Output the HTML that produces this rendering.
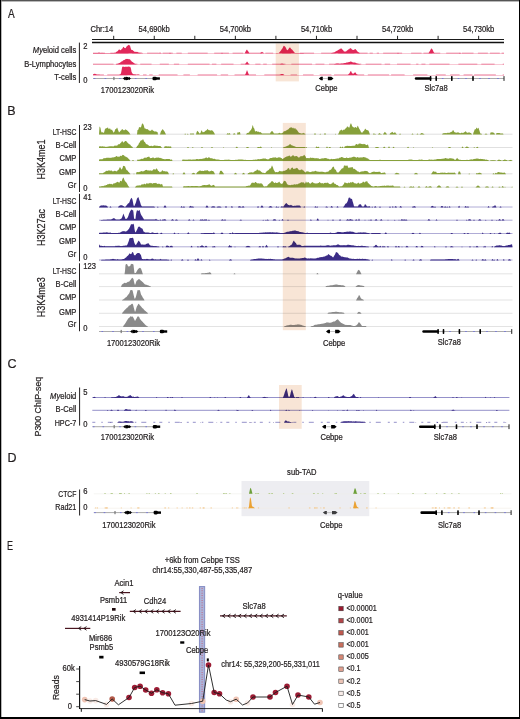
<!DOCTYPE html><html><head><meta charset="utf-8"><style>html,body{margin:0;padding:0;background:#fff;}svg{display:block;}text{font-family:"Liberation Sans", sans-serif;}svg{will-change:transform;}text{stroke:#231f20;stroke-width:0.22px;}</style></head><body>
<svg width="520" height="719" viewBox="0 0 520 719">
<rect x="0" y="0" width="520" height="719" fill="#fff" />
<text x="0" y="0" font-size="12.5" fill="#231f20" transform="translate(8 17.9) scale(0.8 1)">A</text>
<text x="0" y="0" font-size="8.22" text-anchor="start" fill="#231f20" transform="translate(90.4 31.6) scale(0.9250 1)" >Chr:14</text>
<text x="0" y="0" font-size="8.22" text-anchor="middle" fill="#231f20" transform="translate(154.2 31.6) scale(0.9250 1)" >54,690kb</text>
<text x="0" y="0" font-size="8.22" text-anchor="middle" fill="#231f20" transform="translate(235.4 31.6) scale(0.9250 1)" >54,700kb</text>
<text x="0" y="0" font-size="8.22" text-anchor="middle" fill="#231f20" transform="translate(316.5 31.6) scale(0.9250 1)" >54,710kb</text>
<text x="0" y="0" font-size="8.22" text-anchor="middle" fill="#231f20" transform="translate(397.6 31.6) scale(0.9250 1)" >54,720kb</text>
<text x="0" y="0" font-size="8.22" text-anchor="middle" fill="#231f20" transform="translate(478.7 31.6) scale(0.9250 1)" >54,730kb</text>
<line x1="92" y1="39.5" x2="504" y2="39.5" stroke="#1a1a1a" stroke-width="1" />
<line x1="92" y1="42.5" x2="504" y2="42.5" stroke="#111" stroke-width="1.3" />
<line x1="113.7" y1="35.8" x2="113.7" y2="39.3" stroke="#222" stroke-width="1" />
<line x1="154.25" y1="35.8" x2="154.25" y2="39.3" stroke="#222" stroke-width="1" />
<line x1="194.8" y1="35.8" x2="194.8" y2="39.3" stroke="#222" stroke-width="1" />
<line x1="235.35" y1="35.8" x2="235.35" y2="39.3" stroke="#222" stroke-width="1" />
<line x1="275.9" y1="35.8" x2="275.9" y2="39.3" stroke="#222" stroke-width="1" />
<line x1="316.45" y1="35.8" x2="316.45" y2="39.3" stroke="#222" stroke-width="1" />
<line x1="357" y1="35.8" x2="357" y2="39.3" stroke="#222" stroke-width="1" />
<line x1="397.55" y1="35.8" x2="397.55" y2="39.3" stroke="#222" stroke-width="1" />
<line x1="438.1" y1="35.8" x2="438.1" y2="39.3" stroke="#222" stroke-width="1" />
<line x1="478.65" y1="35.8" x2="478.65" y2="39.3" stroke="#222" stroke-width="1" />
<text x="0" y="0" font-size="8.22" text-anchor="end" fill="#231f20" transform="translate(76.3 52.6) scale(0.9250 1)" ><tspan font-style="italic">My</tspan>eloid cells</text>
<text x="0" y="0" font-size="8.22" text-anchor="end" fill="#231f20" transform="translate(76.3 66.6) scale(0.9250 1)" >B-Lymphocytes</text>
<text x="0" y="0" font-size="8.22" text-anchor="end" fill="#231f20" transform="translate(76.3 79.8) scale(0.9250 1)" >T-cells</text>
<line x1="79.4" y1="42.6" x2="79.4" y2="83" stroke="#231f20" stroke-width="1" />
<text x="0" y="0" font-size="8.22" text-anchor="start" fill="#231f20" transform="translate(83.3 48.6) scale(0.9250 1)" >2</text>
<text x="0" y="0" font-size="8.22" text-anchor="start" fill="#231f20" transform="translate(83.3 82.5) scale(0.9250 1)" >0</text>
<path d="M93 53.1H104.89M110.34 53.1H128.54M132.1 53.1H140.52M147.07 53.1H158.79M162.67 53.1H172.78M176.41 53.1H181.77M187.82 53.1H207.7M214.21 53.1H228.9M232.6 53.1H243.27M245.43 53.1H262M265.37 53.1H273.21M282.05 53.1H290.86M299.69 53.1H314.05M321.14 53.1H335.7M338.13 53.1H354.39M357.46 53.1H367.61M369.65 53.1H372.82M376.76 53.1H379.04M383.13 53.1H402.13M411.12 53.1H421.58M423.44 53.1H432.36M433.87 53.1H440.22M446.19 53.1H460.53M461.78 53.1H473.53M477.91 53.1H487.87M489.95 53.1H499.82M501.64 53.1H504" stroke="#ea7b98" stroke-width="0.75" fill="none"/>
<path d="M93 53.5 L93 53.1 L93.5 53.09 L94 53.07 L94.5 53.06 L95 53.04 L95.5 53.03 L96 53.01 L96.5 53 L97 52.99 L97.5 52.97 L98 52.96 L98.5 52.81 L99 52.5 L99.5 52.81 L100 52.9 L100.5 52.9 L101 52.9 L101.5 52.9 L102 52.7 L102.5 52.9 L103 52.9 L103.5 52.9 L104 52.9 L104.5 52.9 L105 52.9 L105.5 52.9 L106 52.9 L106.5 52.9 L107 52.9 L107.5 52.9 L108 52.9 L108.5 52.9 L109 52.9 L109.5 52.9 L110 52.9 L110.5 52.9 L111 52.9 L111.5 52.9 L112 52.9 L112.5 52.9 L113 52.9 L113.5 52.9 L114 52.9 L114.5 52.84 L115 52.77 L115.5 52.71 L116 52.36 L116.5 51.79 L117 51.39 L117.5 51.24 L118 50.75 L118.5 49.98 L119 49.55 L119.5 49.51 L120 49.9 L120.5 50.17 L121 49.95 L121.5 49.13 L122 48.82 L122.5 48.39 L123 47.36 L123.5 46.81 L124 47.13 L124.5 47.88 L125 48.1 L125.5 48.19 L126 47.56 L126.5 46.47 L127 46.26 L127.5 45.64 L128 45.3 L128.5 45.05 L129 44.83 L129.5 45.52 L130 45.62 L130.5 47.54 L131 49.05 L131.5 49.92 L132 50.09 L132.5 50.03 L133 50.41 L133.5 50.89 L134 51.18 L134.5 51.69 L135 52.02 L135.5 51.86 L136 51.87 L136.5 51.9 L137 51.72 L137.5 52.08 L138 52.3 L138.5 52.48 L139 52.7 L139.5 52.7 L140 52.7 L140.5 52.7 L141 52.7 L141.5 52.7 L142 52.87 L142.5 53.03 L143 53.2 L143.5 53.2 L144 53.2 L144.5 53.2 L145 53.2 L145.5 53.2 L146 53.2 L146.5 53.2 L147 53.2 L147.5 53.2 L148 53.2 L148.5 53.2 L149 53.2 L149.5 53.2 L150 53.2 L150.5 53.2 L151 53.2 L151.5 53.2 L152 53.2 L152.5 53.2 L153 53.2 L153.5 53.2 L154 53.2 L154.5 53.2 L155 53.2 L155.5 53.2 L156 53.2 L156.5 53.2 L157 53.2 L157.5 53.2 L158 53.2 L158.5 53.2 L159 53.12 L159.5 52.81 L160 52.5 L160.5 52.81 L161 53.12 L161.5 53.2 L162 53.2 L162.5 53.2 L163 53.2 L163.5 53.2 L164 53.2 L164.5 53.2 L165 53.2 L165.5 53.2 L166 53.2 L166.5 53.2 L167 53.2 L167.5 53.2 L168 53.2 L168.5 53.2 L169 53.2 L169.5 52.95 L170 52.7 L170.5 52.95 L171 53.2 L171.5 53.2 L172 53.2 L172.5 53.2 L173 53.2 L173.5 53.2 L174 53.2 L174.5 53.2 L175 53.2 L175.5 53.2 L176 53.2 L176.5 53.2 L177 53.2 L177.5 53.2 L178 53.2 L178.5 53.2 L179 53.2 L179.5 53.2 L180 53.2 L180.5 53.2 L181 53.2 L181.5 53.2 L182 53.2 L182.5 53.2 L183 53.2 L183.5 53.2 L184 53.2 L184.5 53.2 L185 53.2 L185.5 53.2 L186 53.2 L186.5 53.2 L187 53.2 L187.5 53.2 L188 53.2 L188.5 53.2 L189 53.2 L189.5 53.2 L190 53.2 L190.5 53.2 L191 53.2 L191.5 53.2 L192 53.2 L192.5 53.2 L193 53.2 L193.5 53.2 L194 53.2 L194.5 53.2 L195 53.2 L195.5 53.2 L196 53.2 L196.5 53.2 L197 53.2 L197.5 53.2 L198 53.2 L198.5 53.2 L199 53.2 L199.5 53.2 L200 53.2 L200.5 53.2 L201 53.2 L201.5 53.2 L202 53.2 L202.5 53.2 L203 53.2 L203.5 53.2 L204 53.2 L204.5 53.2 L205 53.2 L205.5 53.2 L206 53.2 L206.5 53.2 L207 53.2 L207.5 53.2 L208 53.2 L208.5 53.2 L209 53.2 L209.5 53.2 L210 53.2 L210.5 53.2 L211 53.2 L211.5 53.2 L212 53.2 L212.5 53.2 L213 53.2 L213.5 53.2 L214 53.2 L214.5 53.2 L215 53.2 L215.5 53.2 L216 53.2 L216.5 53.2 L217 53.2 L217.5 53.2 L218 53.2 L218.5 53.2 L219 53.2 L219.5 53.2 L220 53.2 L220.5 53.2 L221 53.2 L221.5 52.95 L222 52.7 L222.5 52.95 L223 53.2 L223.5 53.2 L224 53.2 L224.5 53.2 L225 53.2 L225.5 53.2 L226 53.2 L226.5 53.2 L227 53.2 L227.5 53.2 L228 53.2 L228.5 53.2 L229 53.2 L229.5 53.2 L230 53.2 L230.5 53.2 L231 53.2 L231.5 53.2 L232 53.2 L232.5 53.2 L233 53.2 L233.5 53.2 L234 53.2 L234.5 53.2 L235 53.2 L235.5 53.2 L236 53.2 L236.5 53.2 L237 53.2 L237.5 53.2 L238 53.2 L238.5 53.2 L239 53.2 L239.5 53.2 L240 53.2 L240.5 53.2 L241 53.2 L241.5 53.2 L242 53.2 L242.5 53.2 L243 53.2 L243.5 53.2 L244 53.2 L244.5 53.2 L245 52.66 L245.5 51.81 L246 50.79 L246.5 49.9 L247 49.42 L247.5 50.41 L248 51.05 L248.5 51.79 L249 52.66 L249.5 53.2 L250 53.2 L250.5 53.2 L251 53.2 L251.5 53.2 L252 53.2 L252.5 53.2 L253 53.2 L253.5 53.2 L254 53.2 L254.5 53.2 L255 53.2 L255.5 53.2 L256 53.2 L256.5 53.2 L257 53.2 L257.5 53.2 L258 53.2 L258.5 53.2 L259 53.2 L259.5 53.2 L260 53.18 L260.5 52.86 L261 52.54 L261.5 52.14 L262 51.87 L262.5 52.26 L263 52.54 L263.5 52.86 L264 53.18 L264.5 53.2 L265 53.2 L265.5 53.2 L266 53.2 L266.5 53.2 L267 53.2 L267.5 53.2 L268 53.2 L268.5 53.2 L269 53.2 L269.5 53.2 L270 53.2 L270.5 53.2 L271 53.2 L271.5 53.2 L272 53.2 L272.5 53.2 L273 53.2 L273.5 53.2 L274 53.2 L274.5 53.2 L275 53.2 L275.5 53.2 L276 53.2 L276.5 53.09 L277 52.9 L277.5 53.09 L278 53.2 L278.5 53.2 L279 52.85 L279.5 52.33 L280 51.63 L280.5 50.95 L281 50.57 L281.5 49.58 L282 49.06 L282.5 48.27 L283 47.19 L283.5 45.89 L284 45.8 L284.5 46.26 L285 46.59 L285.5 47.3 L286 48.01 L286.5 49.22 L287 50.11 L287.5 50.23 L288 49.67 L288.5 48.88 L289 48.28 L289.5 47.75 L290 47.33 L290.5 47.88 L291 48.71 L291.5 49.2 L292 49.45 L292.5 50.02 L293 50.66 L293.5 51.22 L294 51.9 L294.5 52.6 L295 53.1 L295.5 53.1 L296 53.1 L296.5 53.1 L297 53.11 L297.5 53.11 L298 53.11 L298.5 53.11 L299 53.11 L299.5 53.11 L300 53.11 L300.5 53.12 L301 53.12 L301.5 53.12 L302 53.12 L302.5 53.12 L303 53.12 L303.5 53.12 L304 53.13 L304.5 53.13 L305 53.13 L305.5 53.13 L306 53.13 L306.5 53.13 L307 53.13 L307.5 53.13 L308 53.14 L308.5 53.14 L309 53.14 L309.5 53.14 L310 53.14 L310.5 53.14 L311 53.14 L311.5 53.15 L312 53.15 L312.5 53.15 L313 53.15 L313.5 53.15 L314 53.15 L314.5 53.15 L315 53.16 L315.5 53.16 L316 53.16 L316.5 53.16 L317 53.16 L317.5 53.16 L318 53.16 L318.5 53.17 L319 53.17 L319.5 53.17 L320 53.17 L320.5 53.17 L321 53.17 L321.5 53.17 L322 53.18 L322.5 53.18 L323 53.18 L323.5 53.18 L324 53.18 L324.5 53.18 L325 53.18 L325.5 53.18 L326 53.19 L326.5 53.19 L327 53.19 L327.5 53.19 L328 53.19 L328.5 53.19 L329 53.19 L329.5 53.2 L330 53.2 L330.5 53.2 L331 53.2 L331.5 53.08 L332 52.97 L332.5 52.85 L333 52.73 L333.5 52.62 L334 52.5 L334.5 52.17 L335 51.97 L335.5 51.61 L336 51.32 L336.5 51.1 L337 50.83 L337.5 50.48 L338 50.22 L338.5 49.84 L339 49.77 L339.5 49.3 L340 48.85 L340.5 48.72 L341 48.39 L341.5 48.48 L342 48.94 L342.5 49.68 L343 50.03 L343.5 50.77 L344 51.52 L344.5 51.46 L345 51.46 L345.5 51.49 L346 51.48 L346.5 50.93 L347 50.59 L347.5 50.21 L348 49.73 L348.5 49.36 L349 49.45 L349.5 48.84 L350 48.34 L350.5 48.3 L351 48.37 L351.5 49.02 L352 49.38 L352.5 49.73 L353 49.99 L353.5 49.98 L354 49.8 L354.5 49.47 L355 49.05 L355.5 49.01 L356 49.71 L356.5 50.23 L357 50.84 L357.5 51.43 L358 52.07 L358.5 52.3 L359 52.6 L359.5 52.9 L360 53.2 L360.5 53.2 L361 53.2 L361.5 53.2 L362 53.2 L362.5 53.2 L363 53.2 L363.5 53.2 L364 53.2 L364.5 53.2 L365 53.2 L365.5 53.2 L366 53.2 L366.5 53.2 L367 53.2 L367.5 53.2 L368 53.2 L368.5 53.2 L369 53.2 L369.5 53.2 L370 53.2 L370.5 53.2 L371 53.2 L371.5 53.2 L372 53.2 L372.5 53.2 L373 53.2 L373.5 53.2 L374 53.2 L374.5 53.2 L375 53.2 L375.5 53.2 L376 53.2 L376.5 53.2 L377 53.2 L377.5 53.2 L378 53.2 L378.5 53.2 L379 53.2 L379.5 53.2 L380 53.2 L380.5 53.2 L381 53.2 L381.5 53.2 L382 53.2 L382.5 53.2 L383 53.2 L383.5 53.2 L384 53.2 L384.5 53.2 L385 53.2 L385.5 53.2 L386 53.2 L386.5 53.2 L387 53.2 L387.5 53.2 L388 53.2 L388.5 53.2 L389 53.2 L389.5 53.2 L390 53.2 L390.5 53.2 L391 53.2 L391.5 53.2 L392 53.2 L392.5 53.2 L393 53.2 L393.5 53.2 L394 53.2 L394.5 53.2 L395 53.2 L395.5 53.2 L396 53.2 L396.5 53.2 L397 53.2 L397.5 52.95 L398 52.7 L398.5 52.95 L399 53.2 L399.5 53.2 L400 53.2 L400.5 53.2 L401 53.2 L401.5 53.2 L402 53.2 L402.5 53.2 L403 53.2 L403.5 53.2 L404 53.2 L404.5 53.2 L405 53.2 L405.5 53.2 L406 53.2 L406.5 53.2 L407 53.2 L407.5 53.2 L408 53.2 L408.5 53.2 L409 53.2 L409.5 53.2 L410 53.2 L410.5 53.2 L411 53.2 L411.5 53.2 L412 53.2 L412.5 53.2 L413 53.2 L413.5 53.2 L414 53.2 L414.5 53.2 L415 53.2 L415.5 53.2 L416 53.2 L416.5 53.2 L417 53.2 L417.5 53.2 L418 53.2 L418.5 53.2 L419 53.2 L419.5 53.2 L420 53.2 L420.5 53.2 L421 53.2 L421.5 53.2 L422 53.2 L422.5 53.2 L423 53.2 L423.5 53.2 L424 53.2 L424.5 53.2 L425 53.2 L425.5 53.2 L426 53.2 L426.5 53.2 L427 53.2 L427.5 53.2 L428 53.2 L428.5 53.2 L429 52.58 L429.5 51.51 L430 50.68 L430.5 49.7 L431 49.03 L431.5 48.25 L432 48.93 L432.5 49.52 L433 50.55 L433.5 51.72 L434 52.58 L434.5 53.2 L435 53.2 L435.5 53.2 L436 53.2 L436.5 53.2 L437 53.2 L437.5 53.2 L438 53.2 L438.5 53.2 L439 53.2 L439.5 53.2 L440 53.2 L440.5 53.2 L441 53.2 L441.5 53.2 L442 53.2 L442.5 53.2 L443 53.2 L443.5 53.2 L444 53.2 L444.5 53.2 L445 53.2 L445.5 53.2 L446 53.2 L446.5 53.2 L447 53.2 L447.5 53.2 L448 53.2 L448.5 53.2 L449 53.2 L449.5 53.2 L450 53.2 L450.5 53.2 L451 53.2 L451.5 53.2 L452 53.2 L452.5 53.2 L453 53.2 L453.5 53.2 L454 53.2 L454.5 53.2 L455 53.2 L455.5 53.2 L456 53.2 L456.5 53.2 L457 53.2 L457.5 53.2 L458 53.2 L458.5 53.2 L459 53.2 L459.5 53.02 L460 52.8 L460.5 53.02 L461 53.2 L461.5 53.2 L462 53.2 L462.5 53.2 L463 53.2 L463.5 53.2 L464 53.2 L464.5 53.2 L465 53.2 L465.5 53.2 L466 53.2 L466.5 53.2 L467 53.2 L467.5 53.2 L468 53.2 L468.5 53.2 L469 53.2 L469.5 53.2 L470 53.2 L470.5 53.2 L471 53.2 L471.5 53.2 L472 53.2 L472.5 53.2 L473 53.2 L473.5 53.2 L474 53.2 L474.5 53.2 L475 53.2 L475.5 53.2 L476 53.2 L476.5 53.2 L477 53.2 L477.5 53.2 L478 53.2 L478.5 53.2 L479 53.2 L479.5 53.2 L480 53.2 L480.5 53.2 L481 53.2 L481.5 53.2 L482 53.2 L482.5 53.2 L483 53.2 L483.5 53.2 L484 53.2 L484.5 53.2 L485 53.2 L485.5 53.2 L486 53.2 L486.5 53.2 L487 53.2 L487.5 53.2 L488 53.2 L488.5 53.2 L489 53.2 L489.5 53.2 L490 53.2 L490.5 53.2 L491 53.2 L491.5 53.2 L492 53.2 L492.5 53.2 L493 53.2 L493.5 53.2 L494 53.2 L494.5 53.2 L495 53.2 L495.5 53.2 L496 53.2 L496.5 53.2 L497 53.2 L497.5 53.2 L498 53.2 L498.5 53.2 L499 53.2 L499.5 53.2 L500 53.2 L500.5 53.2 L501 53.2 L501.5 53.2 L502 53.2 L502.5 53.2 L503 53.2 L503.5 53.2 L504 53.2 L504 53.5 Z" fill="#e1285a"/>
<path d="M93 64.1H113.56M115.94 64.1H137.36M140.26 64.1H151.56M159.74 64.1H168.85M173.92 64.1H179.15M187.84 64.1H209.54M211.92 64.1H216.37M221.15 64.1H233.53M240.73 64.1H249.58M255.31 64.1H260.51M263.21 64.1H266.79M272.16 64.1H285.41M291.35 64.1H312.06M315.51 64.1H324.36M329.07 64.1H349.99M353.45 64.1H361.26M365.67 64.1H381.47M384.7 64.1H390.16M397.02 64.1H410.52M416.15 64.1H418.42M421.42 64.1H425.45M429.37 64.1H449.49M458.4 64.1H477.33M481.29 64.1H494.6M502.77 64.1H504" stroke="#ea7b98" stroke-width="0.75" fill="none"/>
<path d="M93 64.5 L93 64.2 L93.5 64.2 L94 64.2 L94.5 64.2 L95 64.2 L95.5 64.2 L96 64.2 L96.5 64.2 L97 64.2 L97.5 64.2 L98 64.2 L98.5 64.2 L99 64.2 L99.5 64.2 L100 64.2 L100.5 64.2 L101 64.2 L101.5 64.2 L102 64.2 L102.5 64.2 L103 64.2 L103.5 64.2 L104 64.2 L104.5 64.2 L105 64.2 L105.5 64.2 L106 64.2 L106.5 64.2 L107 64.2 L107.5 64.2 L108 64.2 L108.5 64.2 L109 64.2 L109.5 64.2 L110 64.2 L110.5 64.2 L111 64.2 L111.5 64.2 L112 64.2 L112.5 64.2 L113 64.2 L113.5 64.2 L114 64.2 L114.5 64.2 L115 64.2 L115.5 64.2 L116 64.2 L116.5 64.08 L117 63.95 L117.5 63.83 L118 63.7 L118.5 63.42 L119 63.11 L119.5 62.96 L120 62.7 L120.5 62.36 L121 61.97 L121.5 61.52 L122 61.36 L122.5 61.21 L123 60.57 L123.5 60.31 L124 60.07 L124.5 59.95 L125 59.61 L125.5 59.22 L126 58.8 L126.5 59.12 L127 58.96 L127.5 58.98 L128 58.75 L128.5 59.29 L129 59.37 L129.5 59.31 L130 59.34 L130.5 60.17 L131 60.58 L131.5 61.17 L132 61.66 L132.5 61.93 L133 62.25 L133.5 62.78 L134 63.3 L134.5 63.52 L135 63.75 L135.5 63.98 L136 64.2 L136.5 64.2 L137 64.2 L137.5 64.2 L138 64.2 L138.5 64.2 L139 64.2 L139.5 64.2 L140 64.2 L140.5 64.2 L141 64.2 L141.5 64.2 L142 64.2 L142.5 64.2 L143 64.2 L143.5 64.2 L144 64.2 L144.5 64.2 L145 64.2 L145.5 64.2 L146 64.2 L146.5 64.2 L147 64.2 L147.5 64.2 L148 64.2 L148.5 64.2 L149 64.2 L149.5 64.2 L150 64.2 L150.5 64.2 L151 64.2 L151.5 64.2 L152 64.2 L152.5 64.2 L153 64.2 L153.5 64.2 L154 64.2 L154.5 64.2 L155 64.2 L155.5 64.2 L156 64.2 L156.5 64.2 L157 64.2 L157.5 64.2 L158 64.2 L158.5 64.2 L159 64.2 L159.5 64.2 L160 64.2 L160.5 64.2 L161 64.2 L161.5 64.2 L162 64.2 L162.5 64.2 L163 64.2 L163.5 64.2 L164 64.2 L164.5 64.2 L165 64.2 L165.5 64.2 L166 64.2 L166.5 64.2 L167 64.2 L167.5 64.2 L168 64.2 L168.5 64.2 L169 64.2 L169.5 64.2 L170 64.2 L170.5 64.2 L171 64.2 L171.5 64.2 L172 64.2 L172.5 64.2 L173 64.2 L173.5 64.2 L174 64.2 L174.5 64.2 L175 64.2 L175.5 64.2 L176 64.2 L176.5 64.2 L177 64.2 L177.5 64.2 L178 64.2 L178.5 64.2 L179 64.2 L179.5 64.2 L180 64.2 L180.5 64.2 L181 64.2 L181.5 64.2 L182 64.2 L182.5 64.2 L183 64.2 L183.5 64.2 L184 64.2 L184.5 64.2 L185 64.2 L185.5 64.2 L186 64.2 L186.5 64.2 L187 64.2 L187.5 64.2 L188 64.2 L188.5 64.2 L189 64.2 L189.5 64.2 L190 64.2 L190.5 64.2 L191 64.2 L191.5 64.2 L192 64.2 L192.5 64.2 L193 64.2 L193.5 64.2 L194 64.2 L194.5 64.2 L195 64.2 L195.5 64.2 L196 64.2 L196.5 64.2 L197 64.2 L197.5 64.2 L198 64.2 L198.5 64.2 L199 64.2 L199.5 64.2 L200 64.2 L200.5 64.2 L201 64.2 L201.5 64.2 L202 64.2 L202.5 64.2 L203 64.2 L203.5 64.2 L204 64.2 L204.5 64.2 L205 64.2 L205.5 64.2 L206 64.2 L206.5 64.2 L207 64.2 L207.5 64.2 L208 64.2 L208.5 64.2 L209 64.2 L209.5 64.2 L210 64.2 L210.5 64.2 L211 64.2 L211.5 64.2 L212 64.2 L212.5 64.2 L213 64.2 L213.5 64.2 L214 64.2 L214.5 64.2 L215 64.2 L215.5 64.2 L216 64.2 L216.5 64.2 L217 64.2 L217.5 64.2 L218 64.2 L218.5 64.2 L219 64.2 L219.5 64.2 L220 64.2 L220.5 64.2 L221 64.2 L221.5 64.2 L222 64.2 L222.5 64.2 L223 64.2 L223.5 64.2 L224 64.2 L224.5 64.2 L225 64.2 L225.5 64.2 L226 64.2 L226.5 64.2 L227 64.2 L227.5 64.2 L228 64.2 L228.5 64.2 L229 64.2 L229.5 64.2 L230 64.2 L230.5 64.2 L231 64.2 L231.5 64.2 L232 64.2 L232.5 64.2 L233 64.2 L233.5 64.2 L234 64.2 L234.5 64.2 L235 64.2 L235.5 64.2 L236 64.2 L236.5 64.2 L237 64.2 L237.5 64.2 L238 64.2 L238.5 64.2 L239 64.2 L239.5 64.2 L240 64.2 L240.5 64.2 L241 64.2 L241.5 64.2 L242 64.2 L242.5 64.2 L243 64.2 L243.5 64.2 L244 64.2 L244.5 64.2 L245 64.2 L245.5 63.55 L246 63 L246.5 62.34 L247 61.45 L247.5 62.06 L248 62.69 L248.5 63.55 L249 64.2 L249.5 64.2 L250 64.2 L250.5 64.2 L251 64.2 L251.5 64.2 L252 64.2 L252.5 64.2 L253 64.2 L253.5 64.2 L254 64.2 L254.5 64.2 L255 64.2 L255.5 64.2 L256 64.2 L256.5 64.2 L257 64.2 L257.5 64.2 L258 64.2 L258.5 64.2 L259 64.2 L259.5 64.2 L260 64.2 L260.5 64.2 L261 64.2 L261.5 64.2 L262 64.2 L262.5 64.2 L263 64.2 L263.5 64.2 L264 64.2 L264.5 64.2 L265 64.2 L265.5 64.2 L266 64.2 L266.5 64.2 L267 64.2 L267.5 64.2 L268 64.2 L268.5 64.2 L269 64.2 L269.5 64.2 L270 64.2 L270.5 64.2 L271 64.2 L271.5 64.2 L272 64.2 L272.5 64.2 L273 64.2 L273.5 64.2 L274 64.2 L274.5 64.2 L275 64.2 L275.5 64.2 L276 64.2 L276.5 64.2 L277 64.2 L277.5 64.2 L278 64.2 L278.5 64.2 L279 64.2 L279.5 64.2 L280 64.17 L280.5 64 L281 63.83 L281.5 63.67 L282 63.5 L282.5 63.67 L283 63.83 L283.5 64 L284 64.17 L284.5 64.2 L285 64.2 L285.5 64.2 L286 64.2 L286.5 64.2 L287 64.2 L287.5 64.2 L288 64.2 L288.5 64.2 L289 64.2 L289.5 64.2 L290 64.2 L290.5 64.2 L291 64.2 L291.5 64.2 L292 64.2 L292.5 64.2 L293 64.2 L293.5 64.2 L294 64.2 L294.5 64.2 L295 64.2 L295.5 64.2 L296 64.2 L296.5 64.2 L297 64.2 L297.5 64.2 L298 64.2 L298.5 64.2 L299 64.2 L299.5 64.2 L300 64.2 L300.5 64.2 L301 64.2 L301.5 64.2 L302 64.2 L302.5 64.2 L303 64.2 L303.5 64.2 L304 64.2 L304.5 64.2 L305 64.2 L305.5 64.2 L306 64.2 L306.5 64.2 L307 64.2 L307.5 64.2 L308 64.2 L308.5 64.2 L309 64.2 L309.5 64.2 L310 64.2 L310.5 64.2 L311 64.2 L311.5 64.2 L312 64.2 L312.5 64.2 L313 64.2 L313.5 64.2 L314 64.2 L314.5 64.2 L315 64.2 L315.5 64.2 L316 64.2 L316.5 64.2 L317 64.2 L317.5 64.2 L318 64.2 L318.5 64.2 L319 64.2 L319.5 64.2 L320 64.2 L320.5 64.2 L321 64.2 L321.5 64.2 L322 64.2 L322.5 64.2 L323 64.2 L323.5 64.2 L324 64.2 L324.5 64.2 L325 64.2 L325.5 64.2 L326 64.2 L326.5 64.2 L327 64.2 L327.5 64.2 L328 64.2 L328.5 64.2 L329 64.2 L329.5 64.2 L330 64.2 L330.5 64.2 L331 64.2 L331.5 64.2 L332 64.2 L332.5 64.2 L333 64.2 L333.5 64.2 L334 64.2 L334.5 64.08 L335 63.97 L335.5 63.85 L336 63.73 L336.5 63.62 L337 63.5 L337.5 63.53 L338 63.57 L338.5 63.6 L339 63.63 L339.5 63.67 L340 63.7 L340.5 63.65 L341 63.6 L341.5 63.55 L342 63.5 L342.5 63.45 L343 63.4 L343.5 63.35 L344 63.3 L344.5 63.1 L345 63.03 L345.5 62.98 L346 62.71 L346.5 62.49 L347 62.39 L347.5 62.48 L348 62.35 L348.5 62.15 L349 62.11 L349.5 61.9 L350 61.67 L350.5 61.48 L351 61.46 L351.5 61.76 L352 62.11 L352.5 62.24 L353 62.53 L353.5 62.62 L354 62.59 L354.5 62.38 L355 62.38 L355.5 62.74 L356 62.94 L356.5 63.23 L357 63.5 L357.5 63.62 L358 63.73 L358.5 63.85 L359 63.97 L359.5 64.08 L360 64.2 L360.5 64.2 L361 64.2 L361.5 64.2 L362 64.2 L362.5 64.2 L363 64.2 L363.5 64.2 L364 64.2 L364.5 64.2 L365 64.2 L365.5 64.2 L366 64.2 L366.5 64.2 L367 64.2 L367.5 64.2 L368 64.2 L368.5 64.2 L369 64.2 L369.5 64.2 L370 64.2 L370.5 64.2 L371 64.2 L371.5 64.2 L372 64.2 L372.5 64.2 L373 64.2 L373.5 64.2 L374 64.2 L374.5 64.2 L375 64.2 L375.5 64.2 L376 64.2 L376.5 64.2 L377 64.2 L377.5 64.2 L378 64.2 L378.5 64.2 L379 64.2 L379.5 64.2 L380 64.2 L380.5 64.2 L381 64.2 L381.5 64.2 L382 64.2 L382.5 64.2 L383 64.2 L383.5 64.2 L384 64.2 L384.5 64.2 L385 64.2 L385.5 64.2 L386 64.2 L386.5 64.2 L387 64.2 L387.5 64.2 L388 64.2 L388.5 64.2 L389 64.2 L389.5 64.2 L390 64.2 L390.5 64.2 L391 64.2 L391.5 64.2 L392 64.2 L392.5 64.2 L393 64.2 L393.5 64.2 L394 64.2 L394.5 64.2 L395 64.2 L395.5 64.2 L396 64.2 L396.5 64.2 L397 64.2 L397.5 64.2 L398 64.2 L398.5 64.2 L399 64.2 L399.5 64.2 L400 64.2 L400.5 64.2 L401 64.2 L401.5 64.2 L402 64.2 L402.5 64.2 L403 64.2 L403.5 64.2 L404 64.2 L404.5 64.2 L405 64.2 L405.5 64.2 L406 64.2 L406.5 64.2 L407 64.2 L407.5 64.2 L408 64.2 L408.5 64.2 L409 64.2 L409.5 64.2 L410 64.2 L410.5 64.2 L411 64.2 L411.5 64.2 L412 64.2 L412.5 64.2 L413 64.2 L413.5 64.2 L414 64.2 L414.5 64.2 L415 64.2 L415.5 64.2 L416 64.2 L416.5 64.2 L417 64.2 L417.5 64.2 L418 64.2 L418.5 64.2 L419 64.2 L419.5 64.2 L420 64.2 L420.5 64.2 L421 64.2 L421.5 64.2 L422 64.2 L422.5 64.2 L423 64.2 L423.5 64.2 L424 64.2 L424.5 64.2 L425 64.2 L425.5 64.2 L426 64.2 L426.5 64.2 L427 64.2 L427.5 64.2 L428 64.2 L428.5 64.2 L429 64.2 L429.5 64.2 L430 64.2 L430.5 64.2 L431 64.2 L431.5 64.2 L432 64.2 L432.5 64.2 L433 64.2 L433.5 64.2 L434 64.2 L434.5 64.2 L435 64.2 L435.5 64.2 L436 64.2 L436.5 64.2 L437 64.2 L437.5 64.2 L438 64.2 L438.5 64.2 L439 64.2 L439.5 64.2 L440 64.2 L440.5 64.2 L441 64.2 L441.5 64.2 L442 64.2 L442.5 64.2 L443 64.2 L443.5 64.2 L444 64.2 L444.5 64.2 L445 64.2 L445.5 64.2 L446 64.2 L446.5 64.2 L447 64.2 L447.5 64.2 L448 64.2 L448.5 64.2 L449 64.2 L449.5 64.2 L450 64.2 L450.5 64.2 L451 64.2 L451.5 64.2 L452 64.2 L452.5 64.2 L453 64.2 L453.5 64.2 L454 64.2 L454.5 64.2 L455 64.2 L455.5 64.2 L456 64.2 L456.5 64.2 L457 64.2 L457.5 64.2 L458 64.2 L458.5 64.2 L459 64.2 L459.5 64.2 L460 64.2 L460.5 64.2 L461 64.2 L461.5 64.2 L462 64.2 L462.5 64.2 L463 64.2 L463.5 64.2 L464 64.2 L464.5 64.2 L465 64.2 L465.5 64.2 L466 64.2 L466.5 64.2 L467 64.2 L467.5 64.2 L468 64.2 L468.5 64.2 L469 64.2 L469.5 64.2 L470 64.2 L470.5 64.2 L471 64.2 L471.5 64.2 L472 64.2 L472.5 64.2 L473 64.2 L473.5 64.2 L474 64.2 L474.5 64.2 L475 64.2 L475.5 64.2 L476 64.2 L476.5 64.2 L477 64.2 L477.5 64.2 L478 64.2 L478.5 64.2 L479 64.2 L479.5 64.2 L480 64.2 L480.5 64.2 L481 64.2 L481.5 64.2 L482 64.2 L482.5 64.2 L483 64.2 L483.5 64.2 L484 64.2 L484.5 64.2 L485 64.2 L485.5 64.2 L486 64.2 L486.5 64.2 L487 64.2 L487.5 64.2 L488 64.2 L488.5 64.2 L489 64.2 L489.5 64.2 L490 64.2 L490.5 64.2 L491 64.2 L491.5 64.2 L492 64.2 L492.5 64.2 L493 64.2 L493.5 64.2 L494 64.2 L494.5 64.2 L495 64.2 L495.5 64.2 L496 64.2 L496.5 64.2 L497 64.2 L497.5 64.2 L498 64.2 L498.5 64.2 L499 64.2 L499.5 64.2 L500 64.2 L500.5 64.2 L501 64.2 L501.5 64.2 L502 64.2 L502.5 64.2 L503 64.2 L503.5 64.2 L504 64.2 L504 64.5 Z" fill="#e1285a"/>
<path d="M93 74.8H103.9M107.26 74.8H127.44M132.32 74.8H136.06M143.06 74.8H146.57M149.19 74.8H152.67M158.69 74.8H177.54M183.43 74.8H189.88M197.64 74.8H217.07M220.7 74.8H228.17M234.56 74.8H256.02M264.32 74.8H283.85M290.58 74.8H297.14M303.04 74.8H313.6M319.71 74.8H331.45M334.1 74.8H354.06M355.35 74.8H364.18M367.81 74.8H389.14M391.08 74.8H404.64M413.18 74.8H427.41M435.84 74.8H445.72M450.22 74.8H459.63M463.58 74.8H472.54M474.13 74.8H495.84M502.71 74.8H504" stroke="#ea7b98" stroke-width="0.75" fill="none"/>
<path d="M93 75.2 L93 74.6 L93.5 74.35 L94 74.1 L94.5 73.87 L95 73.65 L95.5 73.92 L96 74.15 L96.5 74.42 L97 74.7 L97.5 74.73 L98 74.77 L98.5 74.8 L99 74.83 L99.5 74.87 L100 74.9 L100.5 74.9 L101 74.9 L101.5 74.9 L102 74.9 L102.5 74.9 L103 74.9 L103.5 74.9 L104 74.9 L104.5 74.9 L105 74.9 L105.5 74.9 L106 74.9 L106.5 74.9 L107 74.9 L107.5 74.9 L108 74.9 L108.5 74.9 L109 74.9 L109.5 74.9 L110 74.9 L110.5 74.9 L111 74.9 L111.5 74.9 L112 74.9 L112.5 74.9 L113 74.9 L113.5 74.9 L114 74.9 L114.5 74.9 L115 74.9 L115.5 74.9 L116 74.9 L116.5 74.9 L117 74.9 L117.5 74.9 L118 74.9 L118.5 74.9 L119 74.9 L119.5 74.71 L120 74.51 L120.5 74.32 L121 73.24 L121.5 70.82 L122 67.84 L122.5 66.56 L123 66.75 L123.5 66.64 L124 66.62 L124.5 67.02 L125 67.01 L125.5 66.65 L126 66.55 L126.5 66.73 L127 66.97 L127.5 66.84 L128 66.56 L128.5 66.49 L129 66.63 L129.5 66.85 L130 66.69 L130.5 67.13 L131 68.8 L131.5 71.67 L132 72.71 L132.5 73.45 L133 74.2 L133.5 74.28 L134 74.37 L134.5 74.45 L135 74.53 L135.5 74.62 L136 74.7 L136.5 74.6 L137 74.5 L137.5 74.4 L138 74.3 L138.5 74.45 L139 74.6 L139.5 74.75 L140 74.9 L140.5 74.9 L141 74.9 L141.5 74.9 L142 74.9 L142.5 74.9 L143 74.9 L143.5 74.9 L144 74.9 L144.5 74.9 L145 74.9 L145.5 74.9 L146 74.9 L146.5 74.9 L147 74.9 L147.5 74.9 L148 74.9 L148.5 74.9 L149 74.9 L149.5 74.9 L150 74.9 L150.5 74.9 L151 74.9 L151.5 74.9 L152 74.9 L152.5 74.9 L153 74.9 L153.5 74.9 L154 74.9 L154.5 74.9 L155 74.9 L155.5 74.9 L156 74.9 L156.5 74.9 L157 74.9 L157.5 74.9 L158 74.9 L158.5 74.9 L159 74.9 L159.5 74.9 L160 74.9 L160.5 74.9 L161 74.9 L161.5 74.9 L162 74.9 L162.5 74.9 L163 74.9 L163.5 74.9 L164 74.9 L164.5 74.9 L165 74.9 L165.5 74.9 L166 74.9 L166.5 74.9 L167 74.9 L167.5 74.9 L168 74.9 L168.5 74.9 L169 74.9 L169.5 74.9 L170 74.9 L170.5 74.9 L171 74.9 L171.5 74.9 L172 74.9 L172.5 74.9 L173 74.9 L173.5 74.9 L174 74.9 L174.5 74.9 L175 74.9 L175.5 74.9 L176 74.9 L176.5 74.9 L177 74.9 L177.5 74.9 L178 74.9 L178.5 74.9 L179 74.9 L179.5 74.9 L180 74.9 L180.5 74.9 L181 74.9 L181.5 74.9 L182 74.9 L182.5 74.9 L183 74.9 L183.5 74.9 L184 74.9 L184.5 74.9 L185 74.9 L185.5 74.9 L186 74.9 L186.5 74.9 L187 74.9 L187.5 74.9 L188 74.9 L188.5 74.9 L189 74.9 L189.5 74.9 L190 74.9 L190.5 74.9 L191 74.9 L191.5 74.9 L192 74.9 L192.5 74.9 L193 74.9 L193.5 74.9 L194 74.9 L194.5 74.9 L195 74.9 L195.5 74.9 L196 74.9 L196.5 74.9 L197 74.9 L197.5 74.9 L198 74.9 L198.5 74.9 L199 74.9 L199.5 74.9 L200 74.9 L200.5 74.9 L201 74.9 L201.5 74.9 L202 74.9 L202.5 74.9 L203 74.9 L203.5 74.9 L204 74.9 L204.5 74.9 L205 74.9 L205.5 74.9 L206 74.9 L206.5 74.9 L207 74.9 L207.5 74.9 L208 74.9 L208.5 74.9 L209 74.9 L209.5 74.9 L210 74.9 L210.5 74.9 L211 74.9 L211.5 74.9 L212 74.9 L212.5 74.9 L213 74.9 L213.5 74.9 L214 74.9 L214.5 74.9 L215 74.9 L215.5 74.9 L216 74.9 L216.5 74.9 L217 74.9 L217.5 74.9 L218 74.9 L218.5 74.9 L219 74.9 L219.5 74.9 L220 74.9 L220.5 74.9 L221 74.9 L221.5 74.9 L222 74.9 L222.5 74.9 L223 74.9 L223.5 74.9 L224 74.9 L224.5 74.9 L225 74.9 L225.5 74.9 L226 74.9 L226.5 74.9 L227 74.9 L227.5 74.9 L228 74.9 L228.5 74.9 L229 74.9 L229.5 74.9 L230 74.9 L230.5 74.9 L231 74.9 L231.5 74.9 L232 74.9 L232.5 74.9 L233 74.9 L233.5 74.9 L234 74.9 L234.5 74.9 L235 74.9 L235.5 74.9 L236 74.9 L236.5 74.9 L237 74.9 L237.5 74.9 L238 74.9 L238.5 74.9 L239 74.9 L239.5 74.9 L240 74.9 L240.5 74.9 L241 74.9 L241.5 74.9 L242 74.9 L242.5 74.9 L243 74.9 L243.5 74.9 L244 74.9 L244.5 74.9 L245 74.9 L245.5 73.88 L246 72.63 L246.5 71.41 L247 70.06 L247.5 71.3 L248 72.54 L248.5 73.86 L249 74.9 L249.5 74.9 L250 74.9 L250.5 74.9 L251 74.9 L251.5 74.9 L252 74.9 L252.5 74.9 L253 74.9 L253.5 74.9 L254 74.9 L254.5 74.9 L255 74.9 L255.5 74.9 L256 74.9 L256.5 74.9 L257 74.9 L257.5 74.9 L258 74.9 L258.5 74.9 L259 74.9 L259.5 74.9 L260 74.9 L260.5 74.9 L261 74.9 L261.5 74.9 L262 74.9 L262.5 74.9 L263 74.9 L263.5 74.9 L264 74.9 L264.5 74.9 L265 74.9 L265.5 74.9 L266 74.9 L266.5 74.9 L267 74.9 L267.5 74.9 L268 74.9 L268.5 74.9 L269 74.9 L269.5 74.9 L270 74.9 L270.5 74.9 L271 74.9 L271.5 74.9 L272 74.9 L272.5 74.9 L273 74.9 L273.5 74.9 L274 74.9 L274.5 74.9 L275 74.9 L275.5 74.9 L276 74.9 L276.5 74.9 L277 74.9 L277.5 74.9 L278 74.9 L278.5 74.9 L279 74.9 L279.5 74.9 L280 74.77 L280.5 74.55 L281 74.33 L281.5 74.12 L282 73.89 L282.5 74.12 L283 74.33 L283.5 74.55 L284 74.77 L284.5 74.9 L285 74.9 L285.5 74.9 L286 74.9 L286.5 74.9 L287 74.9 L287.5 74.9 L288 74.9 L288.5 74.9 L289 74.9 L289.5 74.9 L290 74.9 L290.5 74.9 L291 74.9 L291.5 74.9 L292 74.9 L292.5 74.9 L293 74.9 L293.5 74.9 L294 74.9 L294.5 74.9 L295 74.9 L295.5 74.9 L296 74.9 L296.5 74.9 L297 74.9 L297.5 74.9 L298 74.9 L298.5 74.9 L299 74.9 L299.5 74.9 L300 74.9 L300.5 74.9 L301 74.9 L301.5 74.9 L302 74.9 L302.5 74.9 L303 74.9 L303.5 74.9 L304 74.9 L304.5 74.9 L305 74.9 L305.5 74.9 L306 74.9 L306.5 74.9 L307 74.9 L307.5 74.9 L308 74.9 L308.5 74.9 L309 74.9 L309.5 74.9 L310 74.9 L310.5 74.9 L311 74.9 L311.5 74.9 L312 74.9 L312.5 74.9 L313 74.9 L313.5 74.9 L314 74.9 L314.5 74.9 L315 74.9 L315.5 74.9 L316 74.9 L316.5 74.9 L317 74.9 L317.5 74.9 L318 74.9 L318.5 74.9 L319 74.9 L319.5 74.9 L320 74.9 L320.5 74.9 L321 74.9 L321.5 74.9 L322 74.9 L322.5 74.9 L323 74.9 L323.5 74.9 L324 74.9 L324.5 74.9 L325 74.9 L325.5 74.9 L326 74.9 L326.5 74.9 L327 74.9 L327.5 74.9 L328 74.9 L328.5 74.9 L329 74.9 L329.5 74.9 L330 74.9 L330.5 74.9 L331 74.9 L331.5 74.9 L332 74.9 L332.5 74.9 L333 74.9 L333.5 74.9 L334 74.9 L334.5 74.9 L335 74.9 L335.5 74.9 L336 74.9 L336.5 74.9 L337 74.9 L337.5 74.9 L338 74.9 L338.5 74.9 L339 74.9 L339.5 74.9 L340 74.9 L340.5 74.9 L341 74.9 L341.5 74.9 L342 74.9 L342.5 74.9 L343 74.9 L343.5 74.9 L344 74.9 L344.5 74.9 L345 74.9 L345.5 74.9 L346 74.9 L346.5 74.9 L347 74.9 L347.5 74.9 L348 74.9 L348.5 74.33 L349 73.8 L349.5 73.27 L350 72.27 L350.5 71.19 L351 70.94 L351.5 72.06 L352 73.2 L352.5 73.4 L353 73.52 L353.5 73.7 L354 73.21 L354.5 72.65 L355 72.16 L355.5 72.48 L356 73.32 L356.5 74.2 L357 74.43 L357.5 74.67 L358 74.9 L358.5 74.9 L359 74.9 L359.5 74.9 L360 74.9 L360.5 74.9 L361 74.9 L361.5 74.9 L362 74.9 L362.5 74.9 L363 74.9 L363.5 74.9 L364 74.9 L364.5 74.9 L365 74.9 L365.5 74.9 L366 74.9 L366.5 74.9 L367 74.9 L367.5 74.9 L368 74.9 L368.5 74.9 L369 74.9 L369.5 74.9 L370 74.9 L370.5 74.9 L371 74.9 L371.5 74.9 L372 74.9 L372.5 74.9 L373 74.9 L373.5 74.9 L374 74.9 L374.5 74.9 L375 74.9 L375.5 74.9 L376 74.9 L376.5 74.9 L377 74.9 L377.5 74.9 L378 74.9 L378.5 74.9 L379 74.9 L379.5 74.9 L380 74.9 L380.5 74.9 L381 74.9 L381.5 74.9 L382 74.9 L382.5 74.9 L383 74.9 L383.5 74.9 L384 74.9 L384.5 74.9 L385 74.9 L385.5 74.9 L386 74.9 L386.5 74.9 L387 74.9 L387.5 74.9 L388 74.9 L388.5 74.9 L389 74.9 L389.5 74.9 L390 74.9 L390.5 74.9 L391 74.9 L391.5 74.9 L392 74.9 L392.5 74.9 L393 74.9 L393.5 74.9 L394 74.9 L394.5 74.9 L395 74.9 L395.5 74.9 L396 74.9 L396.5 74.9 L397 74.9 L397.5 74.9 L398 74.9 L398.5 74.9 L399 74.9 L399.5 74.9 L400 74.9 L400.5 74.9 L401 74.9 L401.5 74.9 L402 74.9 L402.5 74.9 L403 74.9 L403.5 74.9 L404 74.9 L404.5 74.9 L405 74.9 L405.5 74.9 L406 74.9 L406.5 74.9 L407 74.9 L407.5 74.9 L408 74.9 L408.5 74.9 L409 74.9 L409.5 74.9 L410 74.9 L410.5 74.9 L411 74.9 L411.5 74.9 L412 74.9 L412.5 74.9 L413 74.9 L413.5 74.9 L414 74.9 L414.5 74.9 L415 74.9 L415.5 74.9 L416 74.9 L416.5 74.9 L417 74.9 L417.5 74.9 L418 74.9 L418.5 74.9 L419 74.9 L419.5 74.9 L420 74.9 L420.5 74.9 L421 74.9 L421.5 74.9 L422 74.9 L422.5 74.9 L423 74.9 L423.5 74.9 L424 74.9 L424.5 74.9 L425 74.9 L425.5 74.9 L426 74.9 L426.5 74.9 L427 74.9 L427.5 74.9 L428 74.9 L428.5 74.9 L429 74.9 L429.5 74.9 L430 74.9 L430.5 74.9 L431 74.9 L431.5 74.9 L432 74.9 L432.5 74.9 L433 74.9 L433.5 74.9 L434 74.9 L434.5 74.9 L435 74.9 L435.5 74.9 L436 74.9 L436.5 74.9 L437 74.9 L437.5 74.9 L438 74.9 L438.5 74.9 L439 74.9 L439.5 74.9 L440 74.9 L440.5 74.9 L441 74.9 L441.5 74.9 L442 74.9 L442.5 74.9 L443 74.9 L443.5 74.9 L444 74.9 L444.5 74.9 L445 74.9 L445.5 74.9 L446 74.9 L446.5 74.9 L447 74.9 L447.5 74.9 L448 74.9 L448.5 74.9 L449 74.9 L449.5 74.9 L450 74.9 L450.5 74.9 L451 74.9 L451.5 74.9 L452 74.9 L452.5 74.9 L453 74.9 L453.5 74.9 L454 74.9 L454.5 74.9 L455 74.9 L455.5 74.9 L456 74.9 L456.5 74.9 L457 74.9 L457.5 74.9 L458 74.9 L458.5 74.9 L459 74.9 L459.5 74.9 L460 74.9 L460.5 74.9 L461 74.9 L461.5 74.9 L462 74.9 L462.5 74.9 L463 74.9 L463.5 74.9 L464 74.9 L464.5 74.9 L465 74.9 L465.5 74.9 L466 74.9 L466.5 74.9 L467 74.9 L467.5 74.9 L468 74.9 L468.5 74.9 L469 74.9 L469.5 74.9 L470 74.9 L470.5 74.9 L471 74.9 L471.5 74.9 L472 74.9 L472.5 74.9 L473 74.9 L473.5 74.9 L474 74.9 L474.5 74.9 L475 74.9 L475.5 74.9 L476 74.9 L476.5 74.9 L477 74.9 L477.5 74.9 L478 74.9 L478.5 74.9 L479 74.9 L479.5 74.9 L480 74.9 L480.5 74.9 L481 74.9 L481.5 74.9 L482 74.9 L482.5 74.9 L483 74.9 L483.5 74.9 L484 74.9 L484.5 74.9 L485 74.9 L485.5 74.9 L486 74.9 L486.5 74.9 L487 74.9 L487.5 74.9 L488 74.9 L488.5 74.9 L489 74.9 L489.5 74.9 L490 74.9 L490.5 74.9 L491 74.9 L491.5 74.9 L492 74.9 L492.5 74.9 L493 74.9 L493.5 74.9 L494 74.9 L494.5 74.9 L495 74.9 L495.5 74.9 L496 74.9 L496.5 74.9 L497 74.9 L497.5 74.9 L498 74.9 L498.5 74.9 L499 74.9 L499.5 74.9 L500 74.9 L500.5 74.9 L501 74.9 L501.5 74.9 L502 74.9 L502.5 74.9 L503 74.9 L503.5 74.9 L504 74.9 L504 75.2 Z" fill="#e1285a"/>
<rect x="275.7" y="43.4" width="23.2" height="38" fill="#f8e5d6" style="mix-blend-mode:multiply"/>
<line x1="93" y1="78.5" x2="158.9" y2="78.5" stroke="#ababab" stroke-width="1" />
<line x1="416.8" y1="78.5" x2="504" y2="78.5" stroke="#ababab" stroke-width="1" />
<rect x="93.8" y="78" width="1.6" height="1" fill="#7878d8" />
<rect x="104.6" y="78" width="1.6" height="1" fill="#7878d8" />
<rect x="119.2" y="78" width="1.6" height="1" fill="#7878d8" />
<rect x="134.9" y="78" width="1.6" height="1" fill="#7878d8" />
<rect x="145.4" y="78" width="1.6" height="1" fill="#7878d8" />
<rect x="441.9" y="78" width="1.6" height="1" fill="#7878d8" />
<rect x="457.7" y="78" width="1.6" height="1" fill="#7878d8" />
<rect x="465.2" y="78" width="1.6" height="1" fill="#7878d8" />
<rect x="479.2" y="78" width="1.6" height="1" fill="#7878d8" />
<rect x="488.2" y="78" width="1.6" height="1" fill="#7878d8" />
<rect x="497.2" y="78" width="1.6" height="1" fill="#7878d8" />
<rect x="113.3" y="76.9" width="1.2" height="3.2" fill="#777" />
<path d="M122.9 78.5 l2.3 -1.9 v3.8 Z" fill="#000"/>
<ellipse cx="126.6" cy="78.5" rx="1.9" ry="1.8" fill="#000"/>
<rect x="126.4" y="77.4" width="3.4" height="2.2" fill="#000" />
<path d="M130.9 78.5 l-1.9 -1.5 v3 Z" fill="#000"/>
<rect x="152.5" y="76.7" width="4.2" height="3.6" fill="#000" rx="1.3"/>
<rect x="155.5" y="77.3" width="4.4" height="2.4" fill="#000" />
<path d="M318.8 78.5 l2.2 -1.7 h1.8 v3.4 h-1.8 Z" fill="#000"/>
<line x1="322.8" y1="78.5" x2="327.8" y2="78.5" stroke="#aaa" stroke-width="0.7" />
<path d="M333.5 78.5 l-2.2 -1.7 h-3.4 v3.4 h3.4 Z" fill="#000"/>
<rect x="414.8" y="77.2" width="16.4" height="2.6" fill="#000" rx="1.2"/>
<rect x="429.8" y="76.1" width="1.6" height="4.8" fill="#000" rx="0.6"/>
<rect x="435.4" y="76.1" width="1.6" height="4.8" fill="#000" rx="0.6"/>
<rect x="451" y="76.1" width="1.6" height="4.8" fill="#000" rx="0.6"/>
<rect x="472.2" y="76.1" width="1.6" height="4.8" fill="#000" rx="0.6"/>
<rect x="503.45" y="76.1" width="1.1" height="4.8" fill="#333" />
<text x="0" y="0" font-size="8.22" text-anchor="start" fill="#231f20" transform="translate(100.8 93.1) scale(0.9250 1)" >1700123020Rik</text>
<text x="0" y="0" font-size="8.22" text-anchor="start" fill="#231f20" transform="translate(315.2 90.8) scale(0.9250 1)" >Cebpe</text>
<text x="0" y="0" font-size="8.22" text-anchor="start" fill="#231f20" transform="translate(424.4 90.6) scale(0.9250 1)" >Slc7a8</text>
<text x="7.3" y="114.6" font-size="12.5" text-anchor="start" fill="#231f20" >B</text>
<text x="0" y="0" font-size="10.5" text-anchor="middle" fill="#231f20" transform="translate(41 159.5) rotate(-90) scale(0.86 1)" dominant-baseline="central">H3K4me1</text>
<text x="0" y="0" font-size="10.5" text-anchor="middle" fill="#231f20" transform="translate(41 227.5) rotate(-90) scale(0.86 1)" dominant-baseline="central">H3K27ac</text>
<text x="0" y="0" font-size="10.5" text-anchor="middle" fill="#231f20" transform="translate(41 297.3) rotate(-90) scale(0.86 1)" dominant-baseline="central">H3K4me3</text>
<text x="0" y="0" font-size="8.22" text-anchor="end" fill="#231f20" transform="translate(76.3 134.8) scale(0.8233 1)" >LT-HSC</text>
<text x="0" y="0" font-size="8.22" text-anchor="end" fill="#231f20" transform="translate(76.3 148.05) scale(0.9250 1)" >B-Cell</text>
<text x="0" y="0" font-size="8.22" text-anchor="end" fill="#231f20" transform="translate(76.3 160.55) scale(0.9250 1)" >CMP</text>
<text x="0" y="0" font-size="8.22" text-anchor="end" fill="#231f20" transform="translate(76.3 175.05) scale(0.9250 1)" >GMP</text>
<text x="0" y="0" font-size="8.22" text-anchor="end" fill="#231f20" transform="translate(76.3 187.8) scale(0.9250 1)" >Gr</text>
<line x1="79.5" y1="125" x2="79.5" y2="192" stroke="#231f20" stroke-width="1" />
<text x="0" y="0" font-size="8.22" text-anchor="start" fill="#231f20" transform="translate(83.2 129.8) scale(0.9250 1)" >23</text>
<text x="0" y="0" font-size="8.22" text-anchor="start" fill="#231f20" transform="translate(83.2 191.05) scale(0.9250 1)" >0</text>
<line x1="99" y1="134.2" x2="512.5" y2="134.2" stroke="#d8d8d8" stroke-width="0.8" />
<path d="M99 134.6 L99 134.6 L99.5 126.47 L100 126.94 L100.5 128.06 L101 130.82 L101.5 132.51 L102 132.37 L102.5 132.34 L103 132.45 L103.5 132.8 L104 132.78 L104.5 130.85 L105 129 L105.5 128.58 L106 128.56 L106.5 128.05 L107 128.26 L107.5 127.39 L108 127.47 L108.5 128.64 L109 129.2 L109.5 128.56 L110 128.35 L110.5 129.2 L111 129.92 L111.5 129.71 L112 129.43 L112.5 130.78 L113 131.42 L113.5 132.71 L114 132.28 L114.5 131.56 L115 130.09 L115.5 128.98 L116 128.95 L116.5 128.45 L117 127.57 L117.5 128.27 L118 130.03 L118.5 131.01 L119 132.4 L119.5 132.04 L120 131.48 L120.5 130.74 L121 130.62 L121.5 130.06 L122 128.95 L122.5 129.32 L123 129.85 L123.5 130.25 L124 130.26 L124.5 130.34 L125 129.76 L125.5 129.23 L126 129.65 L126.5 130.02 L127 130.21 L127.5 130.79 L128 131.24 L128.5 131.83 L129 132.35 L129.5 133 L130 133.68 L130.5 134.6 L131 134.6 L131.5 134.6 L132 134.6 L132.5 134.6 L133 134.6 L133.5 134.6 L134 134.6 L134.5 134.6 L135 134.6 L135.5 134.6 L136 134.6 L136.5 134.6 L137 134.6 L137.5 130.08 L138 130.01 L138.5 129.18 L139 127.14 L139.5 127.01 L140 127.38 L140.5 127.15 L141 127.32 L141.5 125.57 L142 123.79 L142.5 123.27 L143 124.18 L143.5 124.51 L144 126.23 L144.5 128.23 L145 128.52 L145.5 128.61 L146 128.96 L146.5 129 L147 129.52 L147.5 129.09 L148 129.31 L148.5 130.32 L149 130.32 L149.5 130.74 L150 130.78 L150.5 130.8 L151 130.87 L151.5 129.96 L152 129.39 L152.5 129.92 L153 130.83 L153.5 130.77 L154 131.18 L154.5 131.48 L155 131.62 L155.5 131.55 L156 131.32 L156.5 131.79 L157 131.93 L157.5 132 L158 134.6 L158.5 134.6 L159 134.6 L159.5 134.6 L160 134.6 L160.5 132.64 L161 131.21 L161.5 130.74 L162 129.85 L162.5 129.26 L163 129.42 L163.5 130.24 L164 130.86 L164.5 131.49 L165 132.38 L165.5 133.6 L166 134.6 L166.5 134.6 L167 134.6 L167.5 134.6 L168 134.6 L168.5 134.6 L169 134.6 L169.5 134.6 L170 134.6 L170.5 134.6 L171 134.6 L171.5 134.6 L172 134.6 L172.5 134.6 L173 134.6 L173.5 134.6 L174 134.6 L174.5 134.6 L175 134.6 L175.5 134.6 L176 134.6 L176.5 134.6 L177 134.6 L177.5 134.6 L178 134.6 L178.5 134.6 L179 134.6 L179.5 134.6 L180 134.6 L180.5 134.6 L181 134.6 L181.5 134.6 L182 134.6 L182.5 134.6 L183 134.6 L183.5 134.6 L184 134.6 L184.5 134.6 L185 133.56 L185.5 133.79 L186 134.6 L186.5 134.6 L187 134.6 L187.5 133.78 L188 133.85 L188.5 134.6 L189 134.6 L189.5 134.6 L190 134.6 L190.5 133.57 L191 133 L191.5 133.57 L192 134.6 L192.5 133.57 L193 132.87 L193.5 133.57 L194 134.6 L194.5 134.6 L195 134.6 L195.5 134.6 L196 134.6 L196.5 132.6 L197 131.32 L197.5 130.66 L198 131.6 L198.5 131.9 L199 132.84 L199.5 133.4 L200 133.6 L200.5 132.91 L201 131.49 L201.5 130.35 L202 130.66 L202.5 131.92 L203 132.5 L203.5 132.1 L204 131.94 L204.5 131.86 L205 131.23 L205.5 130.7 L206 130.4 L206.5 130.33 L207 129.72 L207.5 128.76 L208 129.48 L208.5 129.95 L209 130.19 L209.5 130.35 L210 130.24 L210.5 130.74 L211 130.35 L211.5 130.14 L212 130.57 L212.5 130.42 L213 131.23 L213.5 131.79 L214 132.57 L214.5 133.6 L215 134.6 L215.5 134.6 L216 134.6 L216.5 134.6 L217 134.6 L217.5 134.6 L218 134.6 L218.5 134.6 L219 134.6 L219.5 134.6 L220 134.6 L220.5 134.6 L221 134.6 L221.5 134.6 L222 134.6 L222.5 134.6 L223 134.6 L223.5 134.6 L224 134.6 L224.5 134.6 L225 134.6 L225.5 134.6 L226 134.6 L226.5 134.6 L227 133.7 L227.5 133.24 L228 133.33 L228.5 133.75 L229 133.6 L229.5 133.04 L230 133.6 L230.5 134.6 L231 134.6 L231.5 134.6 L232 134.6 L232.5 134.6 L233 134.6 L233.5 133.58 L234 133.46 L234.5 133.29 L235 133.6 L235.5 134.6 L236 134.6 L236.5 134.6 L237 134.6 L237.5 132.3 L238 132.45 L238.5 132.42 L239 132.16 L239.5 131.99 L240 132.19 L240.5 134.6 L241 134.6 L241.5 134.6 L242 134.6 L242.5 134.6 L243 134.6 L243.5 134.6 L244 134.6 L244.5 134.6 L245 134.6 L245.5 134.6 L246 134.6 L246.5 133.85 L247 133.01 L247.5 132.97 L248 132.74 L248.5 132.67 L249 132.6 L249.5 131.56 L250 130.86 L250.5 130.46 L251 129.66 L251.5 128.94 L252 127.75 L252.5 125.3 L253 125.53 L253.5 127.72 L254 128 L254.5 129.35 L255 131.18 L255.5 131.41 L256 131.16 L256.5 130.93 L257 131.27 L257.5 131.79 L258 131.75 L258.5 131.59 L259 132.1 L259.5 132.33 L260 132.14 L260.5 132.02 L261 132.38 L261.5 133 L262 133.6 L262.5 133.6 L263 133.6 L263.5 133.6 L264 133.6 L264.5 133.6 L265 133.6 L265.5 133.6 L266 133.6 L266.5 133.6 L267 133.6 L267.5 133.6 L268 133.6 L268.5 133.6 L269 133.6 L269.5 133.6 L270 133.6 L270.5 132.56 L271 131.69 L271.5 131.29 L272 131.17 L272.5 131.36 L273 131.65 L273.5 132.74 L274 133.6 L274.5 133.6 L275 133.6 L275.5 133.6 L276 133.6 L276.5 133.6 L277 133.6 L277.5 133.6 L278 133.6 L278.5 133.3 L279 132.96 L279.5 132.84 L280 132.89 L280.5 133.2 L281 133.6 L281.5 133.36 L282 133.03 L282.5 132.69 L283 132.71 L283.5 131.75 L284 131.1 L284.5 131.24 L285 131.22 L285.5 130.98 L286 130.43 L286.5 130.4 L287 129.65 L287.5 129.73 L288 129.76 L288.5 129.01 L289 128.68 L289.5 127.86 L290 127.92 L290.5 127.23 L291 127.68 L291.5 127.21 L292 127.58 L292.5 128.59 L293 127.61 L293.5 127.96 L294 128.75 L294.5 128.61 L295 127.98 L295.5 128.55 L296 129.64 L296.5 129.25 L297 130.08 L297.5 130.79 L298 131.44 L298.5 132.24 L299 132.79 L299.5 132.96 L300 132.91 L300.5 133.22 L301 133.6 L301.5 133.6 L302 133.6 L302.5 133.6 L303 132.79 L303.5 133.05 L304 133.6 L304.5 133.6 L305 133.6 L305.5 134.6 L306 134.6 L306.5 134.6 L307 134.6 L307.5 134.6 L308 134.6 L308.5 134.6 L309 134.6 L309.5 134.6 L310 134.6 L310.5 134.6 L311 134.6 L311.5 134.6 L312 134.6 L312.5 134.6 L313 134.6 L313.5 134.6 L314 134.6 L314.5 133.6 L315 133.16 L315.5 133.6 L316 134.6 L316.5 134.6 L317 134.6 L317.5 134.6 L318 134.6 L318.5 134.6 L319 134.6 L319.5 134.6 L320 133.82 L320.5 133.81 L321 134.6 L321.5 134.6 L322 134.6 L322.5 134.6 L323 134.6 L323.5 134.6 L324 134.6 L324.5 133.6 L325 132.93 L325.5 133.6 L326 134.6 L326.5 134.6 L327 134.6 L327.5 134.6 L328 134.6 L328.5 134.6 L329 134.6 L329.5 134.6 L330 134.6 L330.5 134.6 L331 134.6 L331.5 134.6 L332 134.6 L332.5 134.6 L333 134.6 L333.5 134.6 L334 134.6 L334.5 134.6 L335 134.6 L335.5 133.6 L336 134.6 L336.5 134.6 L337 134.6 L337.5 134.6 L338 134.6 L338.5 133.6 L339 132.61 L339.5 131.23 L340 130.28 L340.5 130.44 L341 129.98 L341.5 129.52 L342 130.03 L342.5 130.71 L343 130.23 L343.5 129.64 L344 129.57 L344.5 129.86 L345 129.23 L345.5 128.5 L346 127.95 L346.5 127.78 L347 126.5 L347.5 126.45 L348 126.75 L348.5 127.24 L349 127.72 L349.5 127.32 L350 125.2 L350.5 123.64 L351 123.26 L351.5 124.21 L352 125.82 L352.5 126.53 L353 127.23 L353.5 126.96 L354 127.67 L354.5 127.39 L355 127.53 L355.5 127.06 L356 127.01 L356.5 128.06 L357 127.81 L357.5 125.78 L358 125.99 L358.5 127.22 L359 128.35 L359.5 129.29 L360 129.79 L360.5 131.09 L361 131.93 L361.5 132.33 L362 133.21 L362.5 132.28 L363 131.52 L363.5 131.32 L364 130.64 L364.5 129.92 L365 128.63 L365.5 128.77 L366 129.62 L366.5 130.09 L367 129.98 L367.5 130.19 L368 130.36 L368.5 130.71 L369 131.72 L369.5 133.25 L370 134.6 L370.5 134.6 L371 134.6 L371.5 134.6 L372 134.6 L372.5 134.6 L373 134.6 L373.5 133.51 L374 133.3 L374.5 133.74 L375 134.6 L375.5 133.85 L376 134.6 L376.5 134.6 L377 134.6 L377.5 134.6 L378 134.6 L378.5 133.85 L379 133.47 L379.5 133.01 L380 133.47 L380.5 133.85 L381 134.6 L381.5 133.88 L382 134.6 L382.5 134.6 L383 134.6 L383.5 133.6 L384 133.03 L384.5 132.26 L385 131.63 L385.5 132.4 L386 133.13 L386.5 133.6 L387 134.6 L387.5 134.6 L388 134.6 L388.5 134.6 L389 134.6 L389.5 134.6 L390 133.6 L390.5 133 L391 132.78 L391.5 132.54 L392 131.86 L392.5 132.03 L393 132.5 L393.5 132.95 L394 133.23 L394.5 132.49 L395 131.84 L395.5 132.93 L396 133.55 L396.5 133.97 L397 134.6 L397.5 134.6 L398 134.6 L398.5 134.6 L399 134.6 L399.5 133.91 L400 133.6 L400.5 133.73 L401 134.6 L401.5 134.6 L402 134.6 L402.5 134.6 L403 134.6 L403.5 134.6 L404 134.6 L404.5 134.6 L405 134.6 L405.5 134.6 L406 134.6 L406.5 134.6 L407 134.6 L407.5 134.6 L408 134.6 L408.5 134.6 L409 134.6 L409.5 134.6 L410 134.6 L410.5 134.6 L411 134.6 L411.5 134.6 L412 133.85 L412.5 133.6 L413 133.85 L413.5 134.6 L414 134.6 L414.5 134.6 L415 134.6 L415.5 134.6 L416 134.6 L416.5 134.6 L417 133.76 L417.5 133.61 L418 133.98 L418.5 134.6 L419 134.6 L419.5 134.6 L420 133.96 L420.5 133.74 L421 133.53 L421.5 133.12 L422 132.9 L422.5 133.27 L423 133.53 L423.5 133.74 L424 133.96 L424.5 134.6 L425 134.6 L425.5 134.6 L426 134.6 L426.5 134.6 L427 134.6 L427.5 134.6 L428 134.6 L428.5 134.6 L429 134.6 L429.5 134.6 L430 134.6 L430.5 134.6 L431 134.6 L431.5 134.6 L432 134.6 L432.5 134.6 L433 134.6 L433.5 134.6 L434 134.6 L434.5 134.6 L435 134.6 L435.5 134.6 L436 134.6 L436.5 134.6 L437 134.6 L437.5 134.6 L438 134.6 L438.5 134.6 L439 134.6 L439.5 134.6 L440 134.6 L440.5 134.6 L441 134.6 L441.5 134.6 L442 134.6 L442.5 133.85 L443 133.21 L443.5 133.3 L444 133.3 L444.5 133.1 L445 133.22 L445.5 133.04 L446 132.93 L446.5 133.13 L447 133.05 L447.5 132.85 L448 132.85 L448.5 132.73 L449 132.92 L449.5 132.68 L450 132.44 L450.5 132.37 L451 132.06 L451.5 131.79 L452 131.78 L452.5 131.02 L453 129.85 L453.5 130.44 L454 131.52 L454.5 132.22 L455 132.37 L455.5 132.41 L456 132.84 L456.5 132.77 L457 132.41 L457.5 132.44 L458 132.28 L458.5 132.44 L459 132.68 L459.5 133.01 L460 133.27 L460.5 133.24 L461 133.04 L461.5 132.75 L462 132.6 L462.5 133 L463 133.18 L463.5 132.82 L464 132.37 L464.5 132.22 L465 131.72 L465.5 131.36 L466 131.59 L466.5 132.34 L467 132.76 L467.5 132.68 L468 132.71 L468.5 132.51 L469 132.34 L469.5 132.56 L470 132.83 L470.5 133.08 L471 133.11 L471.5 133.85 L472 134.6 L472.5 134.6 L473 134.6 L473.5 132.51 L474 131.58 L474.5 130.01 L475 128.97 L475.5 129.48 L476 128.79 L476.5 127.44 L477 128.06 L477.5 128.99 L478 128.06 L478.5 127.81 L479 129.61 L479.5 130.84 L480 132.46 L480.5 133.8 L481 133.47 L481.5 133.72 L482 134.6 L482.5 134.6 L483 134.6 L483.5 134.6 L484 134.6 L484.5 134.6 L485 134 L485.5 133.8 L486 133.6 L486.5 133.8 L487 134 L487.5 134.6 L488 134.6 L488.5 134.6 L489 134.6 L489.5 134.6 L490 134.6 L490.5 132.48 L491 132.49 L491.5 132.48 L492 132 L492.5 132.39 L493 132.52 L493.5 132.79 L494 132.82 L494.5 133.6 L495 134.6 L495.5 134.6 L496 134.6 L496.5 133 L497 133.06 L497.5 132.98 L498 133.05 L498.5 133.03 L499 133.07 L499.5 133.06 L500 133.27 L500.5 133.48 L501 133.6 L501.5 133.6 L502 133.6 L502.5 133.6 L503 133.6 L503.5 134.6 L504 134.6 L504.5 134.6 L505 134.6 L505.5 134.6 L506 134.6 L506.5 134.6 L507 134.6 L507.5 134.6 L508 134.6 L508.5 134.6 L509 134.6 L509.5 134.6 L510 134.6 L510.5 134.6 L511 134.6 L511.5 134.6 L512 134.6 L512.5 134.6 L512.5 134.6 Z" fill="#87a13b"/>
<line x1="99" y1="147.5" x2="512.5" y2="147.5" stroke="#d8d8d8" stroke-width="0.8" />
<path d="M99 147.9 L99 146.34 L99.5 146.38 L100 146.18 L100.5 146.21 L101 146.53 L101.5 146.57 L102 146.26 L102.5 146.22 L103 146.43 L103.5 146.57 L104 146.48 L104.5 146.51 L105 146.73 L105.5 146.82 L106 146.9 L106.5 146.78 L107 146.74 L107.5 146.67 L108 146.49 L108.5 146.45 L109 146.4 L109.5 146.2 L110 146.17 L110.5 146.29 L111 146.31 L111.5 146.27 L112 146.29 L112.5 146.26 L113 146.44 L113.5 146.33 L114 146.14 L114.5 145.78 L115 145.34 L115.5 145.67 L116 145.67 L116.5 145.55 L117 145.68 L117.5 145.29 L118 144.6 L118.5 144.25 L119 144.28 L119.5 144.32 L120 143.84 L120.5 142.96 L121 142.79 L121.5 142.02 L122 141.37 L122.5 141.3 L123 141.99 L123.5 142.65 L124 142.3 L124.5 141.85 L125 141.1 L125.5 140.97 L126 141.03 L126.5 141.56 L127 141.86 L127.5 142.67 L128 143.25 L128.5 143.49 L129 144.18 L129.5 144.28 L130 144.56 L130.5 145.12 L131 146 L131.5 146.33 L132 146.53 L132.5 147.04 L133 147.9 L133.5 147.9 L134 147.9 L134.5 147.9 L135 147.9 L135.5 147.9 L136 147.9 L136.5 147.13 L137 146.36 L137.5 145.78 L138 145.17 L138.5 144.41 L139 143.09 L139.5 142.66 L140 141.71 L140.5 140.65 L141 140.42 L141.5 140 L142 140.73 L142.5 139.6 L143 139.14 L143.5 139.75 L144 141.5 L144.5 141.85 L145 142.27 L145.5 143.02 L146 143.97 L146.5 144.36 L147 144.22 L147.5 144.53 L148 145.01 L148.5 145.37 L149 145.87 L149.5 146.08 L150 145.93 L150.5 146.04 L151 145.81 L151.5 145.83 L152 146.09 L152.5 146.13 L153 146.1 L153.5 145.83 L154 145.39 L154.5 145.48 L155 145.28 L155.5 145.67 L156 145.74 L156.5 145.72 L157 145.74 L157.5 145.63 L158 145.96 L158.5 146 L159 146.12 L159.5 146.12 L160 145.89 L160.5 146.08 L161 146.65 L161.5 147.28 L162 147.9 L162.5 147.9 L163 147.9 L163.5 147.9 L164 147.9 L164.5 146.42 L165 146.17 L165.5 146.14 L166 146.16 L166.5 146.27 L167 146.26 L167.5 146.52 L168 146.42 L168.5 146.28 L169 146.41 L169.5 146.44 L170 146.44 L170.5 146.42 L171 146.23 L171.5 147.9 L172 147.9 L172.5 147.9 L173 147.9 L173.5 147.9 L174 147.9 L174.5 147.9 L175 147.9 L175.5 147.9 L176 147.9 L176.5 147.9 L177 147.9 L177.5 147.9 L178 147.9 L178.5 147.9 L179 147.9 L179.5 147.9 L180 147.9 L180.5 147.9 L181 147.9 L181.5 147.9 L182 147.9 L182.5 147.9 L183 147.9 L183.5 147.9 L184 147.9 L184.5 147.9 L185 147.9 L185.5 147.9 L186 147.9 L186.5 147.9 L187 147.9 L187.5 147.21 L188 146.9 L188.5 147.21 L189 147.9 L189.5 147.9 L190 147.9 L190.5 147.9 L191 147.9 L191.5 147.9 L192 147.9 L192.5 147.14 L193 147.09 L193.5 147.9 L194 147.9 L194.5 147.9 L195 147.9 L195.5 147.9 L196 147.9 L196.5 147.9 L197 147.9 L197.5 147.9 L198 147.9 L198.5 147.9 L199 147.9 L199.5 147.9 L200 147.9 L200.5 147.9 L201 147.9 L201.5 147.3 L202 147.1 L202.5 147.3 L203 147.9 L203.5 147.9 L204 147.9 L204.5 147.9 L205 147.9 L205.5 147.9 L206 147.9 L206.5 147.9 L207 147.9 L207.5 147.9 L208 147.9 L208.5 147.9 L209 147.9 L209.5 147.9 L210 147.9 L210.5 147.9 L211 147.9 L211.5 147.15 L212 146.9 L212.5 147.15 L213 147.9 L213.5 147.9 L214 147.9 L214.5 147.9 L215 147.9 L215.5 147.9 L216 147.9 L216.5 147.9 L217 147.9 L217.5 147.9 L218 147.9 L218.5 147.9 L219 147.9 L219.5 147.9 L220 147.9 L220.5 147.9 L221 147.9 L221.5 147.9 L222 147.9 L222.5 147.9 L223 147.9 L223.5 147.1 L224 147.9 L224.5 147.9 L225 147.9 L225.5 147.9 L226 147.9 L226.5 147.9 L227 147.9 L227.5 147.9 L228 147.9 L228.5 147.9 L229 147.9 L229.5 147.9 L230 147.9 L230.5 147.9 L231 147.9 L231.5 147.9 L232 147.9 L232.5 147.9 L233 147.9 L233.5 147.9 L234 147.9 L234.5 147.9 L235 147.9 L235.5 147.9 L236 147.14 L236.5 146.71 L237 146.82 L237.5 147.25 L238 147.9 L238.5 147.9 L239 147.9 L239.5 147.9 L240 147.9 L240.5 147.9 L241 147.9 L241.5 147.9 L242 147.9 L242.5 147.9 L243 147.9 L243.5 147.9 L244 147.9 L244.5 147.9 L245 147.9 L245.5 147.9 L246 147.9 L246.5 147.3 L247 147.1 L247.5 146.9 L248 147.1 L248.5 147.3 L249 147.9 L249.5 147.9 L250 147.9 L250.5 147.9 L251 147.9 L251.5 147.9 L252 147.9 L252.5 147.9 L253 147.9 L253.5 147.9 L254 147.9 L254.5 147.9 L255 147.9 L255.5 147.9 L256 147.9 L256.5 147.9 L257 147.9 L257.5 147.19 L258 147.04 L258.5 146.9 L259 147.04 L259.5 147.19 L260 146.98 L260.5 146.56 L261 146.86 L261.5 147.28 L262 147.9 L262.5 147.9 L263 147.9 L263.5 147.9 L264 147.9 L264.5 147.9 L265 147.9 L265.5 147.9 L266 147.9 L266.5 147.9 L267 147.9 L267.5 147.9 L268 147.9 L268.5 147.9 L269 147.9 L269.5 147.9 L270 147.9 L270.5 147.9 L271 147.9 L271.5 147.1 L272 147.9 L272.5 147.9 L273 147.9 L273.5 147.9 L274 147.9 L274.5 147.9 L275 147.9 L275.5 147.9 L276 147.9 L276.5 147.9 L277 147.9 L277.5 147.9 L278 147.9 L278.5 147.9 L279 147.9 L279.5 147.9 L280 147.9 L280.5 147.9 L281 147.9 L281.5 147.9 L282 147.9 L282.5 147.9 L283 147.9 L283.5 147.23 L284 147.07 L284.5 146.9 L285 146.73 L285.5 146.67 L286 146.59 L286.5 146.17 L287 146.06 L287.5 145.7 L288 145.71 L288.5 145.53 L289 144.8 L289.5 144.45 L290 144.16 L290.5 144.37 L291 144.76 L291.5 145.35 L292 145.5 L292.5 145.54 L293 145.67 L293.5 146.03 L294 146.35 L294.5 146.37 L295 146.53 L295.5 146.78 L296 146.9 L296.5 146.9 L297 146.9 L297.5 146.9 L298 146.9 L298.5 146.9 L299 146.9 L299.5 146.9 L300 146.9 L300.5 146.9 L301 146.9 L301.5 146.9 L302 146.9 L302.5 146.9 L303 146.9 L303.5 146.9 L304 146.9 L304.5 146.9 L305 146.9 L305.5 147.9 L306 147.03 L306.5 147.12 L307 147.9 L307.5 147.9 L308 147.9 L308.5 147.9 L309 147.9 L309.5 147.9 L310 147.9 L310.5 147.9 L311 147.9 L311.5 147.9 L312 147.9 L312.5 147.9 L313 147.9 L313.5 147.9 L314 147.9 L314.5 147.9 L315 147.9 L315.5 147.9 L316 146.9 L316.5 146.34 L317 146.9 L317.5 147.18 L318 146.77 L318.5 146.85 L319 147.26 L319.5 147.9 L320 147.9 L320.5 147.9 L321 147.9 L321.5 147.9 L322 147.9 L322.5 147.9 L323 147.9 L323.5 147.9 L324 147.9 L324.5 147.9 L325 147.9 L325.5 147.9 L326 147.9 L326.5 147.03 L327 146.38 L327.5 147.03 L328 147.9 L328.5 147.9 L329 147.24 L329.5 146.92 L330 146.9 L330.5 147.23 L331 147.9 L331.5 147.9 L332 147.9 L332.5 147.9 L333 147.9 L333.5 147.9 L334 147.9 L334.5 147.9 L335 147.9 L335.5 147.9 L336 147.9 L336.5 147.9 L337 147.9 L337.5 147.9 L338 147.9 L338.5 147.9 L339 147.9 L339.5 147.9 L340 147.03 L340.5 146.4 L341 147.03 L341.5 147.9 L342 147.02 L342.5 146.49 L343 147.06 L343.5 147.9 L344 147.9 L344.5 146.9 L345 145.94 L345.5 146.14 L346 146.17 L346.5 145.93 L347 145.65 L347.5 145.81 L348 145.91 L348.5 145.88 L349 145.79 L349.5 145.95 L350 146.01 L350.5 145.99 L351 145.89 L351.5 145.88 L352 145.78 L352.5 145.68 L353 145.89 L353.5 145.78 L354 145.58 L354.5 145.63 L355 145.63 L355.5 144.64 L356 144.07 L356.5 144.04 L357 144.31 L357.5 144.57 L358 144.71 L358.5 143.99 L359 143.53 L359.5 143.54 L360 143.71 L360.5 143.52 L361 143.68 L361.5 143.98 L362 144 L362.5 144.06 L363 144.51 L363.5 144.01 L364 143.75 L364.5 144.15 L365 144.09 L365.5 144.47 L366 145.19 L366.5 144.99 L367 144.93 L367.5 144.55 L368 144.52 L368.5 146.26 L369 147.9 L369.5 147.9 L370 147.9 L370.5 147.9 L371 147.9 L371.5 147.9 L372 147.9 L372.5 147.9 L373 147.9 L373.5 147.9 L374 147.9 L374.5 147.9 L375 147.9 L375.5 147.23 L376 147.07 L376.5 147.01 L377 146.9 L377.5 147.01 L378 147.12 L378.5 147.23 L379 147.9 L379.5 147.9 L380 147.9 L380.5 147.9 L381 147.9 L381.5 147.9 L382 147.9 L382.5 147.9 L383 147.9 L383.5 147.25 L384 146.81 L384.5 146.85 L385 147.29 L385.5 147.9 L386 147.9 L386.5 147.9 L387 147.9 L387.5 147.9 L388 147.9 L388.5 147.03 L389 146.24 L389.5 147.03 L390 147.9 L390.5 147.9 L391 147.9 L391.5 147.9 L392 147.9 L392.5 147.9 L393 147.19 L393.5 146.73 L394 146.96 L394.5 147.9 L395 147.9 L395.5 147.9 L396 147.9 L396.5 147.9 L397 147.9 L397.5 147.9 L398 147.9 L398.5 147.9 L399 147.9 L399.5 147.9 L400 147.9 L400.5 147.9 L401 147.9 L401.5 147.9 L402 147.9 L402.5 147.9 L403 147.9 L403.5 147.9 L404 147.9 L404.5 147.9 L405 147.9 L405.5 147.9 L406 147.9 L406.5 147.9 L407 147.9 L407.5 147.27 L408 146.87 L408.5 147.05 L409 147.9 L409.5 147.9 L410 147.9 L410.5 147.9 L411 147.9 L411.5 147.9 L412 147.9 L412.5 147.9 L413 147.9 L413.5 146.9 L414 147.9 L414.5 147.9 L415 147.9 L415.5 147.9 L416 147.9 L416.5 147.9 L417 147.9 L417.5 147.9 L418 147.9 L418.5 147.9 L419 147.9 L419.5 147.9 L420 147.9 L420.5 147.9 L421 147.9 L421.5 147.9 L422 147.9 L422.5 147.9 L423 147.9 L423.5 147.9 L424 147.9 L424.5 147.9 L425 147.9 L425.5 147.9 L426 147.9 L426.5 147.9 L427 147.9 L427.5 147.9 L428 147.9 L428.5 147.9 L429 147.9 L429.5 147.9 L430 147.9 L430.5 147.9 L431 147.9 L431.5 147.9 L432 147.9 L432.5 146.9 L433 147.9 L433.5 147.9 L434 147.9 L434.5 147.9 L435 147.9 L435.5 147.9 L436 147.9 L436.5 147.9 L437 147.9 L437.5 147.9 L438 147.9 L438.5 147.9 L439 147.9 L439.5 147.9 L440 147.9 L440.5 147.9 L441 147.9 L441.5 147.9 L442 147.9 L442.5 147.9 L443 147.9 L443.5 147.9 L444 147.9 L444.5 147.9 L445 147.9 L445.5 147.9 L446 147.9 L446.5 147.9 L447 147.9 L447.5 147.9 L448 147.9 L448.5 147.3 L449 147.1 L449.5 146.9 L450 147.1 L450.5 147.3 L451 147.9 L451.5 147.9 L452 147.9 L452.5 147.9 L453 147.9 L453.5 147.9 L454 147.9 L454.5 147.9 L455 147.9 L455.5 147.9 L456 147.9 L456.5 147.9 L457 147.9 L457.5 147.9 L458 147.9 L458.5 147.9 L459 147.9 L459.5 147.9 L460 147.9 L460.5 147.9 L461 147.9 L461.5 147.9 L462 147.17 L462.5 146.62 L463 146.85 L463.5 147.9 L464 147.9 L464.5 147.9 L465 147.9 L465.5 147.15 L466 146.88 L466.5 146.47 L467 146.51 L467.5 146.7 L468 146.9 L468.5 147.15 L469 147.9 L469.5 147.9 L470 147.9 L470.5 147.9 L471 147.9 L471.5 147.9 L472 147.9 L472.5 147.9 L473 147.9 L473.5 147.9 L474 147.19 L474.5 147.14 L475 147.9 L475.5 147.9 L476 147.9 L476.5 147.29 L477 146.89 L477.5 146.72 L478 147.13 L478.5 147.9 L479 147.9 L479.5 147.9 L480 147.9 L480.5 147.9 L481 147.9 L481.5 147.9 L482 147.9 L482.5 147.9 L483 147.9 L483.5 147.9 L484 147.9 L484.5 147.9 L485 147.9 L485.5 147.9 L486 147.9 L486.5 147.9 L487 147.9 L487.5 147.9 L488 147.9 L488.5 147.9 L489 147.9 L489.5 147.9 L490 147.9 L490.5 147.9 L491 147.9 L491.5 147.9 L492 147.9 L492.5 147.9 L493 147.9 L493.5 147.9 L494 147.9 L494.5 147.9 L495 147.9 L495.5 147.9 L496 147.9 L496.5 147.9 L497 147.9 L497.5 147.9 L498 147.9 L498.5 147.9 L499 147.9 L499.5 147.9 L500 147.9 L500.5 147.9 L501 147.9 L501.5 147.9 L502 147.9 L502.5 147.9 L503 147.9 L503.5 147.9 L504 147.9 L504.5 147.9 L505 147.9 L505.5 147.9 L506 147.9 L506.5 147.9 L507 147.9 L507.5 147.9 L508 147.9 L508.5 147.9 L509 147.9 L509.5 147.9 L510 147.9 L510.5 147.9 L511 147.9 L511.5 147.9 L512 147.9 L512.5 147.9 L512.5 147.9 Z" fill="#87a13b"/>
<line x1="99" y1="160.7" x2="512.5" y2="160.7" stroke="#d8d8d8" stroke-width="0.8" />
<path d="M99 161.1 L99 159.57 L99.5 159.51 L100 159.31 L100.5 159.29 L101 159.22 L101.5 159.37 L102 159.28 L102.5 159.18 L103 158.69 L103.5 158.31 L104 158.31 L104.5 158.18 L105 158.05 L105.5 158.24 L106 158.08 L106.5 157.77 L107 157.65 L107.5 157.76 L108 157.71 L108.5 157.83 L109 157.72 L109.5 157.73 L110 157.98 L110.5 157.82 L111 157.77 L111.5 157.68 L112 157.38 L112.5 157.51 L113 157.18 L113.5 157.5 L114 157.25 L114.5 156.88 L115 157.3 L115.5 156.75 L116 156.14 L116.5 155.96 L117 156.27 L117.5 156.7 L118 156.65 L118.5 156.42 L119 156.96 L119.5 156.82 L120 155.74 L120.5 155.73 L121 156.21 L121.5 155.94 L122 155.59 L122.5 154.87 L123 155.19 L123.5 155.03 L124 155.25 L124.5 156.12 L125 156.5 L125.5 156.54 L126 156.84 L126.5 157.09 L127 157.48 L127.5 157.58 L128 158.18 L128.5 158.87 L129 159.11 L129.5 159.65 L130 160.41 L130.5 161.1 L131 161.1 L131.5 161.1 L132 161.1 L132.5 160.37 L133 160.12 L133.5 160.37 L134 161.1 L134.5 161.1 L135 161.1 L135.5 161.1 L136 161.1 L136.5 161.1 L137 161.1 L137.5 159.42 L138 159.59 L138.5 159.8 L139 159.77 L139.5 159.48 L140 159.49 L140.5 159.23 L141 159.04 L141.5 158.87 L142 158.76 L142.5 158.91 L143 158.83 L143.5 158.48 L144 158.01 L144.5 157.73 L145 157.62 L145.5 157.63 L146 157.69 L146.5 157.76 L147 157.31 L147.5 157.12 L148 157.11 L148.5 156.75 L149 156.48 L149.5 156.96 L150 157.94 L150.5 158.13 L151 158.02 L151.5 157.89 L152 157.95 L152.5 157.55 L153 157.61 L153.5 157.58 L154 158 L154.5 158.18 L155 158.24 L155.5 157.85 L156 157.9 L156.5 157.48 L157 157.53 L157.5 157.68 L158 157.54 L158.5 157.38 L159 157.77 L159.5 157.92 L160 157.73 L160.5 158.03 L161 158.13 L161.5 158.17 L162 158.56 L162.5 158.72 L163 158.92 L163.5 159.04 L164 159.11 L164.5 159.3 L165 159.28 L165.5 159.3 L166 159.11 L166.5 159.1 L167 158.89 L167.5 159 L168 159.01 L168.5 159.07 L169 159.03 L169.5 159.12 L170 159.32 L170.5 159.65 L171 159.66 L171.5 159.49 L172 159.54 L172.5 161.1 L173 161.1 L173.5 161.1 L174 161.1 L174.5 161.1 L175 161.1 L175.5 161.1 L176 161.1 L176.5 161.1 L177 161.1 L177.5 161.1 L178 161.1 L178.5 161.1 L179 161.1 L179.5 161.1 L180 161.1 L180.5 161.1 L181 161.1 L181.5 161.1 L182 161.1 L182.5 159.45 L183 159.42 L183.5 159.47 L184 159.63 L184.5 159.6 L185 159.72 L185.5 159.66 L186 159.48 L186.5 159.68 L187 159.75 L187.5 159.69 L188 159.47 L188.5 159.47 L189 159.5 L189.5 159.45 L190 159.52 L190.5 159.4 L191 159.46 L191.5 159.68 L192 159.73 L192.5 159.62 L193 159.58 L193.5 159.47 L194 159.47 L194.5 159.47 L195 159.56 L195.5 159.53 L196 159.2 L196.5 158.93 L197 158.91 L197.5 159.01 L198 159.27 L198.5 159.36 L199 159.18 L199.5 159.02 L200 158.97 L200.5 158.9 L201 158.82 L201.5 158.96 L202 158.93 L202.5 158.7 L203 158.4 L203.5 158.44 L204 158.49 L204.5 158.36 L205 158.19 L205.5 157.77 L206 157.55 L206.5 157.44 L207 157.73 L207.5 158.28 L208 158 L208.5 157.25 L209 157.17 L209.5 157.39 L210 158 L210.5 158.26 L211 158.33 L211.5 158.13 L212 158.21 L212.5 158.41 L213 158.8 L213.5 159.01 L214 158.85 L214.5 158.68 L215 158.94 L215.5 159.19 L216 159.48 L216.5 159.46 L217 159.48 L217.5 159.49 L218 159.58 L218.5 159.59 L219 159.75 L219.5 159.79 L220 160.03 L220.5 159.91 L221 159.97 L221.5 160.02 L222 160.1 L222.5 160.06 L223 160.02 L223.5 159.97 L224 159.93 L224.5 159.77 L225 159.8 L225.5 159.87 L226 159.8 L226.5 159.76 L227 159.68 L227.5 159.68 L228 159.63 L228.5 159.61 L229 159.73 L229.5 159.67 L230 159.69 L230.5 159.91 L231 159.97 L231.5 160.04 L232 160.1 L232.5 160.07 L233 160.04 L233.5 160.01 L234 159.97 L234.5 159.94 L235 159.91 L235.5 159.76 L236 159.87 L236.5 159.76 L237 159.88 L237.5 159.72 L238 159.61 L238.5 159.49 L239 159.44 L239.5 159.45 L240 159.44 L240.5 159.54 L241 159.5 L241.5 159.62 L242 159.59 L242.5 159.62 L243 159.72 L243.5 159.65 L244 159.73 L244.5 159.91 L245 159.86 L245.5 159.86 L246 159.9 L246.5 159.92 L247 159.95 L247.5 159.97 L248 160 L248.5 160.03 L249 160.05 L249.5 160.07 L250 160.1 L250.5 160.05 L251 160 L251.5 159.95 L252 159.9 L252.5 160.02 L253 159.86 L253.5 159.67 L254 159.63 L254.5 159.77 L255 159.63 L255.5 159.6 L256 159.56 L256.5 159.67 L257 159.59 L257.5 159.36 L258 159.28 L258.5 159.04 L259 159.15 L259.5 159.28 L260 159.29 L260.5 159.09 L261 159.03 L261.5 159 L262 158.67 L262.5 158.71 L263 158.6 L263.5 158.52 L264 158.53 L264.5 158.75 L265 158.36 L265.5 158.59 L266 158.94 L266.5 158.94 L267 159.18 L267.5 159.21 L268 159.4 L268.5 159.31 L269 158.9 L269.5 158.47 L270 158.27 L270.5 158.05 L271 158.02 L271.5 158.04 L272 157.88 L272.5 157.53 L273 157.8 L273.5 157.43 L274 157.21 L274.5 157.63 L275 157.16 L275.5 157.37 L276 157.78 L276.5 157.73 L277 157.99 L277.5 157.74 L278 157.56 L278.5 157.25 L279 157.44 L279.5 157.6 L280 157.05 L280.5 157.75 L281 158 L281.5 157.97 L282 158.45 L282.5 159 L283 158.91 L283.5 158.23 L284 158.07 L284.5 157.85 L285 157.21 L285.5 157.11 L286 157.23 L286.5 156.44 L287 156.34 L287.5 156.42 L288 156.12 L288.5 156.36 L289 155.57 L289.5 155.47 L290 156.15 L290.5 156.65 L291 156.49 L291.5 156.4 L292 155.87 L292.5 155.64 L293 154.81 L293.5 155.56 L294 156.34 L294.5 156.3 L295 156.39 L295.5 156.01 L296 156.24 L296.5 156.06 L297 155.91 L297.5 156.79 L298 157.04 L298.5 157.54 L299 157.69 L299.5 157.22 L300 156.51 L300.5 156.25 L301 156.53 L301.5 156.03 L302 156.23 L302.5 156.21 L303 155.66 L303.5 155.64 L304 154.86 L304.5 155.02 L305 155.88 L305.5 156.33 L306 157.76 L306.5 158.25 L307 158.05 L307.5 158.1 L308 158.31 L308.5 158.08 L309 158.37 L309.5 158.17 L310 157.8 L310.5 157.55 L311 157.78 L311.5 157.89 L312 157.68 L312.5 157.66 L313 157.92 L313.5 158.08 L314 157.75 L314.5 158.15 L315 158.38 L315.5 158.23 L316 157.91 L316.5 158.35 L317 158.22 L317.5 158.27 L318 158.47 L318.5 158.34 L319 158.72 L319.5 158.97 L320 158.96 L320.5 158.64 L321 158.75 L321.5 158.43 L322 158.35 L322.5 158.5 L323 158.13 L323.5 158.45 L324 158.35 L324.5 158.01 L325 158.14 L325.5 157.99 L326 158.03 L326.5 158.2 L327 158.58 L327.5 158.78 L328 158.74 L328.5 158.82 L329 159.23 L329.5 159.35 L330 159.36 L330.5 159.33 L331 158.96 L331.5 158.8 L332 159.04 L332.5 159.2 L333 159.1 L333.5 158.88 L334 158.91 L334.5 159.01 L335 158.95 L335.5 158.65 L336 158.67 L336.5 158.69 L337 158.32 L337.5 158.6 L338 158.58 L338.5 158.41 L339 158.13 L339.5 157.79 L340 157.61 L340.5 157.81 L341 157.32 L341.5 157 L342 157.02 L342.5 157.18 L343 157.46 L343.5 157.72 L344 157.97 L344.5 157.89 L345 157.93 L345.5 157.93 L346 157.9 L346.5 157.32 L347 157.66 L347.5 158.11 L348 158.08 L348.5 157.88 L349 157.96 L349.5 157.62 L350 157.69 L350.5 157.52 L351 157.64 L351.5 157.49 L352 157.07 L352.5 157.14 L353 156.84 L353.5 156.86 L354 156.81 L354.5 156.8 L355 157.02 L355.5 157.27 L356 157.22 L356.5 157.75 L357 157.6 L357.5 157.02 L358 157.12 L358.5 157.72 L359 157.39 L359.5 157.6 L360 157.76 L360.5 157.22 L361 157.38 L361.5 157.54 L362 157.2 L362.5 157.59 L363 157.16 L363.5 156.88 L364 156.89 L364.5 157.17 L365 157.41 L365.5 157.61 L366 157.44 L366.5 157.91 L367 158.43 L367.5 158.35 L368 158.53 L368.5 158.91 L369 159.38 L369.5 159.69 L370 160.1 L370.5 160.1 L371 160.1 L371.5 160.1 L372 160.1 L372.5 160.1 L373 160.1 L373.5 160.1 L374 160.1 L374.5 160.1 L375 160.1 L375.5 160.05 L376 160 L376.5 159.95 L377 159.9 L377.5 160 L378 160.02 L378.5 160.01 L379 159.88 L379.5 159.72 L380 159.73 L380.5 159.66 L381 159.89 L381.5 159.94 L382 159.99 L382.5 160.06 L383 159.9 L383.5 159.95 L384 160 L384.5 160.05 L385 160.1 L385.5 160.1 L386 160.1 L386.5 160.1 L387 160.1 L387.5 160.1 L388 160.1 L388.5 160.1 L389 160.1 L389.5 160.1 L390 160.1 L390.5 160.08 L391 160.06 L391.5 160.04 L392 160.02 L392.5 160 L393 159.98 L393.5 159.96 L394 159.94 L394.5 159.92 L395 159.9 L395.5 159.92 L396 159.94 L396.5 159.96 L397 159.98 L397.5 160 L398 160.02 L398.5 160.04 L399 160.06 L399.5 160.08 L400 160.1 L400.5 160.1 L401 160.1 L401.5 160.1 L402 160.1 L402.5 160.1 L403 160.1 L403.5 160.1 L404 160.1 L404.5 160.1 L405 160.1 L405.5 160.05 L406 160 L406.5 159.95 L407 159.9 L407.5 159.89 L408 159.95 L408.5 159.68 L409 159.52 L409.5 159.54 L410 159.67 L410.5 159.55 L411 159.46 L411.5 159.55 L412 159.76 L412.5 159.79 L413 159.9 L413.5 159.95 L414 160 L414.5 160.05 L415 160.1 L415.5 160.05 L416 160 L416.5 159.95 L417 159.9 L417.5 160.03 L418 160 L418.5 159.75 L419 159.63 L419.5 159.5 L420 159.68 L420.5 159.72 L421 159.77 L421.5 159.62 L422 159.56 L422.5 159.69 L423 159.9 L423.5 159.95 L424 160 L424.5 160.05 L425 160.1 L425.5 160.05 L426 160 L426.5 159.95 L427 159.9 L427.5 159.95 L428 159.89 L428.5 159.77 L429 159.54 L429.5 159.54 L430 159.6 L430.5 159.8 L431 159.69 L431.5 159.55 L432 159.76 L432.5 159.86 L433 159.79 L433.5 159.76 L434 159.64 L434.5 159.62 L435 159.46 L435.5 159.41 L436 159.46 L436.5 159.23 L437 159.11 L437.5 159.03 L438 158.96 L438.5 158.92 L439 158.92 L439.5 159.02 L440 158.88 L440.5 159.05 L441 159.01 L441.5 159.07 L442 158.61 L442.5 158.67 L443 158.88 L443.5 158.43 L444 158.43 L444.5 158.56 L445 158.36 L445.5 157.92 L446 157.93 L446.5 158.43 L447 158.48 L447.5 158.61 L448 158.78 L448.5 158.7 L449 158.42 L449.5 158.34 L450 158.32 L450.5 158.28 L451 158.31 L451.5 158.37 L452 158.73 L452.5 158.4 L453 158.49 L453.5 158.82 L454 159.23 L454.5 159.6 L455 160.1 L455.5 159.71 L456 159.21 L456.5 158.81 L457 157.85 L457.5 158.27 L458 158.96 L458.5 159.37 L459 159.74 L459.5 159.84 L460 159.77 L460.5 159.79 L461 159.93 L461.5 160.02 L462 160.1 L462.5 160.1 L463 160.1 L463.5 160.1 L464 160.1 L464.5 160.1 L465 160.1 L465.5 160.1 L466 160.1 L466.5 160.1 L467 159.58 L467.5 160.1 L468 160.1 L468.5 159.97 L469 160.03 L469.5 159.84 L470 159.55 L470.5 159.45 L471 159.41 L471.5 159.36 L472 159.55 L472.5 159.56 L473 159.41 L473.5 159.08 L474 159.01 L474.5 159.02 L475 158.83 L475.5 158.9 L476 158.56 L476.5 158.52 L477 158.81 L477.5 158.59 L478 158.52 L478.5 158.84 L479 159 L479.5 159.09 L480 158.93 L480.5 158.8 L481 158.96 L481.5 158.93 L482 159.09 L482.5 159.1 L483 159.24 L483.5 159.2 L484 159.22 L484.5 159.36 L485 159.56 L485.5 159.71 L486 159.69 L486.5 159.56 L487 159.64 L487.5 159.97 L488 160.1 L488.5 160.35 L489 161.1 L489.5 161.1 L490 160.47 L490.5 160.41 L491 160.35 L491.5 160.29 L492 160.22 L492.5 160.16 L493 160.1 L493.5 160.16 L494 160.22 L494.5 160.29 L495 160.35 L495.5 160.41 L496 160.47 L496.5 161.1 L497 161.1 L497.5 160.35 L498 160.1 L498.5 159.77 L499 159.51 L499.5 159.75 L500 159.93 L500.5 160.1 L501 160.27 L501.5 160.43 L502 161.1 L502.5 160.43 L503 160.27 L503.5 160.1 L504 159.93 L504.5 159.62 L505 159.55 L505.5 159.82 L506 159.93 L506.5 160.1 L507 160.27 L507.5 160.43 L508 161.1 L508.5 160.47 L509 160.35 L509.5 160.22 L510 160.1 L510.5 159.9 L511 159.73 L511.5 160.2 L512 160.5 L512.5 161.1 L512.5 161.1 Z" fill="#87a13b"/>
<line x1="99" y1="173.8" x2="512.5" y2="173.8" stroke="#d8d8d8" stroke-width="0.8" />
<path d="M99 174.2 L99 173.2 L99.5 173.2 L100 173.2 L100.5 173.2 L101 173.2 L101.5 173.2 L102 173.2 L102.5 173.2 L103 173.2 L103.5 172.81 L104 172.37 L104.5 172.13 L105 171.98 L105.5 171.29 L106 171.2 L106.5 170.82 L107 170.87 L107.5 171.07 L108 170.72 L108.5 170.5 L109 170.35 L109.5 170.56 L110 170.83 L110.5 170.65 L111 170.4 L111.5 170.62 L112 170.84 L112.5 171.38 L113 171.24 L113.5 171.24 L114 171.15 L114.5 170.82 L115 170.74 L115.5 171.05 L116 171.17 L116.5 171.33 L117 171.39 L117.5 170.33 L118 170.14 L118.5 169.66 L119 168.94 L119.5 167.68 L120 167.03 L120.5 167.65 L121 168.84 L121.5 169.72 L122 168.79 L122.5 168.18 L123 166.33 L123.5 165.75 L124 166.02 L124.5 166.21 L125 166.34 L125.5 167.78 L126 168.99 L126.5 169.9 L127 170.33 L127.5 170.51 L128 171.21 L128.5 171.91 L129 172.32 L129.5 173.07 L130 173.53 L130.5 174.2 L131 174.2 L131.5 174.2 L132 174.2 L132.5 174.2 L133 174.2 L133.5 174.2 L134 173.34 L134.5 174.2 L135 174.2 L135.5 174.2 L136 174.2 L136.5 172.1 L137 172.13 L137.5 171.94 L138 171.92 L138.5 172.18 L139 172.05 L139.5 171.97 L140 171.58 L140.5 171.55 L141 171.48 L141.5 171.04 L142 170.97 L142.5 171.45 L143 171.46 L143.5 171.15 L144 170.94 L144.5 170.77 L145 170.52 L145.5 170.02 L146 169.99 L146.5 169.83 L147 170.14 L147.5 170.48 L148 170.33 L148.5 170.59 L149 170.5 L149.5 170.64 L150 170.28 L150.5 170.56 L151 170.47 L151.5 170.77 L152 170.83 L152.5 170.46 L153 169.65 L153.5 169.28 L154 169.26 L154.5 169.35 L155 169.66 L155.5 169.54 L156 169.13 L156.5 167.93 L157 169.11 L157.5 169.6 L158 170.73 L158.5 171.02 L159 171.25 L159.5 171.98 L160 172.42 L160.5 171.7 L161 171.63 L161.5 171.49 L162 170.51 L162.5 170.27 L163 170.82 L163.5 171.36 L164 171.2 L164.5 171.11 L165 171.4 L165.5 171.43 L166 171.35 L166.5 171.48 L167 171.54 L167.5 171.71 L168 172.04 L168.5 173.2 L169 174.2 L169.5 174.2 L170 174.2 L170.5 174.2 L171 174.2 L171.5 174.2 L172 174.2 L172.5 174.2 L173 173.32 L173.5 173.18 L174 174.2 L174.5 174.2 L175 174.2 L175.5 174.2 L176 174.2 L176.5 174.2 L177 174.2 L177.5 174.2 L178 174.2 L178.5 174.2 L179 174.2 L179.5 174.2 L180 174.2 L180.5 174.2 L181 174.2 L181.5 174.2 L182 174.2 L182.5 174.2 L183 173.53 L183.5 172.7 L184 172.04 L184.5 172.73 L185 173.53 L185.5 174.2 L186 174.2 L186.5 174.2 L187 174.2 L187.5 174.2 L188 174.2 L188.5 174.2 L189 174.2 L189.5 174.2 L190 174.2 L190.5 174.2 L191 174.2 L191.5 174.2 L192 173.6 L192.5 173.3 L193 173.1 L193.5 172.66 L194 173.03 L194.5 173.3 L195 173.6 L195.5 174.2 L196 174.2 L196.5 173.2 L197 172.39 L197.5 172.01 L198 171.81 L198.5 171.3 L199 171.11 L199.5 170.52 L200 170.69 L200.5 170.56 L201 170.65 L201.5 170.93 L202 170.94 L202.5 170.86 L203 171.08 L203.5 170.92 L204 171.06 L204.5 170.62 L205 170.19 L205.5 170.59 L206 170.77 L206.5 170.47 L207 169.99 L207.5 170.33 L208 170.77 L208.5 171.12 L209 171.6 L209.5 171.4 L210 171.02 L210.5 171.13 L211 170.84 L211.5 170.54 L212 170.93 L212.5 170.92 L213 171.07 L213.5 171.48 L214 171.92 L214.5 173.2 L215 174.2 L215.5 174.2 L216 174.2 L216.5 174.2 L217 174.2 L217.5 174.2 L218 174.2 L218.5 174.2 L219 174.2 L219.5 172.88 L220 171.14 L220.5 170.74 L221 170.63 L221.5 170.84 L222 171.27 L222.5 171.94 L223 172.41 L223.5 173.2 L224 174.2 L224.5 174.2 L225 174.2 L225.5 174.2 L226 174.2 L226.5 174.2 L227 174.2 L227.5 174.2 L228 174.2 L228.5 174.2 L229 174.2 L229.5 174.2 L230 174.2 L230.5 174.2 L231 174.2 L231.5 174.2 L232 174.2 L232.5 174.2 L233 174.2 L233.5 174.2 L234 174.2 L234.5 173.43 L235 173.07 L235.5 172.85 L236 173.07 L236.5 173.45 L237 174.2 L237.5 174.2 L238 174.2 L238.5 174.2 L239 174.2 L239.5 174.2 L240 174.2 L240.5 174.2 L241 174.2 L241.5 174.2 L242 174.2 L242.5 173.53 L243 173.37 L243.5 172.83 L244 173.05 L244.5 173.53 L245 174.2 L245.5 174.2 L246 174.2 L246.5 174.2 L247 174.2 L247.5 174.2 L248 173.2 L248.5 173.02 L249 172.88 L249.5 172.5 L250 172.32 L250.5 172.54 L251 172.43 L251.5 172.15 L252 172.15 L252.5 172.43 L253 172.82 L253.5 172.3 L254 171.76 L254.5 171.46 L255 171.08 L255.5 170.77 L256 170.92 L256.5 170.22 L257 169.43 L257.5 169.52 L258 170.27 L258.5 170.6 L259 170.29 L259.5 170.52 L260 170.68 L260.5 171.11 L261 171.68 L261.5 172.07 L262 172.5 L262.5 172.66 L263 172.85 L263.5 172.87 L264 173.03 L264.5 173.12 L265 173.2 L265.5 172.64 L266 172.26 L266.5 171.56 L267 170.72 L267.5 170.78 L268 170.41 L268.5 169.9 L269 169.81 L269.5 168.85 L270 168.56 L270.5 168.54 L271 167.95 L271.5 166.5 L272 165.19 L272.5 166.49 L273 167.58 L273.5 169.26 L274 170.23 L274.5 171 L275 172.06 L275.5 172.25 L276 172.24 L276.5 172.01 L277 172.05 L277.5 172.2 L278 172.35 L278.5 171.81 L279 171.41 L279.5 170.85 L280 171.05 L280.5 171.17 L281 171.16 L281.5 171.3 L282 171.44 L282.5 171.36 L283 171.35 L283.5 171.03 L284 170.58 L284.5 170.93 L285 170.74 L285.5 170.26 L286 170.18 L286.5 169.85 L287 169.65 L287.5 168.78 L288 168.16 L288.5 168.31 L289 168.07 L289.5 169.48 L290 170.07 L290.5 169.38 L291 168.29 L291.5 168.26 L292 167.5 L292.5 167.41 L293 168.22 L293.5 168.91 L294 169.11 L294.5 168.67 L295 168.47 L295.5 168.51 L296 168.52 L296.5 167.8 L297 167.98 L297.5 168.2 L298 168.78 L298.5 169.71 L299 169.84 L299.5 169.97 L300 170.41 L300.5 169.84 L301 169.82 L301.5 169.58 L302 169.24 L302.5 170.06 L303 170.4 L303.5 170.53 L304 171.11 L304.5 171.71 L305 172.16 L305.5 172.53 L306 172 L306.5 171.45 L307 171.06 L307.5 171.5 L308 171.57 L308.5 171.41 L309 171.69 L309.5 171.96 L310 172.15 L310.5 171.94 L311 172.02 L311.5 171.68 L312 171.55 L312.5 171.4 L313 171.21 L313.5 171.39 L314 171.4 L314.5 171.31 L315 171 L315.5 170.87 L316 171.08 L316.5 171.42 L317 171.34 L317.5 171.69 L318 171.57 L318.5 171.79 L319 171.78 L319.5 171.72 L320 171.88 L320.5 171.65 L321 171.6 L321.5 171.65 L322 171.79 L322.5 171.7 L323 171.79 L323.5 171.95 L324 172.05 L324.5 172.24 L325 172.23 L325.5 172.28 L326 172.26 L326.5 171.88 L327 171.59 L327.5 171.78 L328 171.9 L328.5 171.33 L329 171.06 L329.5 170.32 L330 169.82 L330.5 169.96 L331 169.61 L331.5 168.9 L332 168.08 L332.5 167.36 L333 166.64 L333.5 166.5 L334 167.24 L334.5 168.88 L335 169.45 L335.5 169.41 L336 170.33 L336.5 171.56 L337 172.49 L337.5 172.42 L338 172.37 L338.5 172.45 L339 172.16 L339.5 171.16 L340 170.77 L340.5 170.26 L341 169.6 L341.5 168.9 L342 168.18 L342.5 168.24 L343 168.41 L343.5 167.58 L344 165.49 L344.5 165.31 L345 166.03 L345.5 165.73 L346 165.28 L346.5 165.93 L347 165.61 L347.5 165.56 L348 166.94 L348.5 167.69 L349 168.22 L349.5 167.43 L350 167.36 L350.5 167.38 L351 167.46 L351.5 167.28 L352 167.24 L352.5 167.07 L353 167.78 L353.5 168.92 L354 169.06 L354.5 168.72 L355 168.91 L355.5 169.67 L356 170.08 L356.5 170.33 L357 171.36 L357.5 171.25 L358 171.44 L358.5 171.56 L359 171.9 L359.5 172.22 L360 172.23 L360.5 171.77 L361 171.59 L361.5 171.56 L362 171.51 L362.5 171.29 L363 171.43 L363.5 171.27 L364 171.18 L364.5 170.97 L365 170.71 L365.5 171.06 L366 170.98 L366.5 171.01 L367 171.24 L367.5 171.22 L368 171.76 L368.5 172.4 L369 172.66 L369.5 172.94 L370 173.2 L370.5 173.08 L371 172.6 L371.5 172.39 L372 172.11 L372.5 171.94 L373 171.78 L373.5 171.75 L374 171.55 L374.5 171.85 L375 171.81 L375.5 171.88 L376 171.96 L376.5 172.02 L377 171.79 L377.5 172.07 L378 172.08 L378.5 171.83 L379 171.67 L379.5 171.78 L380 171.65 L380.5 172.29 L381 173.2 L381.5 173.07 L382 172.98 L382.5 172.71 L383 172.71 L383.5 172.65 L384 172.54 L384.5 172.53 L385 172.58 L385.5 173.45 L386 174.2 L386.5 174.2 L387 174.2 L387.5 174.2 L388 174.2 L388.5 174.2 L389 174.2 L389.5 174.2 L390 174.2 L390.5 174.2 L391 174.2 L391.5 174.2 L392 174.2 L392.5 174.2 L393 174.2 L393.5 174.2 L394 174.2 L394.5 174.2 L395 173.56 L395.5 173.34 L396 173.13 L396.5 172.73 L397 172.73 L397.5 172.96 L398 173.13 L398.5 173.34 L399 173.56 L399.5 174.2 L400 174.2 L400.5 174.2 L401 174.2 L401.5 174.2 L402 174.2 L402.5 174.2 L403 174.2 L403.5 174.2 L404 174.2 L404.5 174.2 L405 174.2 L405.5 174.2 L406 174.2 L406.5 174.2 L407 174.2 L407.5 174.2 L408 174.2 L408.5 174.2 L409 174.2 L409.5 174.2 L410 174.2 L410.5 174.2 L411 174.2 L411.5 174.2 L412 174.2 L412.5 174.2 L413 174.2 L413.5 174.2 L414 174.2 L414.5 173.6 L415 173.3 L415.5 173.1 L416 172.72 L416.5 172.91 L417 173.3 L417.5 173.6 L418 174.2 L418.5 174.2 L419 174.2 L419.5 174.2 L420 174.2 L420.5 174.2 L421 174.2 L421.5 174.2 L422 174.2 L422.5 174.2 L423 174.2 L423.5 174.2 L424 174.2 L424.5 174.2 L425 174.2 L425.5 174.2 L426 174.2 L426.5 174.2 L427 174.2 L427.5 174.2 L428 174.2 L428.5 174.2 L429 174.2 L429.5 174.2 L430 174.2 L430.5 174.2 L431 174.2 L431.5 173.39 L432 173.03 L432.5 171.88 L433 171.44 L433.5 171.26 L434 171.13 L434.5 171.75 L435 171.94 L435.5 171.71 L436 171.6 L436.5 172.54 L437 173.2 L437.5 173.12 L438 173.03 L438.5 172.97 L439 173.04 L439.5 173 L440 172.88 L440.5 172.72 L441 172.56 L441.5 172.73 L442 172.63 L442.5 172.59 L443 172.67 L443.5 172.64 L444 172.75 L444.5 172.61 L445 172.83 L445.5 172.87 L446 172.93 L446.5 172.92 L447 172.91 L447.5 172.77 L448 172.72 L448.5 172.53 L449 172.68 L449.5 172.81 L450 172.65 L450.5 172.83 L451 172.76 L451.5 172.79 L452 172.82 L452.5 172.78 L453 172.86 L453.5 172.75 L454 172.66 L454.5 172.61 L455 172.64 L455.5 173.45 L456 174.2 L456.5 174.2 L457 174.2 L457.5 174.2 L458 174.2 L458.5 171.79 L459 171.53 L459.5 171.49 L460 171.48 L460.5 173.02 L461 174.2 L461.5 174.2 L462 174.2 L462.5 174.2 L463 174.2 L463.5 174.2 L464 174.2 L464.5 174.2 L465 174.2 L465.5 174.2 L466 174.2 L466.5 174.2 L467 174.2 L467.5 174.2 L468 174.2 L468.5 174.2 L469 173.43 L469.5 173.43 L470 174.2 L470.5 174.2 L471 174.2 L471.5 174.2 L472 174.2 L472.5 174.2 L473 174.2 L473.5 174.2 L474 174.2 L474.5 174.2 L475 174.2 L475.5 174.2 L476 174.2 L476.5 173.09 L477 172.92 L477.5 173.45 L478 173.26 L478.5 173.07 L479 172.76 L479.5 172.72 L480 172.79 L480.5 173.07 L481 173.26 L481.5 173.45 L482 174.2 L482.5 174.2 L483 174.2 L483.5 174.2 L484 174.2 L484.5 174.2 L485 174.2 L485.5 174.2 L486 174.2 L486.5 174.2 L487 174.2 L487.5 174.2 L488 174.2 L488.5 174.2 L489 174.2 L489.5 174.2 L490 174.2 L490.5 174.2 L491 174.2 L491.5 174.2 L492 174.2 L492.5 174.2 L493 173.45 L493.5 173.2 L494 173.45 L494.5 174.2 L495 173.47 L495.5 173.06 L496 172.79 L496.5 173.15 L497 173.56 L497.5 172.2 L498 172.11 L498.5 172.08 L499 172.19 L499.5 172.34 L500 172.5 L500.5 172.6 L501 172.5 L501.5 172.6 L502 172.71 L502.5 172.63 L503 172.75 L503.5 172.79 L504 172.68 L504.5 172.55 L505 172.73 L505.5 173.45 L506 174.2 L506.5 174.2 L507 174.2 L507.5 174.2 L508 174.2 L508.5 174.2 L509 174.2 L509.5 174.2 L510 174.2 L510.5 174.2 L511 174.2 L511.5 174.2 L512 174.2 L512.5 174.2 L512.5 174.2 Z" fill="#87a13b"/>
<line x1="99" y1="187.2" x2="512.5" y2="187.2" stroke="#d8d8d8" stroke-width="0.8" />
<path d="M99 187.6 L99 186.6 L99.5 186.54 L100 186.47 L100.5 186.41 L101 186.33 L101.5 186.23 L102 186.07 L102.5 186.11 L103 186.23 L103.5 185.95 L104 185.74 L104.5 185.41 L105 185.53 L105.5 185.39 L106 184.89 L106.5 184.99 L107 185.02 L107.5 184.35 L108 183.99 L108.5 184.23 L109 184.28 L109.5 183.7 L110 183.86 L110.5 184.09 L111 184.14 L111.5 183.66 L112 184.17 L112.5 184.49 L113 184.28 L113.5 183.54 L114 183.1 L114.5 183.46 L115 183.15 L115.5 183.03 L116 182.4 L116.5 182.39 L117 182.04 L117.5 181.69 L118 181.91 L118.5 182.23 L119 182.77 L119.5 182.39 L120 181.33 L120.5 180.78 L121 181.07 L121.5 181.47 L122 180.2 L122.5 178.76 L123 177.91 L123.5 177.39 L124 178.7 L124.5 180.16 L125 181.12 L125.5 181.86 L126 182.11 L126.5 182.87 L127 183.41 L127.5 184.58 L128 185.43 L128.5 186.16 L129 186.68 L129.5 187.6 L130 187.6 L130.5 187.6 L131 187.6 L131.5 187.6 L132 187.6 L132.5 187.6 L133 187.6 L133.5 187.6 L134 187.6 L134.5 187.6 L135 187.6 L135.5 186.83 L136 186.08 L136.5 185.67 L137 185.72 L137.5 185.38 L138 185.44 L138.5 185.43 L139 185.43 L139.5 185.28 L140 185.47 L140.5 185.46 L141 185.08 L141.5 184.46 L142 184.3 L142.5 184.35 L143 184.65 L143.5 184.32 L144 183.82 L144.5 183.75 L145 184.08 L145.5 184.38 L146 183.96 L146.5 183.25 L147 183.14 L147.5 183.46 L148 183.68 L148.5 183.42 L149 183.32 L149.5 183.22 L150 182.83 L150.5 183.1 L151 183.51 L151.5 183.07 L152 183.21 L152.5 183.84 L153 183.55 L153.5 182.94 L154 183.04 L154.5 183.11 L155 183.26 L155.5 183.1 L156 182.63 L156.5 183.36 L157 183.69 L157.5 184.04 L158 183.83 L158.5 183.71 L159 183.74 L159.5 183.67 L160 184.27 L160.5 184.48 L161 184.36 L161.5 184.17 L162 183.85 L162.5 184.94 L163 186.6 L163.5 186.6 L164 186.6 L164.5 186.6 L165 186.6 L165.5 186.6 L166 186.6 L166.5 186.6 L167 186.6 L167.5 186.6 L168 186.6 L168.5 186.6 L169 186.6 L169.5 186.6 L170 186.6 L170.5 186.6 L171 186.6 L171.5 186.6 L172 186.6 L172.5 187.6 L173 187.6 L173.5 187.6 L174 187.6 L174.5 187.6 L175 187.6 L175.5 187.6 L176 187.6 L176.5 187.6 L177 187.6 L177.5 187.6 L178 187.6 L178.5 187.6 L179 187.6 L179.5 187.6 L180 187.6 L180.5 187.6 L181 187.6 L181.5 187.6 L182 187.6 L182.5 187.6 L183 187.6 L183.5 186.26 L184 186.04 L184.5 186.28 L185 186.34 L185.5 186.23 L186 186.32 L186.5 186.23 L187 186 L187.5 186.14 L188 185.99 L188.5 185.94 L189 186.08 L189.5 186.16 L190 186.24 L190.5 186.2 L191 186.1 L191.5 186.06 L192 186.1 L192.5 186.1 L193 185.97 L193.5 186.08 L194 186.16 L194.5 186.08 L195 185.95 L195.5 185.99 L196 185.95 L196.5 185.96 L197 186.09 L197.5 186.08 L198 186.23 L198.5 186.16 L199 186.13 L199.5 186.19 L200 186.21 L200.5 185.91 L201 185.89 L201.5 185.86 L202 185.76 L202.5 185.2 L203 184.97 L203.5 185.19 L204 185.04 L204.5 184.91 L205 185.08 L205.5 185.07 L206 185.42 L206.5 185.08 L207 184.99 L207.5 184.95 L208 184.64 L208.5 184.73 L209 184.3 L209.5 184.27 L210 185.04 L210.5 185.35 L211 185.69 L211.5 185.79 L212 185.72 L212.5 185.27 L213 184.93 L213.5 184.93 L214 184.76 L214.5 185.84 L215 186.6 L215.5 186.6 L216 186.6 L216.5 186.6 L217 186.6 L217.5 186.6 L218 186.6 L218.5 186.6 L219 186.6 L219.5 186.6 L220 186.6 L220.5 186.6 L221 186.6 L221.5 186.6 L222 186.6 L222.5 186.6 L223 186.6 L223.5 186.6 L224 186.6 L224.5 186.6 L225 186.6 L225.5 186.6 L226 186.6 L226.5 186.6 L227 186.6 L227.5 186.6 L228 186.6 L228.5 186.6 L229 186.6 L229.5 186.6 L230 186.6 L230.5 186.6 L231 186.6 L231.5 186.6 L232 186.6 L232.5 186.6 L233 186.6 L233.5 186.6 L234 186.6 L234.5 186.6 L235 186.6 L235.5 186.6 L236 186.6 L236.5 186.6 L237 186.6 L237.5 186.6 L238 186.6 L238.5 186.6 L239 186.6 L239.5 186.6 L240 186.6 L240.5 186.6 L241 186.6 L241.5 186.6 L242 186.6 L242.5 186.6 L243 186.6 L243.5 186.6 L244 186.6 L244.5 186.6 L245 186.6 L245.5 186.45 L246 186.14 L246.5 185.98 L247 186.02 L247.5 185.93 L248 185.63 L248.5 185.68 L249 185.62 L249.5 185.63 L250 185.4 L250.5 184.66 L251 183.92 L251.5 183.09 L252 182.73 L252.5 182.7 L253 182.55 L253.5 182.84 L254 183.15 L254.5 182.91 L255 182.01 L255.5 182.06 L256 182.3 L256.5 182.8 L257 183.37 L257.5 183.23 L258 183.38 L258.5 183.25 L259 183.37 L259.5 183.55 L260 183.83 L260.5 183.27 L261 183.24 L261.5 183.54 L262 183.78 L262.5 184.3 L263 185.18 L263.5 185.95 L264 186.6 L264.5 186.52 L265 186.43 L265.5 186.17 L266 186.24 L266.5 186.21 L267 186.24 L267.5 185.4 L268 184.6 L268.5 184.34 L269 184.06 L269.5 183.15 L270 182.95 L270.5 182.72 L271 181.75 L271.5 181.53 L272 181.08 L272.5 181.33 L273 181.79 L273.5 182.09 L274 182.92 L274.5 183.06 L275 182.63 L275.5 182.28 L276 182.83 L276.5 183.11 L277 182.96 L277.5 182.82 L278 182.85 L278.5 182.35 L279 181.77 L279.5 181.71 L280 182.88 L280.5 183.22 L281 183.64 L281.5 183.73 L282 183.9 L282.5 183.6 L283 182.75 L283.5 181.79 L284 180.52 L284.5 180.95 L285 180.89 L285.5 181.3 L286 181.78 L286.5 182.75 L287 184.05 L287.5 184.44 L288 184.4 L288.5 184.96 L289 185.21 L289.5 184.97 L290 185.08 L290.5 185.2 L291 185 L291.5 184.82 L292 184.69 L292.5 184.81 L293 184.89 L293.5 184.61 L294 184.6 L294.5 184.23 L295 184.24 L295.5 184.7 L296 184.27 L296.5 184.13 L297 184.36 L297.5 184.23 L298 184.16 L298.5 183.61 L299 183.6 L299.5 183.33 L300 183.2 L300.5 182.6 L301 182.63 L301.5 181.99 L302 182.42 L302.5 182.41 L303 182.16 L303.5 182.41 L304 182.4 L304.5 183.44 L305 183.73 L305.5 182.48 L306 181.13 L306.5 182.44 L307 182.86 L307.5 182.54 L308 182 L308.5 182.09 L309 182.91 L309.5 183.24 L310 183.48 L310.5 183.66 L311 183.29 L311.5 182.57 L312 182.72 L312.5 182.01 L313 182.2 L313.5 182.9 L314 183.14 L314.5 183.34 L315 183.17 L315.5 183.53 L316 183.58 L316.5 183.41 L317 183.29 L317.5 183.46 L318 182.92 L318.5 183.09 L319 182.64 L319.5 182.03 L320 182.14 L320.5 182.88 L321 183.28 L321.5 183.36 L322 183.28 L322.5 182.94 L323 183.52 L323.5 183.75 L324 183.11 L324.5 182.95 L325 182.67 L325.5 182.85 L326 183.31 L326.5 183.04 L327 182.49 L327.5 182.72 L328 182.81 L328.5 183.16 L329 183.77 L329.5 184.06 L330 183.94 L330.5 184.21 L331 184 L331.5 183.43 L332 183.6 L332.5 182.69 L333 182.13 L333.5 182.26 L334 183.12 L334.5 183.65 L335 183.88 L335.5 183.82 L336 184.52 L336.5 184.96 L337 185.07 L337.5 185.04 L338 185.47 L338.5 186.07 L339 186.6 L339.5 186.52 L340 186.43 L340.5 186.2 L341 186.31 L341.5 186.37 L342 186.27 L342.5 185.64 L343 185.11 L343.5 184.54 L344 183.65 L344.5 182.62 L345 182.31 L345.5 182.85 L346 182.99 L346.5 183.13 L347 182.76 L347.5 183.41 L348 183.1 L348.5 182.55 L349 182.71 L349.5 183.17 L350 182.47 L350.5 182.32 L351 182.15 L351.5 182.69 L352 182.1 L352.5 181.8 L353 182.58 L353.5 182.24 L354 182.63 L354.5 183.14 L355 183.53 L355.5 183.3 L356 183.57 L356.5 183.67 L357 183.64 L357.5 183.29 L358 182.68 L358.5 182.83 L359 182.83 L359.5 183.64 L360 183.88 L360.5 183.15 L361 183.11 L361.5 183.34 L362 182.83 L362.5 182.49 L363 181.5 L363.5 181.72 L364 182.15 L364.5 182.57 L365 182.15 L365.5 181.62 L366 181.55 L366.5 181.4 L367 180.74 L367.5 181.98 L368 183 L368.5 183.35 L369 183.78 L369.5 184.14 L370 184.79 L370.5 185.07 L371 185.74 L371.5 185.91 L372 186.1 L372.5 186.2 L373 186.6 L373.5 186.47 L374 186.48 L374.5 186.31 L375 186.1 L375.5 186.1 L376 185.9 L376.5 185.97 L377 186.25 L377.5 186.39 L378 186.34 L378.5 186.21 L379 186.22 L379.5 186.18 L380 186.1 L380.5 185.99 L381 186.11 L381.5 185.9 L382 185.86 L382.5 185.8 L383 185.9 L383.5 185.87 L384 185.72 L384.5 185.51 L385 185.63 L385.5 185.88 L386 185.74 L386.5 185.48 L387 185.77 L387.5 185.57 L388 185.41 L388.5 185.61 L389 185.63 L389.5 185.68 L390 185.84 L390.5 185.64 L391 185.42 L391.5 185.63 L392 185.71 L392.5 185.4 L393 185.36 L393.5 186 L394 186.6 L394.5 186.6 L395 186.6 L395.5 186.6 L396 186.6 L396.5 186.6 L397 186.6 L397.5 186.6 L398 186.6 L398.5 186.6 L399 186.6 L399.5 186.6 L400 186.6 L400.5 187.6 L401 187.6 L401.5 187.6 L402 187.6 L402.5 187.6 L403 187.6 L403.5 187.6 L404 186.93 L404.5 186.6 L405 186.93 L405.5 187.6 L406 187.6 L406.5 187.6 L407 187.6 L407.5 187.6 L408 187.6 L408.5 187.6 L409 187.6 L409.5 186.75 L410 186.85 L410.5 186.47 L411 186.3 L411.5 186.47 L412 186.85 L412.5 186.91 L413 186.58 L413.5 186.27 L414 186.68 L414.5 187.6 L415 187.6 L415.5 187.6 L416 187.6 L416.5 187.6 L417 187.6 L417.5 187.6 L418 186.85 L418.5 186.47 L419 186.34 L419.5 186.47 L420 186.85 L420.5 187.6 L421 187.6 L421.5 187.6 L422 187.6 L422.5 187.6 L423 187.6 L423.5 187.6 L424 187.6 L424.5 187.6 L425 187.6 L425.5 186.85 L426 186.42 L426.5 186.02 L427 186.55 L427.5 186.97 L428 187.6 L428.5 186.85 L429 186.6 L429.5 186.41 L430 185.91 L430.5 186.18 L431 186.6 L431.5 186.85 L432 187.6 L432.5 187.6 L433 187.6 L433.5 187.6 L434 187.6 L434.5 187.6 L435 187.6 L435.5 187.6 L436 187.6 L436.5 187.6 L437 186.77 L437.5 186.37 L438 185.89 L438.5 185.4 L439 185.29 L439.5 185.47 L440 185.96 L440.5 186.35 L441 186.77 L441.5 187.6 L442 187.6 L442.5 187.6 L443 187.6 L443.5 187.6 L444 187.6 L444.5 187.6 L445 187.6 L445.5 187.6 L446 186.85 L446.5 186.6 L447 186.43 L447.5 186.14 L448 186.36 L448.5 186.6 L449 186.85 L449.5 187.6 L450 187.6 L450.5 187.6 L451 187.6 L451.5 187.6 L452 187.6 L452.5 187.6 L453 187.6 L453.5 187.6 L454 187.6 L454.5 187.6 L455 187.6 L455.5 187.6 L456 186.93 L456.5 186.77 L457 186.6 L457.5 186.77 L458 186.93 L458.5 187.6 L459 187.6 L459.5 187.6 L460 187.6 L460.5 187.6 L461 187.6 L461.5 186.85 L462 186.57 L462.5 186.75 L463 187.6 L463.5 187.6 L464 187.6 L464.5 187.6 L465 187.6 L465.5 187.6 L466 187.6 L466.5 187.6 L467 187.6 L467.5 187.6 L468 187.6 L468.5 187.6 L469 187.6 L469.5 187.6 L470 187.6 L470.5 187.6 L471 187.6 L471.5 187.6 L472 187.6 L472.5 187.6 L473 187.6 L473.5 187.6 L474 187.6 L474.5 187.6 L475 187.6 L475.5 187.6 L476 186.93 L476.5 186.6 L477 186.09 L477.5 185.78 L478 185.29 L478.5 185.7 L479 186.26 L479.5 186.6 L480 186.81 L480.5 187.6 L481 187.6 L481.5 187.6 L482 187.6 L482.5 187.6 L483 187.6 L483.5 187.6 L484 187.6 L484.5 187.6 L485 187.6 L485.5 186.85 L486 186.6 L486.5 186.52 L487 186.34 L487.5 186.49 L488 186.6 L488.5 186.85 L489 187.6 L489.5 187.6 L490 187.6 L490.5 187.6 L491 187.6 L491.5 187.6 L492 186.82 L492.5 186.56 L493 186.6 L493.5 187.6 L494 187.6 L494.5 187.6 L495 187.6 L495.5 187.6 L496 187.6 L496.5 187.6 L497 187.6 L497.5 187.6 L498 187.6 L498.5 187.6 L499 186.46 L499.5 186.89 L500 186.6 L500.5 187.6 L501 187.6 L501.5 187.6 L502 186.62 L502.5 186.07 L503 186.22 L503.5 186.69 L504 187.6 L504.5 187.6 L505 186.6 L505.5 187.6 L506 187.6 L506.5 187.6 L507 187.6 L507.5 187.6 L508 187.6 L508.5 187.6 L509 187.6 L509.5 187.6 L510 187.6 L510.5 187.6 L511 187.6 L511.5 187.6 L512 186.48 L512.5 186.74 L512.5 187.6 Z" fill="#87a13b"/>
<text x="0" y="0" font-size="8.22" text-anchor="end" fill="#231f20" transform="translate(76.3 203.55) scale(0.8233 1)" >LT-HSC</text>
<text x="0" y="0" font-size="8.22" text-anchor="end" fill="#231f20" transform="translate(76.3 216.55) scale(0.9250 1)" >B-Cell</text>
<text x="0" y="0" font-size="8.22" text-anchor="end" fill="#231f20" transform="translate(76.3 229.8) scale(0.9250 1)" >CMP</text>
<text x="0" y="0" font-size="8.22" text-anchor="end" fill="#231f20" transform="translate(76.3 244.3) scale(0.9250 1)" >GMP</text>
<text x="0" y="0" font-size="8.22" text-anchor="end" fill="#231f20" transform="translate(76.3 257.3) scale(0.9250 1)" >Gr</text>
<line x1="79.5" y1="193.75" x2="79.5" y2="261.25" stroke="#231f20" stroke-width="1" />
<text x="0" y="0" font-size="8.22" text-anchor="start" fill="#231f20" transform="translate(83.2 200.3) scale(0.9250 1)" >41</text>
<text x="0" y="0" font-size="8.22" text-anchor="start" fill="#231f20" transform="translate(83.2 260.3) scale(0.9250 1)" >0</text>
<line x1="99" y1="207" x2="512.5" y2="207" stroke="#9c97cc" stroke-width="0.8" />
<path d="M99 207.4 L99 207.4 L99.5 206.53 L100 206.19 L100.5 205.79 L101 205.32 L101.5 205.43 L102 205.49 L102.5 205.4 L103 205.34 L103.5 205.35 L104 205.45 L104.5 205.53 L105 205.6 L105.5 205.55 L106 205.59 L106.5 205.73 L107 205.96 L107.5 206.4 L108 207.4 L108.5 207.4 L109 207.4 L109.5 207.4 L110 206.67 L110.5 206.19 L111 206.78 L111.5 207.4 L112 207.4 L112.5 207.4 L113 207.4 L113.5 207.4 L114 207.4 L114.5 207.4 L115 207.4 L115.5 207.4 L116 207.4 L116.5 207.4 L117 207.4 L117.5 207.4 L118 207.4 L118.5 206.53 L119 206.09 L119.5 205.78 L120 205.48 L120.5 205.34 L121 205.22 L121.5 205.13 L122 205.3 L122.5 205.59 L123 205.91 L123.5 206.09 L124 206.4 L124.5 206.65 L125 207.4 L125.5 206.4 L126 205.88 L126.5 205.4 L127 204.86 L127.5 204.26 L128 203.52 L128.5 203.13 L129 202.9 L129.5 202.11 L130 200.43 L130.5 199.22 L131 198.45 L131.5 197.83 L132 198.58 L132.5 199.86 L133 202.34 L133.5 204.91 L134 206.16 L134.5 205.82 L135 204.44 L135.5 203.42 L136 202.13 L136.5 200.23 L137 198.39 L137.5 197.88 L138 197.13 L138.5 197.33 L139 199.1 L139.5 200.6 L140 201.82 L140.5 203.41 L141 205.15 L141.5 205.82 L142 206.4 L142.5 206.4 L143 206.4 L143.5 206.4 L144 206.4 L144.5 206.4 L145 206.4 L145.5 206.4 L146 206.4 L146.5 206.4 L147 206.4 L147.5 206.4 L148 206.4 L148.5 206.4 L149 206.4 L149.5 206.4 L150 206.4 L150.5 206.4 L151 206.4 L151.5 206.4 L152 206.4 L152.5 206.4 L153 206.4 L153.5 206.46 L154 206.61 L154.5 206.75 L155 207.4 L155.5 207.4 L156 207.4 L156.5 207.4 L157 207.4 L157.5 206.65 L158 206.58 L158.5 207.4 L159 207.4 L159.5 207.4 L160 207.4 L160.5 207.4 L161 207.4 L161.5 207.4 L162 207.4 L162.5 207.4 L163 207.4 L163.5 207.4 L164 206.4 L164.5 205.84 L165 205.34 L165.5 205.85 L166 206.4 L166.5 207.4 L167 207.4 L167.5 207.4 L168 207.4 L168.5 207.4 L169 207.4 L169.5 207.4 L170 207.4 L170.5 207.4 L171 207.4 L171.5 207.4 L172 207.4 L172.5 207.4 L173 207.4 L173.5 207.4 L174 207.4 L174.5 207.4 L175 207.4 L175.5 207.4 L176 207.4 L176.5 207.4 L177 207.4 L177.5 207.4 L178 207.4 L178.5 207.4 L179 207.4 L179.5 207.4 L180 207.4 L180.5 207.4 L181 206.7 L181.5 206.11 L182 206.46 L182.5 207.4 L183 206.73 L183.5 206.4 L184 206.73 L184.5 206.48 L185 207.4 L185.5 207.4 L186 207.4 L186.5 207.4 L187 207.4 L187.5 207.4 L188 207.4 L188.5 207.4 L189 207.4 L189.5 206.51 L190 206.21 L190.5 205.87 L191 206.23 L191.5 206.59 L192 206.51 L192.5 206.44 L193 206.4 L193.5 206.73 L194 207.4 L194.5 207.4 L195 207.4 L195.5 207.4 L196 207.4 L196.5 207.4 L197 207.4 L197.5 207.4 L198 207.4 L198.5 207.4 L199 207.4 L199.5 207.4 L200 207.4 L200.5 207.4 L201 207.4 L201.5 207.4 L202 207.4 L202.5 207.4 L203 207.4 L203.5 207.4 L204 207.4 L204.5 207.4 L205 207.4 L205.5 207.4 L206 206.4 L206.5 205.87 L207 205.34 L207.5 205.95 L208 206.4 L208.5 207.4 L209 207.4 L209.5 207.4 L210 207.4 L210.5 207.4 L211 207.4 L211.5 206.77 L212 206.58 L212.5 206.33 L213 206.42 L213.5 206.15 L214 206.15 L214.5 206.43 L215 206.78 L215.5 207.4 L216 207.4 L216.5 207.4 L217 206.73 L217.5 206.65 L218 206.57 L218.5 206.48 L219 206.4 L219.5 206.48 L220 206.57 L220.5 206.65 L221 206.73 L221.5 207.4 L222 207.4 L222.5 207.4 L223 207.4 L223.5 207.4 L224 207.4 L224.5 207.4 L225 207.4 L225.5 206.46 L226 205.87 L226.5 206.44 L227 207.4 L227.5 207.4 L228 207.4 L228.5 207.4 L229 207.4 L229.5 207.4 L230 207.4 L230.5 207.4 L231 207.4 L231.5 206.32 L232 205.91 L232.5 206.63 L233 207.4 L233.5 207.4 L234 207.4 L234.5 207.4 L235 207.4 L235.5 207.4 L236 207.4 L236.5 207.4 L237 207.4 L237.5 207.4 L238 207.4 L238.5 206.45 L239 206.1 L239.5 206.17 L240 206.4 L240.5 206.57 L241 206.73 L241.5 207.4 L242 206.73 L242.5 206.57 L243 206.16 L243.5 206.21 L244 206.73 L244.5 207.4 L245 207.4 L245.5 207.4 L246 207.4 L246.5 207.4 L247 207.4 L247.5 207.4 L248 207.4 L248.5 207.4 L249 207.4 L249.5 207.4 L250 207.4 L250.5 207.4 L251 207.4 L251.5 207.4 L252 207.4 L252.5 207.4 L253 207.4 L253.5 207.4 L254 207.4 L254.5 207.4 L255 207.4 L255.5 207.4 L256 207.4 L256.5 207.4 L257 207.4 L257.5 206.65 L258 206.07 L258.5 206.52 L259 207.4 L259.5 207.4 L260 207.4 L260.5 207.4 L261 206.4 L261.5 205.8 L262 205.27 L262.5 205.89 L263 206.4 L263.5 207.4 L264 207.4 L264.5 207.4 L265 207.4 L265.5 207.4 L266 207.4 L266.5 207.4 L267 207.4 L267.5 207.4 L268 207.4 L268.5 207.4 L269 206.8 L269.5 206.5 L270 206.2 L270.5 205.89 L271 206.2 L271.5 206.5 L272 206.8 L272.5 207.4 L273 207.4 L273.5 207.4 L274 207.4 L274.5 207.4 L275 207.4 L275.5 207.4 L276 206.73 L276.5 206.14 L277 206.73 L277.5 207.4 L278 206.67 L278.5 206.69 L279 207.4 L279.5 207.4 L280 207.4 L280.5 207.4 L281 206.78 L281.5 206.39 L282 206.11 L282.5 206.58 L283 207.4 L283.5 206.28 L284 205.67 L284.5 204.92 L285 204.22 L285.5 203.76 L286 203.29 L286.5 203.05 L287 203.77 L287.5 204.33 L288 204.82 L288.5 204.96 L289 205.11 L289.5 205.2 L290 205.44 L290.5 205.1 L291 204.85 L291.5 205.2 L292 205.53 L292.5 205.76 L293 205.98 L293.5 205.98 L294 205.84 L294.5 205.83 L295 205.87 L295.5 205.8 L296 205.69 L296.5 205.59 L297 205.39 L297.5 205.39 L298 205.39 L298.5 205.47 L299 205.51 L299.5 205.48 L300 205.66 L300.5 206.28 L301 207.4 L301.5 207.4 L302 207.4 L302.5 207.4 L303 207.4 L303.5 207.4 L304 206.61 L304.5 206.36 L305 207.4 L305.5 207.4 L306 207.4 L306.5 207.4 L307 207.4 L307.5 207.4 L308 207.4 L308.5 207.4 L309 207.4 L309.5 207.4 L310 207.4 L310.5 207.4 L311 207.4 L311.5 207.4 L312 207.4 L312.5 207.4 L313 207.4 L313.5 207.4 L314 207.4 L314.5 207.4 L315 206.56 L315.5 206.26 L316 206.58 L316.5 207.4 L317 206.54 L317.5 206.51 L318 207.4 L318.5 207.4 L319 207.4 L319.5 207.4 L320 207.4 L320.5 207.4 L321 207.4 L321.5 207.4 L322 207.4 L322.5 207.4 L323 207.4 L323.5 207.4 L324 207.4 L324.5 207.4 L325 207.4 L325.5 207.4 L326 206.24 L326.5 206.22 L327 207.4 L327.5 206.4 L328 207.4 L328.5 207.4 L329 207.4 L329.5 207.4 L330 207.4 L330.5 207.4 L331 206.46 L331.5 205.97 L332 206.22 L332.5 206.76 L333 207.4 L333.5 207.4 L334 207.4 L334.5 207.4 L335 207.4 L335.5 207.4 L336 207.4 L336.5 207.4 L337 206.45 L337.5 206.19 L338 206.52 L338.5 207.4 L339 207.4 L339.5 207.4 L340 207.4 L340.5 207.4 L341 207.4 L341.5 207.4 L342 207.4 L342.5 207.4 L343 207.4 L343.5 206.76 L344 206.31 L344.5 205.57 L345 204.46 L345.5 203.87 L346 203.6 L346.5 203.23 L347 202.54 L347.5 201.39 L348 200.21 L348.5 198.3 L349 197.61 L349.5 197.65 L350 197.54 L350.5 198.4 L351 199.05 L351.5 198.82 L352 199.02 L352.5 201.02 L353 202.62 L353.5 204.34 L354 206.36 L354.5 206.4 L355 206.4 L355.5 206.4 L356 206.4 L356.5 206.4 L357 206.4 L357.5 206.4 L358 206.4 L358.5 205.32 L359 204.52 L359.5 204.54 L360 204.24 L360.5 204.24 L361 204.47 L361.5 205.51 L362 206.4 L362.5 206.4 L363 206.4 L363.5 206.4 L364 206.4 L364.5 205.29 L365 203.96 L365.5 204.46 L366 204.92 L366.5 205.69 L367 206.4 L367.5 206.48 L368 206.57 L368.5 206.61 L369 206.23 L369.5 206.14 L370 206.49 L370.5 207.4 L371 207.4 L371.5 207.4 L372 206.59 L372.5 206.78 L373 207.4 L373.5 207.4 L374 207.4 L374.5 206.63 L375 206.28 L375.5 206.32 L376 206.67 L376.5 207.4 L377 207.4 L377.5 207.4 L378 207.4 L378.5 207.4 L379 207.4 L379.5 206.73 L380 206.4 L380.5 206.73 L381 207.4 L381.5 207.4 L382 207.4 L382.5 207.4 L383 207.4 L383.5 207.4 L384 207.4 L384.5 207.4 L385 207.4 L385.5 207.4 L386 207.4 L386.5 207.4 L387 207.4 L387.5 207.4 L388 207.4 L388.5 207.4 L389 207.4 L389.5 206.73 L390 206.4 L390.5 206.73 L391 207.4 L391.5 207.4 L392 207.4 L392.5 206.43 L393 206.1 L393.5 207.4 L394 207.4 L394.5 207.4 L395 206.61 L395.5 206.27 L396 206.37 L396.5 206.71 L397 207.4 L397.5 207.4 L398 207.4 L398.5 207.4 L399 207.4 L399.5 207.4 L400 206.5 L400.5 205.98 L401 206.3 L401.5 206.8 L402 207.4 L402.5 207.4 L403 207.4 L403.5 207.4 L404 207.4 L404.5 207.4 L405 207.4 L405.5 207.4 L406 207.4 L406.5 207.4 L407 207.4 L407.5 207.4 L408 207.4 L408.5 207.4 L409 207.4 L409.5 207.4 L410 207.4 L410.5 207.4 L411 207.4 L411.5 207.4 L412 207.4 L412.5 206.77 L413 206.31 L413.5 206.38 L414 206.5 L414.5 206.03 L415 206.3 L415.5 206.8 L416 207.4 L416.5 207.4 L417 207.4 L417.5 207.4 L418 207.4 L418.5 207.4 L419 207.4 L419.5 207.4 L420 207.4 L420.5 207.4 L421 207.4 L421.5 207.4 L422 207.4 L422.5 207.4 L423 207.4 L423.5 207.4 L424 207.4 L424.5 207.4 L425 207.4 L425.5 207.4 L426 207.4 L426.5 207.4 L427 207.4 L427.5 207.4 L428 207.4 L428.5 207.4 L429 207.4 L429.5 207.4 L430 207.4 L430.5 207.4 L431 206.78 L431.5 206.3 L432 205.89 L432.5 205.96 L433 205.82 L433.5 206.4 L434 207.4 L434.5 206.65 L435 206.4 L435.5 206.65 L436 207.4 L436.5 207.4 L437 207.4 L437.5 207.4 L438 207.4 L438.5 207.4 L439 207.4 L439.5 207.4 L440 207.4 L440.5 207.4 L441 206.47 L441.5 206.08 L442 205.96 L442.5 206.33 L443 206.19 L443.5 207.4 L444 207.4 L444.5 206.73 L445 206.47 L445.5 206.38 L446 206.63 L446.5 207.4 L447 206.64 L447.5 206.58 L448 207.4 L448.5 207.4 L449 206.66 L449.5 206.37 L450 206.53 L450.5 207.4 L451 207.4 L451.5 207.4 L452 207.4 L452.5 207.4 L453 207.4 L453.5 207.4 L454 207.4 L454.5 207.4 L455 207.4 L455.5 207.4 L456 207.4 L456.5 207.4 L457 207.4 L457.5 207.4 L458 207.4 L458.5 206.4 L459 205.86 L459.5 206.11 L460 207.4 L460.5 207.4 L461 207.4 L461.5 207.4 L462 207.4 L462.5 207.4 L463 207.4 L463.5 207.4 L464 207.4 L464.5 207.4 L465 206.5 L465.5 206.02 L466 206.3 L466.5 206.8 L467 207.4 L467.5 206.43 L468 206.35 L468.5 206.78 L469 207.4 L469.5 207.4 L470 207.4 L470.5 207.4 L471 207.4 L471.5 207.4 L472 207.4 L472.5 207.4 L473 207.4 L473.5 207.4 L474 207.4 L474.5 207.4 L475 207.4 L475.5 207.4 L476 207.4 L476.5 207.4 L477 207.4 L477.5 207.4 L478 207.4 L478.5 207.4 L479 207.4 L479.5 207.4 L480 207.4 L480.5 207.4 L481 207.4 L481.5 207.4 L482 207.4 L482.5 207.4 L483 207.4 L483.5 207.4 L484 207.4 L484.5 207.4 L485 207.4 L485.5 207.4 L486 207.4 L486.5 207.4 L487 207.4 L487.5 207.4 L488 206.72 L488.5 205.88 L489 206.58 L489.5 207.4 L490 207.4 L490.5 207.4 L491 207.4 L491.5 207.4 L492 207.4 L492.5 206.78 L493 206.35 L493.5 206.3 L494 206.57 L494.5 205.76 L495 204.81 L495.5 205.76 L496 206.57 L496.5 207.4 L497 207.4 L497.5 207.4 L498 207.4 L498.5 207.4 L499 207.4 L499.5 207.4 L500 206.76 L500.5 206.38 L501 206.54 L501.5 207.4 L502 207.4 L502.5 207.4 L503 207.4 L503.5 207.4 L504 207.4 L504.5 207.4 L505 207.4 L505.5 207.4 L506 207.4 L506.5 207.4 L507 207.4 L507.5 207.4 L508 207.4 L508.5 207.4 L509 207.4 L509.5 207.4 L510 207.4 L510.5 207.4 L511 207.4 L511.5 207.4 L512 207.4 L512.5 207.4 L512.5 207.4 Z" fill="#3b2c86"/>
<line x1="99" y1="220.2" x2="512.5" y2="220.2" stroke="#9c97cc" stroke-width="0.8" />
<path d="M99 220.6 L99 220.6 L99.5 220.6 L100 220.6 L100.5 220.6 L101 219.97 L101.5 219.94 L102 219.91 L102.5 219.88 L103 219.85 L103.5 219.82 L104 219.79 L104.5 219.76 L105 219.72 L105.5 219.69 L106 219.66 L106.5 219.63 L107 219.6 L107.5 219.6 L108 219.6 L108.5 219.6 L109 219.6 L109.5 219.6 L110 219.42 L110.5 219.6 L111 219.6 L111.5 219.34 L112 219.08 L112.5 218.77 L113 218.53 L113.5 218.23 L114 218.05 L114.5 218.45 L115 218.79 L115.5 219.15 L116 219.6 L116.5 219.6 L117 219.6 L117.5 219.6 L118 219.6 L118.5 219.6 L119 219.6 L119.5 219.4 L120 219.17 L120.5 218.97 L121 218.81 L121.5 218.62 L122 217.44 L122.5 216.24 L123 214.67 L123.5 213.43 L124 215.25 L124.5 216.5 L125 217.61 L125.5 219.02 L126 218.93 L126.5 218.74 L127 218.52 L127.5 217.68 L128 216.86 L128.5 215.45 L129 213.85 L129.5 212.68 L130 211.5 L130.5 210.77 L131 209.98 L131.5 209.54 L132 209.85 L132.5 210.49 L133 209.81 L133.5 212.46 L134 217.91 L134.5 219.04 L135 218.88 L135.5 218.64 L136 214.24 L136.5 211.81 L137 210.25 L137.5 210.15 L138 210.97 L138.5 210.89 L139 210.06 L139.5 209.98 L140 211.59 L140.5 213.29 L141 214.52 L141.5 215.59 L142 216.11 L142.5 216.99 L143 217.66 L143.5 218.57 L144 219.6 L144.5 219.6 L145 219.6 L145.5 219.6 L146 219.6 L146.5 219.6 L147 219.6 L147.5 219.6 L148 219.6 L148.5 219.6 L149 219.6 L149.5 219.6 L150 219.6 L150.5 219.6 L151 219.6 L151.5 219.6 L152 219.6 L152.5 219.6 L153 219.6 L153.5 219.6 L154 219.6 L154.5 219.6 L155 219.6 L155.5 219.35 L156 218.84 L156.5 219.29 L157 219.8 L157.5 219.85 L158 219.9 L158.5 219.95 L159 220 L159.5 220.6 L160 219.55 L160.5 219.6 L161 219.89 L161.5 220.6 L162 219.91 L162.5 219.63 L163 219.07 L163.5 219.72 L164 219.54 L164.5 219.2 L165 219.09 L165.5 219.51 L166 219.91 L166.5 220.6 L167 220.6 L167.5 220.6 L168 220.6 L168.5 220.6 L169 220.6 L169.5 220.6 L170 220.6 L170.5 220.6 L171 220.6 L171.5 219.78 L172 219.4 L172.5 219.03 L173 219.43 L173.5 219.81 L174 220.6 L174.5 220.6 L175 220.6 L175.5 219.87 L176 219.55 L176.5 219.38 L177 219.62 L177.5 219.94 L178 220.6 L178.5 220.6 L179 220.6 L179.5 220.6 L180 220.6 L180.5 220.6 L181 220.6 L181.5 220.6 L182 220.6 L182.5 220.6 L183 220.6 L183.5 220.6 L184 220.6 L184.5 220.6 L185 220.6 L185.5 220.6 L186 220.6 L186.5 220.6 L187 220.6 L187.5 220.6 L188 220.6 L188.5 219.72 L189 219.4 L189.5 219.31 L190 219.64 L190.5 220.6 L191 220.6 L191.5 220.6 L192 220.6 L192.5 220.6 L193 219.77 L193.5 219.49 L194 219.82 L194.5 220.6 L195 220.6 L195.5 220.6 L196 220.6 L196.5 220.6 L197 220.6 L197.5 220.6 L198 220.6 L198.5 220.6 L199 220.6 L199.5 220.6 L200 219.84 L200.5 219.53 L201 219.4 L201.5 219.63 L202 219.57 L202.5 219.3 L203 219.69 L203.5 219.9 L204 219.43 L204.5 219.58 L205 219.61 L205.5 219.58 L206 219.46 L206.5 219.33 L207 219.82 L207.5 220.6 L208 220.6 L208.5 219.87 L209 219.75 L209.5 219.97 L210 220.6 L210.5 220.6 L211 220.6 L211.5 220.6 L212 220.6 L212.5 220.6 L213 220.6 L213.5 220.6 L214 220.6 L214.5 220.6 L215 220.6 L215.5 220.6 L216 220.6 L216.5 220.6 L217 220.6 L217.5 220.6 L218 220.6 L218.5 220.6 L219 220.6 L219.5 220.6 L220 220.6 L220.5 220.6 L221 220.6 L221.5 219.79 L222 219.41 L222.5 219.18 L223 219.54 L223.5 219.91 L224 220.6 L224.5 219.69 L225 218.93 L225.5 219.7 L226 220.6 L226.5 220.6 L227 220.6 L227.5 220.6 L228 220.6 L228.5 220.6 L229 220.6 L229.5 220.6 L230 220.6 L230.5 220.6 L231 220.6 L231.5 220.6 L232 220.6 L232.5 220.6 L233 220.6 L233.5 220.6 L234 220.6 L234.5 220.6 L235 220.6 L235.5 220.6 L236 220.6 L236.5 220.6 L237 220.6 L237.5 220.6 L238 220.6 L238.5 220.6 L239 220.6 L239.5 220.6 L240 220 L240.5 219.66 L241 219.59 L241.5 219.93 L242 220.6 L242.5 220.6 L243 220.6 L243.5 220.6 L244 220.6 L244.5 220.6 L245 220.6 L245.5 220.6 L246 220.6 L246.5 220.6 L247 220.6 L247.5 220.6 L248 220.6 L248.5 220.6 L249 220.6 L249.5 220.6 L250 220.6 L250.5 220.6 L251 220.6 L251.5 220.6 L252 220.6 L252.5 220.6 L253 220.6 L253.5 220.6 L254 220.6 L254.5 220.6 L255 220.6 L255.5 220.6 L256 220.6 L256.5 220.6 L257 220.6 L257.5 220.6 L258 220.6 L258.5 220.6 L259 220.6 L259.5 220.6 L260 220.6 L260.5 220.6 L261 220.6 L261.5 220.6 L262 220.6 L262.5 220.6 L263 219.67 L263.5 219.93 L264 220.6 L264.5 220.6 L265 220.6 L265.5 219.95 L266 219.84 L266.5 220.6 L267 219.79 L267.5 219.48 L268 219.64 L268.5 219.95 L269 220.6 L269.5 220.6 L270 220.6 L270.5 220.6 L271 220.6 L271.5 220.6 L272 220.6 L272.5 220.6 L273 219.92 L273.5 219.28 L274 219.44 L274.5 219.33 L275 218.99 L275.5 219.47 L276 219.89 L276.5 220.6 L277 220.6 L277.5 220.6 L278 220.6 L278.5 220.6 L279 219.9 L279.5 219.84 L280 220.6 L280.5 220.6 L281 220.6 L281.5 220.6 L282 219.6 L282.5 219.08 L283 219.6 L283.5 220.6 L284 220.6 L284.5 220.6 L285 220.6 L285.5 220.6 L286 220.6 L286.5 220.6 L287 220.6 L287.5 219.93 L288 219.6 L288.5 219.93 L289 220.6 L289.5 220.6 L290 220.6 L290.5 220.6 L291 220.6 L291.5 220.6 L292 220.6 L292.5 220.6 L293 220.6 L293.5 220.6 L294 220.6 L294.5 220.6 L295 220.6 L295.5 220.6 L296 220.6 L296.5 220.6 L297 220.6 L297.5 220.6 L298 220.6 L298.5 220.6 L299 220.6 L299.5 220.6 L300 220.6 L300.5 220.6 L301 220.6 L301.5 220.6 L302 220.6 L302.5 220.6 L303 220.6 L303.5 220.6 L304 220.6 L304.5 220.6 L305 220.6 L305.5 220.6 L306 220.6 L306.5 220.6 L307 220.6 L307.5 220.6 L308 220.6 L308.5 220.6 L309 220.6 L309.5 220.6 L310 220.6 L310.5 219.6 L311 219.51 L311.5 219.99 L312 220.6 L312.5 220.6 L313 220.6 L313.5 220.6 L314 220.6 L314.5 220.6 L315 220.6 L315.5 220.6 L316 220.6 L316.5 220.6 L317 219.25 L317.5 218.45 L318 218.52 L318.5 219.43 L319 220.6 L319.5 220.6 L320 220.6 L320.5 220.6 L321 220.6 L321.5 220.6 L322 220.6 L322.5 220.6 L323 220.6 L323.5 220.6 L324 220.6 L324.5 220.6 L325 220.6 L325.5 220.6 L326 220.6 L326.5 220.6 L327 220.6 L327.5 220.6 L328 219.6 L328.5 220.6 L329 220.6 L329.5 220.6 L330 220.6 L330.5 220.6 L331 220.6 L331.5 220.6 L332 220.6 L332.5 219.86 L333 219.42 L333.5 219.74 L334 220.6 L334.5 220.6 L335 220.6 L335.5 220.6 L336 220.6 L336.5 220.6 L337 220.6 L337.5 220.6 L338 220.6 L338.5 220.6 L339 220.6 L339.5 219.72 L340 219.14 L340.5 219.54 L341 220.6 L341.5 220.6 L342 220.6 L342.5 220.6 L343 220.6 L343.5 220.6 L344 220.6 L344.5 220.6 L345 220.6 L345.5 220.6 L346 220.6 L346.5 219.9 L347 219.54 L347.5 219.17 L348 219.23 L348.5 219.64 L349 220 L349.5 219.6 L350 219.1 L350.5 219.36 L351 219.23 L351.5 219.55 L352 219.88 L352.5 219.45 L353 219.91 L353.5 220.6 L354 220.6 L354.5 220.6 L355 220.6 L355.5 219.77 L356 219.48 L356.5 219.62 L357 219.6 L357.5 220.6 L358 220.6 L358.5 219.6 L359 218.52 L359.5 219.6 L360 220.6 L360.5 220.6 L361 220.6 L361.5 220.6 L362 220.6 L362.5 220.6 L363 220.6 L363.5 220.6 L364 220.6 L364.5 220.6 L365 219.6 L365.5 220.6 L366 220.6 L366.5 220.6 L367 220.6 L367.5 220.6 L368 220.6 L368.5 220.6 L369 219.6 L369.5 220.6 L370 220.6 L370.5 219.84 L371 219.29 L371.5 219.84 L372 220.6 L372.5 220.6 L373 220.6 L373.5 220.6 L374 220.6 L374.5 220.6 L375 219.89 L375.5 219.51 L376 219.19 L376.5 219.31 L377 219.65 L377.5 220.6 L378 220.6 L378.5 220.6 L379 220.6 L379.5 220.6 L380 220.6 L380.5 219.78 L381 219.29 L381.5 219.34 L382 219.85 L382.5 220.6 L383 220.6 L383.5 220.6 L384 220.6 L384.5 220.6 L385 220.6 L385.5 220.6 L386 220.6 L386.5 220.6 L387 220.6 L387.5 220.6 L388 219.6 L388.5 220.6 L389 220.6 L389.5 220.6 L390 220.6 L390.5 220.6 L391 220.6 L391.5 220.6 L392 220.6 L392.5 220.6 L393 220.6 L393.5 220.6 L394 220.6 L394.5 219.85 L395 219.88 L395.5 220.6 L396 220.6 L396.5 220.6 L397 220.6 L397.5 220.6 L398 220.6 L398.5 220.6 L399 219.6 L399.5 220.6 L400 220.6 L400.5 220.6 L401 219.74 L401.5 219.34 L402 219.18 L402.5 219.56 L403 219.86 L403.5 219.69 L404 219.37 L404.5 219.4 L405 219.68 L405.5 219.87 L406 219.49 L406.5 219.52 L407 219.9 L407.5 220.6 L408 220.6 L408.5 220.6 L409 220.6 L409.5 220.6 L410 220.6 L410.5 220.6 L411 220.6 L411.5 220.6 L412 220.6 L412.5 220.6 L413 220.6 L413.5 220.6 L414 220.6 L414.5 220.6 L415 220.6 L415.5 220.6 L416 220.6 L416.5 220.6 L417 220.6 L417.5 220.6 L418 220.6 L418.5 220.6 L419 220.6 L419.5 220.6 L420 220.6 L420.5 220.6 L421 220.6 L421.5 220.6 L422 220.6 L422.5 220.6 L423 220.6 L423.5 220.6 L424 220.6 L424.5 220.6 L425 220.6 L425.5 220.6 L426 220.6 L426.5 220.6 L427 220.6 L427.5 220.6 L428 219.76 L428.5 219.21 L429 219.01 L429.5 219.5 L430 219.97 L430.5 220.6 L431 220.6 L431.5 220.6 L432 220.6 L432.5 220.6 L433 220.6 L433.5 220.6 L434 220.6 L434.5 220.6 L435 220.6 L435.5 220.6 L436 219.75 L436.5 219.14 L437 219.77 L437.5 220.6 L438 220.6 L438.5 220.6 L439 220.6 L439.5 220.6 L440 220.6 L440.5 220.6 L441 220.6 L441.5 220.6 L442 220.6 L442.5 220.6 L443 220.6 L443.5 220.6 L444 220.6 L444.5 220.6 L445 220.6 L445.5 220.6 L446 220.6 L446.5 220.6 L447 220.6 L447.5 220.6 L448 220.6 L448.5 220.6 L449 220.6 L449.5 220.6 L450 220.6 L450.5 220.6 L451 220.6 L451.5 220.6 L452 220.6 L452.5 220.6 L453 220.6 L453.5 220.6 L454 220.6 L454.5 220.6 L455 220.6 L455.5 220.6 L456 220.6 L456.5 219.93 L457 219.6 L457.5 219.93 L458 220.6 L458.5 220.6 L459 220.6 L459.5 220.6 L460 220.6 L460.5 220.6 L461 220.6 L461.5 220.6 L462 220.6 L462.5 220.6 L463 220.6 L463.5 220.6 L464 220.6 L464.5 220.6 L465 220.6 L465.5 220.6 L466 220.6 L466.5 219.75 L467 219.84 L467.5 220.6 L468 220.6 L468.5 219.6 L469 219.11 L469.5 219.6 L470 219.05 L470.5 219.41 L471 219.98 L471.5 220.6 L472 220.6 L472.5 220.6 L473 220.6 L473.5 219.91 L474 219.59 L474.5 219.99 L475 220.6 L475.5 220.6 L476 220.6 L476.5 220.6 L477 220.6 L477.5 220.6 L478 220.6 L478.5 219.97 L479 219.59 L479.5 219.13 L480 219.14 L480.5 219.58 L481 219.96 L481.5 220.6 L482 220.6 L482.5 220.6 L483 220.6 L483.5 220.6 L484 220.6 L484.5 220.6 L485 220.6 L485.5 219.82 L486 219.96 L486.5 220.6 L487 220.6 L487.5 220.6 L488 220.6 L488.5 220.6 L489 220.6 L489.5 220.6 L490 220.6 L490.5 220.6 L491 220.6 L491.5 219.93 L492 219.6 L492.5 219.93 L493 220.6 L493.5 220.6 L494 220.6 L494.5 220.6 L495 220.6 L495.5 220.6 L496 220.6 L496.5 219.98 L497 219.89 L497.5 220.6 L498 220.6 L498.5 219.91 L499 219.43 L499.5 219.03 L500 219.33 L500.5 219.87 L501 220.6 L501.5 220.6 L502 219.66 L502.5 219.34 L503 219.22 L503.5 219.29 L504 219.78 L504.5 220.6 L505 220.6 L505.5 220.6 L506 220.6 L506.5 220.6 L507 220.6 L507.5 220.6 L508 220.6 L508.5 220.6 L509 220.6 L509.5 220.6 L510 220.6 L510.5 220.6 L511 220.6 L511.5 220.6 L512 220.6 L512.5 220.6 L512.5 220.6 Z" fill="#3b2c86"/>
<line x1="99" y1="233.5" x2="512.5" y2="233.5" stroke="#9c97cc" stroke-width="0.8" />
<path d="M99 233.9 L99 232.9 L99.5 232.87 L100 232.83 L100.5 232.8 L101 232.77 L101.5 232.73 L102 232.7 L102.5 232.69 L103 232.56 L103.5 232.53 L104 232.6 L104.5 232.55 L105 232.51 L105.5 232.5 L106 232.38 L106.5 232.29 L107 232.36 L107.5 232.48 L108 232.61 L108.5 232.65 L109 232.76 L109.5 232.83 L110 232.51 L110.5 232.6 L111 232.9 L111.5 232.9 L112 232.9 L112.5 232.9 L113 232.9 L113.5 232.9 L114 232.9 L114.5 232.9 L115 232.9 L115.5 232.9 L116 232.9 L116.5 232.9 L117 232.9 L117.5 232.9 L118 232.88 L118.5 232.84 L119 232.79 L119.5 232.75 L120 232.7 L120.5 232.35 L121 232.05 L121.5 231.83 L122 231.59 L122.5 231.33 L123 231.19 L123.5 231.22 L124 231.07 L124.5 231.14 L125 231.39 L125.5 231.44 L126 231.53 L126.5 231.21 L127 230.72 L127.5 230.44 L128 229.97 L128.5 229.25 L129 228.71 L129.5 227.83 L130 226.66 L130.5 225.48 L131 224.19 L131.5 224.17 L132 224.17 L132.5 224.36 L133 224.25 L133.5 223.39 L134 225.13 L134.5 229.04 L135 231.38 L135.5 232.52 L136 231.77 L136.5 230.84 L137 229.77 L137.5 228.66 L138 227.34 L138.5 226.89 L139 226.13 L139.5 226.76 L140 227.28 L140.5 227.43 L141 228.04 L141.5 228.13 L142 228.46 L142.5 228.65 L143 230.1 L143.5 231.38 L144 231.78 L144.5 232.11 L145 232.41 L145.5 232.43 L146 232.41 L146.5 232.42 L147 232.42 L147.5 232.47 L148 232.46 L148.5 232.56 L149 232.64 L149.5 232.78 L150 232.9 L150.5 232.9 L151 232.9 L151.5 232.77 L152 232.27 L152.5 232.44 L153 232.43 L153.5 232.76 L154 232.9 L154.5 232.9 L155 232.9 L155.5 232.9 L156 232.9 L156.5 233.03 L157 232.71 L157.5 232.72 L158 233.18 L158.5 233.9 L159 233.9 L159.5 233.9 L160 233.9 L160.5 233.14 L161 232.71 L161.5 232.63 L162 233.02 L162.5 233.9 L163 233.9 L163.5 233.9 L164 233.9 L164.5 233.9 L165 233.9 L165.5 233.9 L166 233.9 L166.5 233.9 L167 233.9 L167.5 233.9 L168 233.9 L168.5 233.9 L169 233.9 L169.5 233.9 L170 233.9 L170.5 233.9 L171 233.9 L171.5 233.9 L172 233.9 L172.5 233.9 L173 233.9 L173.5 233.9 L174 232.92 L174.5 232.56 L175 233.04 L175.5 233.9 L176 233.9 L176.5 233.9 L177 233.9 L177.5 233.9 L178 233.23 L178.5 233.14 L179 233.9 L179.5 233.9 L180 233.9 L180.5 233.9 L181 233.9 L181.5 233.9 L182 233.9 L182.5 233.9 L183 233.9 L183.5 233.9 L184 233.9 L184.5 233.9 L185 233.9 L185.5 233.9 L186 233.9 L186.5 233.9 L187 233.9 L187.5 233.13 L188 232.54 L188.5 232.32 L189 232.9 L189.5 233.9 L190 233.9 L190.5 233.9 L191 233.9 L191.5 233.9 L192 233.9 L192.5 233.9 L193 233.9 L193.5 233.9 L194 233.9 L194.5 233.9 L195 233.9 L195.5 233.9 L196 233.9 L196.5 233.9 L197 233.9 L197.5 233.9 L198 233.9 L198.5 233.9 L199 233.9 L199.5 233.9 L200 233.9 L200.5 233.9 L201 233.29 L201.5 233.26 L202 233.23 L202.5 233.21 L203 233.18 L203.5 233.15 L204 233.12 L204.5 233.09 L205 233.07 L205.5 233.04 L206 233.01 L206.5 232.98 L207 232.96 L207.5 232.93 L208 232.9 L208.5 232.9 L209 232.9 L209.5 232.9 L210 232.9 L210.5 232.9 L211 232.9 L211.5 232.9 L212 232.9 L212.5 233.15 L213 232.99 L213.5 232.53 L214 232.48 L214.5 232.93 L215 233.9 L215.5 233.9 L216 233.9 L216.5 233.9 L217 233.9 L217.5 233.9 L218 233.9 L218.5 233.9 L219 233.9 L219.5 233.9 L220 233.9 L220.5 233.9 L221 233.12 L221.5 232.72 L222 232.42 L222.5 232.76 L223 233.22 L223.5 233.9 L224 233.9 L224.5 233.9 L225 233.9 L225.5 233.9 L226 233.9 L226.5 233.9 L227 233.9 L227.5 233.9 L228 233.9 L228.5 233.9 L229 233.9 L229.5 233.26 L230 232.97 L230.5 232.99 L231 233.28 L231.5 233.9 L232 232.78 L232.5 232.24 L233 232.84 L233.5 233.22 L234 233.2 L234.5 233.18 L235 233.15 L235.5 233.12 L236 233.1 L236.5 233.08 L237 233.05 L237.5 233.03 L238 233 L238.5 232.97 L239 232.95 L239.5 232.93 L240 232.9 L240.5 232.9 L241 232.9 L241.5 232.9 L242 232.9 L242.5 232.9 L243 232.9 L243.5 232.9 L244 232.9 L244.5 232.9 L245 232.9 L245.5 232.9 L246 232.9 L246.5 232.9 L247 232.9 L247.5 232.9 L248 232.9 L248.5 232.9 L249 232.9 L249.5 232.9 L250 232.9 L250.5 232.9 L251 232.9 L251.5 232.9 L252 232.9 L252.5 232.9 L253 232.9 L253.5 232.9 L254 232.9 L254.5 232.9 L255 232.9 L255.5 232.9 L256 232.9 L256.5 232.9 L257 232.9 L257.5 232.9 L258 232.9 L258.5 232.9 L259 232.9 L259.5 232.86 L260 232.82 L260.5 232.78 L261 232.73 L261.5 232.73 L262 232.62 L262.5 232.65 L263 232.6 L263.5 232.47 L264 232.41 L264.5 232.4 L265 232.38 L265.5 232.34 L266 232.36 L266.5 232.45 L267 232.35 L267.5 232.32 L268 232.38 L268.5 232.35 L269 232.33 L269.5 232.28 L270 232.27 L270.5 232.31 L271 232.37 L271.5 232.38 L272 232.33 L272.5 232.34 L273 232.34 L273.5 232.4 L274 232.36 L274.5 232.45 L275 232.4 L275.5 232.44 L276 232.39 L276.5 232.37 L277 232.46 L277.5 232.56 L278 232.57 L278.5 232.7 L279 232.73 L279.5 232.82 L280 232.9 L280.5 232.9 L281 232.9 L281.5 232.9 L282 232.9 L282.5 232.9 L283 232.9 L283.5 232.9 L284 232.9 L284.5 232.73 L285 232.52 L285.5 232.41 L286 232.26 L286.5 231.96 L287 231.76 L287.5 231.72 L288 231.78 L288.5 231.65 L289 231.55 L289.5 231.42 L290 231.33 L290.5 231.26 L291 231.06 L291.5 231.15 L292 230.95 L292.5 230.66 L293 230.65 L293.5 230.65 L294 230.57 L294.5 230.51 L295 230.56 L295.5 230.51 L296 230.69 L296.5 230.88 L297 231 L297.5 231.16 L298 231.11 L298.5 231.33 L299 231.66 L299.5 231.87 L300 231.88 L300.5 231.93 L301 232.12 L301.5 232.13 L302 232.17 L302.5 232.35 L303 232.4 L303.5 232.54 L304 232.7 L304.5 232.78 L305 232.9 L305.5 232.9 L306 232.9 L306.5 232.9 L307 232.59 L307.5 232.84 L308 232.9 L308.5 232.9 L309 232.9 L309.5 232.9 L310 232.9 L310.5 232.9 L311 232.9 L311.5 232.9 L312 232.9 L312.5 232.9 L313 232.9 L313.5 232.9 L314 232.9 L314.5 232.9 L315 232.9 L315.5 232.9 L316 232.9 L316.5 232.9 L317 232.9 L317.5 232.9 L318 232.9 L318.5 232.9 L319 232.9 L319.5 232.9 L320 232.9 L320.5 232.9 L321 232.9 L321.5 232.9 L322 232.9 L322.5 232.9 L323 232.9 L323.5 232.9 L324 232.9 L324.5 232.9 L325 232.9 L325.5 232.9 L326 232.9 L326.5 232.9 L327 232.9 L327.5 232.9 L328 232.9 L328.5 232.9 L329 232.9 L329.5 232.9 L330 232.76 L330.5 232.39 L331 232.77 L331.5 232.9 L332 232.9 L332.5 232.9 L333 232.9 L333.5 232.9 L334 232.9 L334.5 232.9 L335 232.9 L335.5 232.73 L336 232.63 L336.5 232.44 L337 232.19 L337.5 231.98 L338 231.84 L338.5 231.97 L339 231.94 L339.5 232.01 L340 232.08 L340.5 232.12 L341 232.16 L341.5 232.25 L342 232.36 L342.5 232.36 L343 232.39 L343.5 232.32 L344 232.12 L344.5 232.06 L345 232.12 L345.5 231.99 L346 231.78 L346.5 231.73 L347 231.76 L347.5 231.6 L348 231.64 L348.5 231.63 L349 231.54 L349.5 231.48 L350 231.45 L350.5 231.48 L351 231.53 L351.5 231.68 L352 231.69 L352.5 231.67 L353 231.78 L353.5 231.99 L354 232.31 L354.5 232.46 L355 232.59 L355.5 232.73 L356 232.9 L356.5 232.84 L357 232.78 L357.5 232.71 L358 232.59 L358.5 232.48 L359 232.54 L359.5 232.47 L360 232.38 L360.5 232.34 L361 232.4 L361.5 232.43 L362 232.5 L362.5 232.51 L363 232.41 L363.5 232.37 L364 232.43 L364.5 232.38 L365 232.33 L365.5 232.5 L366 232.64 L366.5 232.7 L367 232.8 L367.5 232.9 L368 233 L368.5 233.1 L369 233.2 L369.5 233.3 L370 233.9 L370.5 233.9 L371 233.23 L371.5 233.15 L372 233.07 L372.5 232.98 L373 232.9 L373.5 232.9 L374 232.9 L374.5 232.9 L375 232.9 L375.5 232.9 L376 232.9 L376.5 232.9 L377 232.9 L377.5 232.9 L378 232.9 L378.5 232.9 L379 232.9 L379.5 232.9 L380 232.9 L380.5 233.15 L381 233.9 L381.5 233.9 L382 233.9 L382.5 233.9 L383 233.9 L383.5 233.9 L384 233.9 L384.5 233.9 L385 232.92 L385.5 232.38 L386 232.38 L386.5 232.92 L387 233.9 L387.5 233.9 L388 233.9 L388.5 233.9 L389 233.9 L389.5 233.9 L390 233.9 L390.5 233.9 L391 233.9 L391.5 233.9 L392 233.9 L392.5 233.9 L393 233.9 L393.5 233.9 L394 233.9 L394.5 233.9 L395 233.9 L395.5 233.9 L396 233.9 L396.5 233.9 L397 233.9 L397.5 233.9 L398 233.9 L398.5 233.9 L399 233.9 L399.5 233.9 L400 233.9 L400.5 233.9 L401 233.9 L401.5 233.9 L402 233.9 L402.5 233.9 L403 233.9 L403.5 233.9 L404 233.9 L404.5 233.9 L405 233.9 L405.5 233.9 L406 233.9 L406.5 233.9 L407 233.9 L407.5 233.9 L408 233.9 L408.5 233.9 L409 233.9 L409.5 233.9 L410 233.9 L410.5 233.9 L411 233.9 L411.5 233.9 L412 233.16 L412.5 232.88 L413 232.72 L413.5 233.01 L414 233.29 L414.5 233.9 L415 233.9 L415.5 233.9 L416 233.9 L416.5 233.9 L417 233.9 L417.5 233.9 L418 233.9 L418.5 233.9 L419 233.9 L419.5 233.12 L420 232.63 L420.5 233.23 L421 233.9 L421.5 233.9 L422 233.9 L422.5 233.9 L423 233.9 L423.5 233.9 L424 233.9 L424.5 233.9 L425 233.9 L425.5 233.9 L426 233.9 L426.5 233.9 L427 233.9 L427.5 233.9 L428 233.9 L428.5 233.9 L429 233.9 L429.5 233.9 L430 233.9 L430.5 233.9 L431 233.9 L431.5 233.9 L432 233.9 L432.5 233.9 L433 233.9 L433.5 233.9 L434 233.9 L434.5 233.9 L435 233.9 L435.5 233.9 L436 233.9 L436.5 233.9 L437 233.9 L437.5 233.9 L438 233.9 L438.5 233.9 L439 233.9 L439.5 233.9 L440 233.9 L440.5 233.9 L441 233.9 L441.5 233.9 L442 233.9 L442.5 233.9 L443 233.9 L443.5 233.9 L444 233.9 L444.5 233.9 L445 233.9 L445.5 233.9 L446 233.9 L446.5 233.9 L447 233.9 L447.5 233.9 L448 233.9 L448.5 233.9 L449 233.9 L449.5 233.9 L450 233.9 L450.5 233.9 L451 233.17 L451.5 232.99 L452 232.98 L452.5 233.3 L453 233.9 L453.5 233.9 L454 233.9 L454.5 233.9 L455 233.9 L455.5 233.9 L456 233.9 L456.5 233.9 L457 233.9 L457.5 233.9 L458 233.9 L458.5 233.9 L459 233.9 L459.5 233.9 L460 233.9 L460.5 233.9 L461 233.9 L461.5 233.9 L462 233.9 L462.5 233.9 L463 233.9 L463.5 233.9 L464 233.11 L464.5 233.2 L465 233.11 L465.5 233.9 L466 233.9 L466.5 233.9 L467 233.9 L467.5 233.03 L468 232.98 L468.5 233.23 L469 233.9 L469.5 233.9 L470 233.9 L470.5 233.9 L471 233.9 L471.5 233.9 L472 233.9 L472.5 233.9 L473 233.9 L473.5 233.9 L474 233.9 L474.5 233.9 L475 233.9 L475.5 233.9 L476 233.9 L476.5 233.9 L477 233.9 L477.5 233.9 L478 233.9 L478.5 233.9 L479 233.9 L479.5 233.9 L480 233.9 L480.5 233.9 L481 233.9 L481.5 233.9 L482 233.9 L482.5 232.6 L483 232.76 L483.5 233.9 L484 233.9 L484.5 233.9 L485 233.9 L485.5 233.9 L486 233.9 L486.5 233.9 L487 233.9 L487.5 233.9 L488 233.9 L488.5 233.9 L489 233.9 L489.5 233.9 L490 233.21 L490.5 232.92 L491 233.26 L491.5 233.9 L492 233.9 L492.5 233.9 L493 233.9 L493.5 233.9 L494 233.9 L494.5 232.9 L495 233.9 L495.5 233.9 L496 233.9 L496.5 233.9 L497 233.9 L497.5 233.9 L498 233.9 L498.5 233.16 L499 232.89 L499.5 232.81 L500 232.86 L500.5 232.77 L501 233.07 L501.5 233.9 L502 233.9 L502.5 233.9 L503 233.9 L503.5 233.9 L504 233.9 L504.5 233.9 L505 233.9 L505.5 233.9 L506 233.9 L506.5 233.05 L507 232.74 L507.5 232.77 L508 232.44 L508.5 232.89 L509 232.85 L509.5 232.54 L510 232.9 L510.5 233.9 L511 233.9 L511.5 233.9 L512 233.9 L512.5 233.9 L512.5 233.9 Z" fill="#3b2c86"/>
<line x1="99" y1="246.8" x2="512.5" y2="246.8" stroke="#9c97cc" stroke-width="0.8" />
<path d="M99 247.2 L99 244.23 L99.5 244.9 L100 245.7 L100.5 245.82 L101 245.8 L101.5 245.83 L102 245.89 L102.5 246.01 L103 246.07 L103.5 246.14 L104 245.95 L104.5 245.7 L105 246.2 L105.5 246.2 L106 246.2 L106.5 246.2 L107 246.2 L107.5 246.2 L108 246.2 L108.5 246.2 L109 246.2 L109.5 246.2 L110 246.2 L110.5 246.2 L111 246.2 L111.5 246.2 L112 246.2 L112.5 246.2 L113 246.2 L113.5 246.2 L114 246.2 L114.5 246.2 L115 246.2 L115.5 246.01 L116 245.58 L116.5 246 L117 245.92 L117.5 245.83 L118 245.78 L118.5 245.67 L119 245.75 L119.5 245.87 L120 245.96 L120.5 246.03 L121 246.2 L121.5 246.12 L122 246.03 L122.5 245.92 L123 245.84 L123.5 245.83 L124 245.79 L124.5 245.63 L125 245.47 L125.5 245.51 L126 245.4 L126.5 245.4 L127 245.33 L127.5 244.16 L128 243.12 L128.5 241.81 L129 240.18 L129.5 238.31 L130 238.32 L130.5 238.08 L131 237.92 L131.5 237.97 L132 238.07 L132.5 237.74 L133 237.66 L133.5 238.88 L134 241.38 L134.5 243.36 L135 244.1 L135.5 245 L136 245.12 L136.5 244.04 L137 243.25 L137.5 242.62 L138 241.54 L138.5 240.63 L139 240.76 L139.5 241.66 L140 242.17 L140.5 243.19 L141 244.41 L141.5 244.53 L142 244.5 L142.5 244.5 L143 244.62 L143.5 244.73 L144 244.62 L144.5 244.7 L145 244.61 L145.5 244.48 L146 244.13 L146.5 243.82 L147 243.79 L147.5 243.6 L148 243.2 L148.5 243.2 L149 243.92 L149.5 244.67 L150 245.14 L150.5 245.45 L151 245.74 L151.5 245.72 L152 245.78 L152.5 245.8 L153 245.88 L153.5 246.04 L154 246.03 L154.5 246.09 L155 246.14 L155.5 246.12 L156 246.06 L156.5 246.31 L157 246.37 L157.5 246.42 L158 246.48 L158.5 246.53 L159 246.59 L159.5 247.2 L160 247.2 L160.5 247.2 L161 247.2 L161.5 247.2 L162 247.2 L162.5 246.4 L163 246.41 L163.5 247.2 L164 247.2 L164.5 247.2 L165 247.2 L165.5 247.2 L166 246.2 L166.5 245.8 L167 245.28 L167.5 245.69 L168 245.75 L168.5 245.98 L169 246.31 L169.5 247.2 L170 246.23 L170.5 245.84 L171 245.94 L171.5 245.86 L172 245.71 L172.5 246.26 L173 247.2 L173.5 247.2 L174 247.2 L174.5 247.2 L175 247.2 L175.5 247.2 L176 247.2 L176.5 247.2 L177 247.2 L177.5 247.2 L178 247.2 L178.5 247.2 L179 247.2 L179.5 247.2 L180 247.2 L180.5 247.2 L181 247.2 L181.5 247.2 L182 247.2 L182.5 247.2 L183 247.2 L183.5 247.2 L184 247.2 L184.5 247.2 L185 247.2 L185.5 247.2 L186 247.2 L186.5 247.2 L187 247.2 L187.5 247.2 L188 247.2 L188.5 247.2 L189 247.2 L189.5 247.2 L190 247.2 L190.5 247.2 L191 246.49 L191.5 245.85 L192 245.94 L192.5 247.2 L193 247.2 L193.5 247.2 L194 247.2 L194.5 247.2 L195 247.2 L195.5 247.2 L196 247.2 L196.5 247.2 L197 247.2 L197.5 246.34 L198 246.17 L198.5 246.5 L199 247.2 L199.5 247.2 L200 246.34 L200.5 246.2 L201 245.91 L201.5 245.53 L202 245.23 L202.5 245.54 L203 245.93 L203.5 246.2 L204 246.53 L204.5 247.2 L205 246.45 L205.5 246.07 L206 245.76 L206.5 246.07 L207 246.45 L207.5 247.2 L208 247.2 L208.5 247.2 L209 247.2 L209.5 247.2 L210 247.2 L210.5 247.2 L211 247.2 L211.5 247.2 L212 247.2 L212.5 246.45 L213 246.2 L213.5 246.45 L214 246.44 L214.5 246.07 L215 246.28 L215.5 247.2 L216 247.2 L216.5 247.2 L217 247.2 L217.5 247.2 L218 247.2 L218.5 247.2 L219 247.2 L219.5 247.2 L220 247.2 L220.5 247.2 L221 247.2 L221.5 247.2 L222 247.2 L222.5 247.2 L223 247.2 L223.5 247.2 L224 247.2 L224.5 247.2 L225 247.2 L225.5 247.2 L226 247.2 L226.5 247.2 L227 247.2 L227.5 247.2 L228 247.2 L228.5 246.53 L229 245.64 L229.5 244.88 L230 245.41 L230.5 246.2 L231 245.76 L231.5 246.05 L232 247.2 L232.5 247.2 L233 247.2 L233.5 247.2 L234 247.2 L234.5 247.2 L235 246.2 L235.5 247.2 L236 247.2 L236.5 247.2 L237 247.2 L237.5 247.2 L238 247.2 L238.5 247.2 L239 247.2 L239.5 247.2 L240 247.2 L240.5 247.2 L241 247.2 L241.5 247.2 L242 247.2 L242.5 247.2 L243 247.2 L243.5 247.2 L244 247.2 L244.5 247.2 L245 247.2 L245.5 247.2 L246 246.45 L246.5 246.26 L247 246.07 L247.5 245.91 L248 245.65 L248.5 245.94 L249 246.07 L249.5 246.26 L250 246.45 L250.5 247.2 L251 247.2 L251.5 247.2 L252 247.2 L252.5 247.2 L253 247.2 L253.5 247.2 L254 247.2 L254.5 247.2 L255 247.2 L255.5 247.2 L256 247.2 L256.5 247.2 L257 247.2 L257.5 247.2 L258 247.2 L258.5 247.2 L259 246.46 L259.5 246.17 L260 246.04 L260.5 246.32 L261 247.2 L261.5 247.2 L262 247.2 L262.5 246.28 L263 245.85 L263.5 246.29 L264 247.2 L264.5 247.2 L265 247.2 L265.5 246.37 L266 245.6 L266.5 244.69 L267 245.57 L267.5 246.37 L268 247.2 L268.5 247.2 L269 247.2 L269.5 247.2 L270 247.2 L270.5 247.2 L271 247.2 L271.5 247.2 L272 247.2 L272.5 247.2 L273 247.2 L273.5 247.2 L274 247.2 L274.5 247.2 L275 247.2 L275.5 247.2 L276 247.2 L276.5 247.2 L277 247.2 L277.5 246.45 L278 246.2 L278.5 246.45 L279 247.2 L279.5 247.2 L280 247.2 L280.5 247.2 L281 247.2 L281.5 247.2 L282 247.2 L282.5 247.2 L283 246.29 L283.5 246.28 L284 246.35 L284.5 246.58 L285 246.41 L285.5 246.16 L286 246.43 L286.5 247.2 L287 247.2 L287.5 247.2 L288 247.2 L288.5 246.45 L289 246.2 L289.5 245.88 L290 245.63 L290.5 245.24 L291 244.91 L291.5 244.63 L292 244.03 L292.5 242.93 L293 241.85 L293.5 240.9 L294 240.53 L294.5 241.64 L295 242.37 L295.5 242.87 L296 243.36 L296.5 244.18 L297 244.89 L297.5 244.87 L298 244.87 L298.5 244.77 L299 244.78 L299.5 244.79 L300 244.74 L300.5 245.04 L301 245.45 L301.5 245.87 L302 246.2 L302.5 246.12 L303 246.03 L303.5 245.88 L304 245.82 L304.5 245.78 L305 245.71 L305.5 245.79 L306 245.79 L306.5 245.78 L307 245.74 L307.5 245.74 L308 245.78 L308.5 245.78 L309 245.75 L309.5 245.75 L310 245.67 L310.5 245.73 L311 245.67 L311.5 245.65 L312 245.63 L312.5 245.7 L313 245.69 L313.5 245.76 L314 245.73 L314.5 245.8 L315 245.79 L315.5 245.67 L316 245.7 L316.5 245.68 L317 245.67 L317.5 245.69 L318 245.77 L318.5 245.74 L319 245.72 L319.5 245.72 L320 245.66 L320.5 245.6 L321 245.6 L321.5 245.63 L322 245.71 L322.5 245.64 L323 245.72 L323.5 245.76 L324 245.75 L324.5 245.69 L325 245.76 L325.5 245.68 L326 245.5 L326.5 245.44 L327 245.34 L327.5 245.26 L328 245.25 L328.5 245.25 L329 245.34 L329.5 245.57 L330 245.73 L330.5 245.63 L331 245.55 L331.5 245.54 L332 245.57 L332.5 245.53 L333 245.37 L333.5 245.36 L334 245.3 L334.5 245.21 L335 245.19 L335.5 245.14 L336 245.24 L336.5 245.02 L337 244.75 L337.5 244.45 L338 244.31 L338.5 244.57 L339 244.82 L339.5 245.02 L340 245.17 L340.5 245.22 L341 245.16 L341.5 245.21 L342 245.26 L342.5 245.13 L343 245.14 L343.5 245.24 L344 245.12 L344.5 245.19 L345 245.2 L345.5 245.14 L346 245.21 L346.5 245.13 L347 244.95 L347.5 244.8 L348 244.78 L348.5 244.81 L349 244.74 L349.5 244.93 L350 245.05 L350.5 245.04 L351 245.19 L351.5 245.19 L352 245.22 L352.5 245.28 L353 245.38 L353.5 245.35 L354 245.44 L354.5 245.66 L355 245.7 L355.5 245.79 L356 245.95 L356.5 246 L357 246.03 L357.5 246.12 L358 245.96 L358.5 245.79 L359 246.07 L359.5 246.01 L360 246.02 L360.5 245.95 L361 245.78 L361.5 245.74 L362 245.75 L362.5 245.83 L363 245.93 L363.5 246.07 L364 246.2 L364.5 246.08 L365 245.94 L365.5 246.22 L366 246.37 L366.5 246.41 L367 246.45 L367.5 246.49 L368 246.53 L368.5 246.57 L369 247.2 L369.5 247.2 L370 247.2 L370.5 247.2 L371 247.2 L371.5 247.2 L372 247.2 L372.5 247.2 L373 247.2 L373.5 246.54 L374 246.45 L374.5 246.2 L375 245.61 L375.5 245.11 L376 244.63 L376.5 245.11 L377 245.62 L377.5 246.2 L378 246.37 L378.5 246.6 L379 247.2 L379.5 246.38 L380 245.86 L380.5 245.97 L381 246.43 L381.5 247.2 L382 247.2 L382.5 246.2 L383 245.79 L383.5 246.2 L384 247.2 L384.5 246.03 L385 246.17 L385.5 247.2 L386 247.2 L386.5 247.2 L387 247.2 L387.5 246.19 L388 246.02 L388.5 246.52 L389 247.2 L389.5 247.2 L390 247.2 L390.5 247.2 L391 247.2 L391.5 247.2 L392 247.2 L392.5 247.2 L393 247.2 L393.5 247.2 L394 247.2 L394.5 247.2 L395 247.2 L395.5 246.2 L396 245.71 L396.5 246.2 L397 247.2 L397.5 247.2 L398 246.38 L398.5 246.08 L399 246.25 L399.5 246.55 L400 247.2 L400.5 247.2 L401 247.2 L401.5 247.2 L402 246.2 L402.5 247.2 L403 247.2 L403.5 247.2 L404 247.2 L404.5 247.2 L405 247.2 L405.5 247.2 L406 246.48 L406.5 246.06 L407 245.82 L407.5 246.14 L408 246.56 L408.5 247.2 L409 247.2 L409.5 247.2 L410 247.2 L410.5 247.2 L411 247.2 L411.5 247.2 L412 247.2 L412.5 247.2 L413 247.2 L413.5 247.2 L414 247.2 L414.5 247.2 L415 247.2 L415.5 247.2 L416 246.32 L416.5 246.01 L417 246.1 L417.5 246.43 L418 247.2 L418.5 247.2 L419 247.2 L419.5 247.2 L420 247.2 L420.5 247.2 L421 246.5 L421.5 245.87 L422 246.02 L422.5 246.1 L423 246.33 L423.5 247.2 L424 247.2 L424.5 247.2 L425 247.2 L425.5 247.2 L426 247.2 L426.5 247.2 L427 247.2 L427.5 247.2 L428 247.2 L428.5 247.2 L429 247.2 L429.5 247.2 L430 247.2 L430.5 247.2 L431 247.2 L431.5 247.2 L432 247.2 L432.5 247.2 L433 247.2 L433.5 247.2 L434 247.2 L434.5 246.21 L435 245.92 L435.5 247.2 L436 247.2 L436.5 247.2 L437 247.2 L437.5 247.2 L438 247.2 L438.5 247.2 L439 247.2 L439.5 247.2 L440 247.2 L440.5 247.2 L441 247.2 L441.5 247.2 L442 247.2 L442.5 247.2 L443 247.2 L443.5 247.2 L444 247.2 L444.5 247.2 L445 247.2 L445.5 246.54 L446 246.33 L446.5 246.47 L447 247.2 L447.5 247.2 L448 247.2 L448.5 247.2 L449 247.2 L449.5 247.2 L450 247.2 L450.5 246.51 L451 246.19 L451.5 246.08 L452 246.4 L452.5 246.38 L453 246.51 L453.5 247.2 L454 247.2 L454.5 247.2 L455 247.2 L455.5 247.2 L456 247.2 L456.5 247.2 L457 247.2 L457.5 247.2 L458 247.2 L458.5 247.2 L459 247.2 L459.5 247.2 L460 247.2 L460.5 247.2 L461 247.2 L461.5 247.2 L462 246.2 L462.5 247.2 L463 247.2 L463.5 247.2 L464 247.2 L464.5 247.2 L465 247.2 L465.5 247.2 L466 247.2 L466.5 247.2 L467 247.2 L467.5 247.2 L468 247.2 L468.5 247.2 L469 247.2 L469.5 246.45 L470 246.2 L470.5 246.45 L471 247.2 L471.5 247.2 L472 247.2 L472.5 247.2 L473 247.2 L473.5 247.2 L474 246.37 L474.5 247.2 L475 247.2 L475.5 247.2 L476 246.53 L476.5 246.16 L477 245.76 L477.5 246.14 L478 246.51 L478.5 247.2 L479 247.2 L479.5 247.2 L480 247.2 L480.5 247.2 L481 247.2 L481.5 247.2 L482 247.2 L482.5 247.2 L483 247.2 L483.5 246.16 L484 247.2 L484.5 246.2 L485 245.77 L485.5 246.2 L486 247.2 L486.5 247.2 L487 247.2 L487.5 247.2 L488 247.2 L488.5 247.2 L489 247.2 L489.5 247.2 L490 247.2 L490.5 247.2 L491 247.2 L491.5 247.2 L492 246.03 L492.5 245.94 L493 247.2 L493.5 247.2 L494 247.2 L494.5 246.45 L495 246.2 L495.5 245.94 L496 245.72 L496.5 245.54 L497 245.45 L497.5 245.45 L498 245.45 L498.5 245.4 L499 245.23 L499.5 245.15 L500 245.18 L500.5 245.43 L501 245.56 L501.5 245.62 L502 245.73 L502.5 245.91 L503 246.04 L503.5 246.07 L504 246.2 L504.5 246.07 L505 245.91 L505.5 245.76 L506 245.62 L506.5 245.52 L507 245.42 L507.5 245.39 L508 245.11 L508.5 245 L509 245.03 L509.5 244.99 L510 244.75 L510.5 244.66 L511 244.62 L511.5 244.47 L512 244.1 L512.5 247.2 L512.5 247.2 Z" fill="#3b2c86"/>
<line x1="99" y1="260" x2="512.5" y2="260" stroke="#9c97cc" stroke-width="0.8" />
<path d="M99 260.4 L99 260.4 L99.5 260.4 L100 260.4 L100.5 260.4 L101 260.4 L101.5 259.79 L102 259.76 L102.5 259.74 L103 259.72 L103.5 259.7 L104 259.67 L104.5 259.65 L105 259.63 L105.5 259.6 L106 259.58 L106.5 259.56 L107 259.54 L107.5 259.51 L108 259.49 L108.5 259.47 L109 259.45 L109.5 259.42 L110 259.4 L110.5 259.32 L111 259.23 L111.5 259.17 L112 259.11 L112.5 259.01 L113 258.84 L113.5 258.95 L114 259.07 L114.5 259.17 L115 259.23 L115.5 259.32 L116 259.4 L116.5 259.4 L117 259.39 L117.5 258.9 L118 259.25 L118.5 259.4 L119 259.4 L119.5 259.4 L120 259.4 L120.5 259.4 L121 259.4 L121.5 259.4 L122 259.26 L122.5 259.27 L123 259.08 L123.5 258.99 L124 258.88 L124.5 258.44 L125 258.16 L125.5 257.87 L126 257.47 L126.5 257 L127 256.32 L127.5 256.02 L128 255.47 L128.5 255.02 L129 254.25 L129.5 253.25 L130 253.85 L130.5 253.9 L131 254.32 L131.5 253.71 L132 252.42 L132.5 251.9 L133 252.15 L133.5 253.25 L134 254.89 L134.5 255.19 L135 255.3 L135.5 255.28 L136 254.34 L136.5 253.75 L137 253.39 L137.5 252.9 L138 252.89 L138.5 252.98 L139 252.91 L139.5 253.19 L140 253.73 L140.5 254.56 L141 255.25 L141.5 257.25 L142 258.91 L142.5 258.94 L143 258.99 L143.5 259.13 L144 259.15 L144.5 259.1 L145 259.2 L145.5 259.17 L146 259.12 L146.5 258.96 L147 258.8 L147.5 258.91 L148 258.98 L148.5 259.13 L149 259.23 L149.5 259.32 L150 259.4 L150.5 259.2 L151 258.91 L151.5 258.76 L152 258.67 L152.5 258.42 L153 258.68 L153.5 259.04 L154 259.4 L154.5 259.4 L155 259.28 L155.5 259.35 L156 259.4 L156.5 259.4 L157 259.4 L157.5 259.4 L158 259.4 L158.5 259.4 L159 259.4 L159.5 259.4 L160 259.34 L160.5 258.77 L161 259.22 L161.5 259.4 L162 259.4 L162.5 259.4 L163 259.4 L163.5 259.4 L164 259.4 L164.5 259.4 L165 259.4 L165.5 259.45 L166 259.5 L166.5 259.55 L167 259.53 L167.5 259.65 L168 259.7 L168.5 259.75 L169 259.8 L169.5 260.4 L170 260.4 L170.5 260.4 L171 259.58 L171.5 259.61 L172 260.4 L172.5 260.4 L173 260.4 L173.5 260.4 L174 260.4 L174.5 260.4 L175 260.4 L175.5 260.4 L176 260.4 L176.5 260.4 L177 260.4 L177.5 260.4 L178 260.4 L178.5 260.4 L179 260.4 L179.5 260.4 L180 260.4 L180.5 260.4 L181 260.4 L181.5 259.76 L182 259.4 L182.5 259.26 L183 259.63 L183.5 260.4 L184 260.4 L184.5 260.4 L185 260.4 L185.5 260.4 L186 260.4 L186.5 260.4 L187 260.4 L187.5 259.73 L188 259.4 L188.5 259.73 L189 260.4 L189.5 260.4 L190 260.4 L190.5 260.4 L191 260.4 L191.5 260.4 L192 260.4 L192.5 260.4 L193 260.4 L193.5 260.4 L194 260.4 L194.5 260.4 L195 259.54 L195.5 259.22 L196 259.53 L196.5 260.4 L197 259.57 L197.5 258.7 L198 257.88 L198.5 258.65 L199 259.57 L199.5 260.4 L200 260.4 L200.5 260.4 L201 259.61 L201.5 259.22 L202 259.71 L202.5 260.4 L203 260.4 L203.5 260.4 L204 260.4 L204.5 260.4 L205 260.4 L205.5 260.4 L206 260.4 L206.5 260.4 L207 260.4 L207.5 260.4 L208 260.4 L208.5 260.4 L209 260.4 L209.5 259.54 L210 259.71 L210.5 260.4 L211 260.4 L211.5 260.4 L212 260.4 L212.5 260.4 L213 260.4 L213.5 260.4 L214 260.4 L214.5 260.4 L215 260.4 L215.5 260.4 L216 260.4 L216.5 260.4 L217 260.4 L217.5 260.4 L218 260.4 L218.5 260.4 L219 260.4 L219.5 260.4 L220 260.4 L220.5 260.4 L221 260.4 L221.5 260.4 L222 260.4 L222.5 260.4 L223 260.4 L223.5 260.4 L224 260.4 L224.5 260.4 L225 260.4 L225.5 260.4 L226 260.4 L226.5 260.4 L227 260.4 L227.5 260.4 L228 260.4 L228.5 260.4 L229 260.4 L229.5 259.64 L230 259.52 L230.5 259.21 L231 259.37 L231.5 259.68 L232 260.4 L232.5 260.4 L233 260.4 L233.5 260.4 L234 260.4 L234.5 260.4 L235 260.4 L235.5 260.4 L236 260.4 L236.5 260.4 L237 260.4 L237.5 260.4 L238 260.4 L238.5 260.4 L239 260.4 L239.5 260.4 L240 260.4 L240.5 260.4 L241 260.4 L241.5 260.4 L242 260.4 L242.5 260.4 L243 260.4 L243.5 260.4 L244 260.4 L244.5 260.4 L245 260.4 L245.5 260.4 L246 260.4 L246.5 260.4 L247 260.4 L247.5 260.4 L248 260.4 L248.5 260.4 L249 260.4 L249.5 260.4 L250 260.4 L250.5 259.8 L251 259.7 L251.5 259.6 L252 259.5 L252.5 259.4 L253 259.3 L253.5 259.2 L254 259.07 L254.5 258.99 L255 258.89 L255.5 258.93 L256 258.91 L256.5 258.75 L257 258.64 L257.5 258.65 L258 258.57 L258.5 258.59 L259 258.54 L259.5 258.45 L260 258.38 L260.5 258.48 L261 258.54 L261.5 258.48 L262 258.55 L262.5 258.67 L263 258.6 L263.5 258.64 L264 258.81 L264.5 258.83 L265 258.9 L265.5 258.89 L266 258.84 L266.5 258.95 L267 258.99 L267.5 258.99 L268 258.95 L268.5 258.85 L269 258.93 L269.5 258.89 L270 258.85 L270.5 258.86 L271 258.94 L271.5 259.01 L272 259.02 L272.5 259.09 L273 259.2 L273.5 259.25 L274 259.3 L274.5 259.35 L275 259.4 L275.5 259.4 L276 259.4 L276.5 259.4 L277 259.4 L277.5 259.4 L278 259.4 L278.5 259.4 L279 259.4 L279.5 259.4 L280 259.4 L280.5 259.4 L281 259.4 L281.5 259.4 L282 259.4 L282.5 259.23 L283 259.15 L283.5 258.99 L284 258.79 L284.5 258.61 L285 258.39 L285.5 258.31 L286 258.07 L286.5 257.64 L287 257.36 L287.5 257.16 L288 256.94 L288.5 256.81 L289 257.09 L289.5 257.45 L290 257.77 L290.5 257.75 L291 257.76 L291.5 257.75 L292 257.74 L292.5 257.72 L293 257.75 L293.5 257.93 L294 258.02 L294.5 258.28 L295 258.52 L295.5 258.44 L296 258.34 L296.5 258.44 L297 258.48 L297.5 258.51 L298 258.49 L298.5 258.43 L299 258.44 L299.5 258.46 L300 258.41 L300.5 258.33 L301 258.31 L301.5 258.27 L302 258 L302.5 257.92 L303 257.99 L303.5 257.92 L304 257.72 L304.5 257.44 L305 257.47 L305.5 257.73 L306 257.96 L306.5 258.26 L307 258.52 L307.5 258.44 L308 258.38 L308.5 258.34 L309 258.41 L309.5 258.45 L310 258.39 L310.5 258.32 L311 258.33 L311.5 258.44 L312 258.37 L312.5 258.45 L313 258.44 L313.5 258.47 L314 258.41 L314.5 258.46 L315 258.57 L315.5 258.5 L316 258.34 L316.5 258.18 L317 258.12 L317.5 257.86 L318 257.74 L318.5 257.69 L319 257.7 L319.5 257.34 L320 257.15 L320.5 257.16 L321 257.06 L321.5 257.11 L322 257.17 L322.5 257.08 L323 256.79 L323.5 256.64 L324 256.46 L324.5 256.48 L325 256.46 L325.5 255.93 L326 255.66 L326.5 255.53 L327 255.55 L327.5 255.26 L328 254.44 L328.5 254.08 L329 254.5 L329.5 254.93 L330 255.29 L330.5 255.64 L331 255.7 L331.5 256.02 L332 256.61 L332.5 257.11 L333 257.61 L333.5 256.91 L334 256.06 L334.5 255.29 L335 254.4 L335.5 253.16 L336 252.03 L336.5 252.13 L337 252.31 L337.5 252.63 L338 253.31 L338.5 253.81 L339 254.7 L339.5 255.15 L340 255.18 L340.5 255.68 L341 256.43 L341.5 256.56 L342 256.66 L342.5 256.6 L343 256.8 L343.5 257.03 L344 257.12 L344.5 257.29 L345 257.35 L345.5 257.31 L346 257.58 L346.5 257.57 L347 257.23 L347.5 257.44 L348 257.74 L348.5 257.98 L349 258.29 L349.5 258.49 L350 258.46 L350.5 258.55 L351 258.74 L351.5 258.74 L352 258.87 L352.5 258.9 L353 258.87 L353.5 258.87 L354 258.98 L354.5 258.98 L355 258.91 L355.5 258.89 L356 258.88 L356.5 258.9 L357 258.8 L357.5 258.81 L358 258.93 L358.5 258.92 L359 258.8 L359.5 258.77 L360 258.8 L360.5 258.88 L361 258.91 L361.5 258.96 L362 258.85 L362.5 258.83 L363 258.87 L363.5 258.88 L364 258.99 L364.5 258.99 L365 258.87 L365.5 258.95 L366 259.07 L366.5 259.17 L367 259.23 L367.5 259.32 L368 259.4 L368.5 259.52 L369 259.65 L369.5 259.77 L370 260.4 L370.5 260.4 L371 260.4 L371.5 260.4 L372 259.64 L372.5 259.44 L373 260.4 L373.5 260.4 L374 260.4 L374.5 260.4 L375 260.4 L375.5 260.4 L376 260.4 L376.5 260.4 L377 260.4 L377.5 260.4 L378 260.4 L378.5 260.4 L379 260.4 L379.5 260.4 L380 260.4 L380.5 260.4 L381 260.4 L381.5 260.4 L382 260.4 L382.5 260.4 L383 260.4 L383.5 260.4 L384 260.4 L384.5 260.4 L385 260.4 L385.5 260.4 L386 260.4 L386.5 260.4 L387 260.4 L387.5 260.4 L388 260.4 L388.5 260.4 L389 260.4 L389.5 260.4 L390 260.4 L390.5 260.4 L391 260.4 L391.5 259.26 L392 259.31 L392.5 260.4 L393 260.4 L393.5 260.4 L394 260.4 L394.5 260.4 L395 260.4 L395.5 260.4 L396 260.4 L396.5 260.4 L397 260.4 L397.5 260.4 L398 260.4 L398.5 260.4 L399 260.4 L399.5 260.4 L400 260.4 L400.5 260.4 L401 260.4 L401.5 260.4 L402 260.4 L402.5 260.4 L403 260.4 L403.5 260.4 L404 260.4 L404.5 260.4 L405 259.35 L405.5 259.78 L406 260.4 L406.5 260.4 L407 260.4 L407.5 260.4 L408 260.4 L408.5 260.4 L409 260.4 L409.5 260.4 L410 260.4 L410.5 260.4 L411 260.4 L411.5 260.4 L412 260.4 L412.5 260.4 L413 259.71 L413.5 259.41 L414 259.6 L414.5 260.4 L415 260.4 L415.5 260.4 L416 260.4 L416.5 260.4 L417 260.4 L417.5 260.4 L418 260.4 L418.5 260.4 L419 260.4 L419.5 259.69 L420 259.39 L420.5 259.2 L421 259.15 L421.5 259.6 L422 260.4 L422.5 260.4 L423 260.4 L423.5 260.4 L424 260.4 L424.5 260.4 L425 260.4 L425.5 260.4 L426 260.4 L426.5 260.4 L427 260.4 L427.5 260.4 L428 260.4 L428.5 260.4 L429 260.4 L429.5 260.4 L430 260.4 L430.5 259.65 L431 259.4 L431.5 259.4 L432 259.4 L432.5 259.4 L433 259.4 L433.5 259.4 L434 259.4 L434.5 259.4 L435 259.4 L435.5 259.4 L436 259.4 L436.5 259.4 L437 259.4 L437.5 259.4 L438 259.4 L438.5 259.4 L439 259.4 L439.5 259.4 L440 259.4 L440.5 259.4 L441 259.4 L441.5 259.4 L442 259.4 L442.5 259.4 L443 259.4 L443.5 259.4 L444 259.4 L444.5 259.4 L445 259.4 L445.5 259.36 L446 259.32 L446.5 259.28 L447 259.25 L447.5 259.21 L448 259.11 L448.5 259.11 L449 259.05 L449.5 259.01 L450 258.99 L450.5 258.94 L451 258.93 L451.5 258.89 L452 258.98 L452.5 259.06 L453 259.08 L453.5 259.17 L454 259.26 L454.5 259.33 L455 259.11 L455.5 259.13 L456 259.56 L456.5 259.65 L457 259.6 L457.5 259.17 L458 258.86 L458.5 259.08 L459 259.47 L459.5 260.4 L460 260.4 L460.5 260.4 L461 260.4 L461.5 260.4 L462 260.4 L462.5 260.4 L463 260.4 L463.5 260.4 L464 260.4 L464.5 260.4 L465 260.4 L465.5 260.4 L466 260.4 L466.5 260.4 L467 260.4 L467.5 260.4 L468 260.4 L468.5 260.4 L469 260.4 L469.5 260.4 L470 260.4 L470.5 260.4 L471 260.4 L471.5 260.4 L472 259.8 L472.5 259.48 L473 259.65 L473.5 260.4 L474 260.4 L474.5 260.4 L475 260.4 L475.5 260.4 L476 259.62 L476.5 259.58 L477 260.4 L477.5 260.4 L478 260.4 L478.5 260.4 L479 260.4 L479.5 260.4 L480 260.4 L480.5 260.4 L481 260.4 L481.5 260.4 L482 259.59 L482.5 259.13 L483 259.12 L483.5 259.49 L484 260.4 L484.5 259.73 L485 259.44 L485.5 259.36 L486 259.65 L486.5 260.4 L487 260.4 L487.5 260.4 L488 260.4 L488.5 260.4 L489 260.4 L489.5 260.4 L490 260.4 L490.5 260.4 L491 260.4 L491.5 260.4 L492 259.6 L492.5 259.03 L493 259.46 L493.5 260.4 L494 259.62 L494.5 259.74 L495 260.4 L495.5 260.4 L496 260.4 L496.5 260.4 L497 259.32 L497.5 259.05 L498 259.78 L498.5 260.4 L499 260.4 L499.5 260.4 L500 260.4 L500.5 260.4 L501 260.4 L501.5 260.4 L502 260.4 L502.5 260.4 L503 260.4 L503.5 259.19 L504 259.1 L504.5 260.4 L505 260.4 L505.5 260.4 L506 260.4 L506.5 260.4 L507 260.4 L507.5 260.4 L508 260.4 L508.5 259.57 L509 259.3 L509.5 259.22 L510 259.34 L510.5 259.65 L511 260.4 L511.5 260.4 L512 260.4 L512.5 260.4 L512.5 260.4 Z" fill="#3b2c86"/>
<text x="0" y="0" font-size="8.22" text-anchor="end" fill="#231f20" transform="translate(76.3 273.55) scale(0.8233 1)" >LT-HSC</text>
<text x="0" y="0" font-size="8.22" text-anchor="end" fill="#231f20" transform="translate(76.3 286.8) scale(0.9250 1)" >B-Cell</text>
<text x="0" y="0" font-size="8.22" text-anchor="end" fill="#231f20" transform="translate(76.3 300.3) scale(0.9250 1)" >CMP</text>
<text x="0" y="0" font-size="8.22" text-anchor="end" fill="#231f20" transform="translate(76.3 314.8) scale(0.9250 1)" >GMP</text>
<text x="0" y="0" font-size="8.22" text-anchor="end" fill="#231f20" transform="translate(76.3 327.3) scale(0.9250 1)" >Gr</text>
<line x1="79.5" y1="263.25" x2="79.5" y2="331.25" stroke="#231f20" stroke-width="1" />
<text x="0" y="0" font-size="8.22" text-anchor="start" fill="#231f20" transform="translate(83.2 268.55) scale(0.9250 1)" >123</text>
<text x="0" y="0" font-size="8.22" text-anchor="start" fill="#231f20" transform="translate(83.2 331.05) scale(0.9250 1)" >0</text>
<line x1="99" y1="273.8" x2="512.5" y2="273.8" stroke="#dcdcdc" stroke-width="0.8" />
<path d="M99 274.2 L99 274.2 L99.5 274.2 L100 274.2 L100.5 274.2 L101 274.2 L101.5 274.2 L102 274.2 L102.5 274.2 L103 274.2 L103.5 274.2 L104 274.2 L104.5 274.2 L105 274.2 L105.5 274.2 L106 274.2 L106.5 274.2 L107 274.2 L107.5 274.2 L108 274.2 L108.5 274.2 L109 274.2 L109.5 274.2 L110 274.2 L110.5 274.2 L111 274.2 L111.5 274.2 L112 274.2 L112.5 274.2 L113 274.2 L113.5 274.2 L114 274.2 L114.5 274.2 L115 274.2 L115.5 274.2 L116 274.2 L116.5 274.2 L117 274.2 L117.5 274.2 L118 274.2 L118.5 274.2 L119 274.2 L119.5 274.2 L120 274.2 L120.5 274.2 L121 274.2 L121.5 274.2 L122 274.2 L122.5 274.2 L123 274.2 L123.5 274.2 L124 274.2 L124.5 274.2 L125 271.12 L125.5 264.7 L126 264.27 L126.5 263.96 L127 263.88 L127.5 265.04 L128 266.34 L128.5 266.39 L129 266.33 L129.5 266.32 L130 266.18 L130.5 265.26 L131 263.81 L131.5 263.9 L132 264.25 L132.5 263.95 L133 264.03 L133.5 265.06 L134 269.23 L134.5 273.14 L135 273.04 L135.5 272.9 L136 272.71 L136.5 271.67 L137 270.76 L137.5 270.02 L138 269.26 L138.5 268.68 L139 268.34 L139.5 268.04 L140 267.86 L140.5 268.26 L141 268.55 L141.5 269.96 L142 271.28 L142.5 273.34 L143 274.2 L143.5 274.2 L144 274.2 L144.5 274.2 L145 274.2 L145.5 274.2 L146 274.2 L146.5 274.2 L147 274.2 L147.5 274.2 L148 274.2 L148.5 274.2 L149 274.2 L149.5 274.2 L150 274.2 L150.5 274.2 L151 274.2 L151.5 274.2 L152 274.2 L152.5 274.2 L153 274.2 L153.5 274.2 L154 274.2 L154.5 274.2 L155 274.2 L155.5 274.2 L156 274.2 L156.5 274.2 L157 274.2 L157.5 274.2 L158 274.2 L158.5 274.2 L159 274.2 L159.5 274.2 L160 274.2 L160.5 274.2 L161 274.2 L161.5 274.2 L162 274.2 L162.5 274.2 L163 274.2 L163.5 274.2 L164 274.2 L164.5 274.2 L165 274.2 L165.5 274.2 L166 274.2 L166.5 274.2 L167 274.2 L167.5 274.2 L168 274.2 L168.5 274.2 L169 274.2 L169.5 274.2 L170 274.2 L170.5 274.2 L171 274.2 L171.5 274.2 L172 274.2 L172.5 274.2 L173 274.2 L173.5 274.2 L174 274.2 L174.5 274.2 L175 274.2 L175.5 274.2 L176 274.2 L176.5 274.2 L177 274.2 L177.5 274.2 L178 274.2 L178.5 274.2 L179 274.2 L179.5 274.2 L180 274.2 L180.5 274.2 L181 274.2 L181.5 274.2 L182 274.2 L182.5 274.2 L183 274.2 L183.5 274.2 L184 274.2 L184.5 274.2 L185 274.2 L185.5 274.2 L186 274.2 L186.5 274.2 L187 274.2 L187.5 274.2 L188 274.2 L188.5 274.2 L189 274.2 L189.5 274.2 L190 274.2 L190.5 274.2 L191 274.2 L191.5 274.2 L192 274.2 L192.5 274.2 L193 274.2 L193.5 274.2 L194 274.2 L194.5 274.2 L195 274.2 L195.5 274.2 L196 274.2 L196.5 274.2 L197 274.2 L197.5 274.2 L198 274.2 L198.5 274.2 L199 274.2 L199.5 274.2 L200 274.2 L200.5 274.2 L201 274.2 L201.5 273.2 L202 273.2 L202.5 273.2 L203 273.2 L203.5 273.2 L204 273.2 L204.5 273.2 L205 273.2 L205.5 273.12 L206 273.03 L206.5 272.98 L207 272.91 L207.5 272.81 L208 272.75 L208.5 272.63 L209 272.46 L209.5 272.36 L210 272.2 L210.5 272.67 L211 273.2 L211.5 274.2 L212 274.2 L212.5 274.2 L213 274.2 L213.5 274.2 L214 274.2 L214.5 274.2 L215 274.2 L215.5 274.2 L216 274.2 L216.5 274.2 L217 274.2 L217.5 274.2 L218 274.2 L218.5 274.2 L219 274.2 L219.5 274.2 L220 274.2 L220.5 274.2 L221 274.2 L221.5 274.2 L222 274.2 L222.5 274.2 L223 274.2 L223.5 274.2 L224 274.2 L224.5 274.2 L225 274.2 L225.5 274.2 L226 274.2 L226.5 274.2 L227 274.2 L227.5 274.2 L228 274.2 L228.5 274.2 L229 274.2 L229.5 274.2 L230 274.2 L230.5 274.2 L231 274.2 L231.5 274.2 L232 274.2 L232.5 274.2 L233 274.2 L233.5 274.2 L234 273.53 L234.5 273.2 L235 273.53 L235.5 274.2 L236 274.2 L236.5 274.2 L237 274.2 L237.5 274.2 L238 274.2 L238.5 274.2 L239 274.2 L239.5 274.2 L240 274.2 L240.5 274.2 L241 274.2 L241.5 274.2 L242 274.2 L242.5 274.2 L243 274.2 L243.5 274.2 L244 274.2 L244.5 274.2 L245 274.2 L245.5 274.2 L246 274.2 L246.5 274.2 L247 274.2 L247.5 274.2 L248 274.2 L248.5 274.2 L249 274.2 L249.5 274.2 L250 274.2 L250.5 274.2 L251 274.2 L251.5 274.2 L252 274.2 L252.5 274.2 L253 274.2 L253.5 274.2 L254 274.2 L254.5 274.2 L255 274.2 L255.5 274.2 L256 274.2 L256.5 274.2 L257 274.2 L257.5 274.2 L258 274.2 L258.5 274.2 L259 274.2 L259.5 274.2 L260 274.2 L260.5 274.2 L261 274.2 L261.5 274.2 L262 274.2 L262.5 274.2 L263 274.2 L263.5 274.2 L264 274.2 L264.5 274.2 L265 274.2 L265.5 274.2 L266 274.2 L266.5 274.2 L267 274.2 L267.5 274.2 L268 274.2 L268.5 274.2 L269 274.2 L269.5 274.2 L270 274.2 L270.5 274.2 L271 274.2 L271.5 274.2 L272 274.2 L272.5 274.2 L273 274.2 L273.5 274.2 L274 274.2 L274.5 274.2 L275 274.2 L275.5 274.2 L276 274.2 L276.5 274.2 L277 274.2 L277.5 274.2 L278 274.2 L278.5 274.2 L279 274.2 L279.5 274.2 L280 274.2 L280.5 274.2 L281 274.2 L281.5 274.2 L282 274.2 L282.5 274.2 L283 274.2 L283.5 274.2 L284 274.2 L284.5 274.2 L285 274.2 L285.5 274.2 L286 274.2 L286.5 274.2 L287 274.2 L287.5 274.2 L288 274.2 L288.5 274.2 L289 274.2 L289.5 274.2 L290 274.2 L290.5 274.2 L291 274.2 L291.5 274.2 L292 274.2 L292.5 274.2 L293 274.2 L293.5 274.2 L294 274.2 L294.5 274.2 L295 274.2 L295.5 274.2 L296 274.2 L296.5 274.2 L297 274.2 L297.5 274.2 L298 274.2 L298.5 274.2 L299 274.2 L299.5 274.2 L300 274.2 L300.5 274.2 L301 274.2 L301.5 274.2 L302 274.2 L302.5 274.2 L303 274.2 L303.5 274.2 L304 274.2 L304.5 274.2 L305 274.2 L305.5 274.2 L306 274.2 L306.5 274.2 L307 274.2 L307.5 274.2 L308 274.2 L308.5 274.2 L309 274.2 L309.5 274.2 L310 274.2 L310.5 274.2 L311 274.2 L311.5 274.2 L312 274.2 L312.5 274.2 L313 274.2 L313.5 274.2 L314 274.2 L314.5 274.2 L315 274.2 L315.5 274.2 L316 274.2 L316.5 274.2 L317 273.05 L317.5 272.96 L318 273.51 L318.5 274.2 L319 274.2 L319.5 274.2 L320 274.2 L320.5 274.2 L321 274.2 L321.5 274.2 L322 274.2 L322.5 274.2 L323 274.2 L323.5 274.2 L324 274.2 L324.5 274.2 L325 274.2 L325.5 274.2 L326 274.2 L326.5 274.2 L327 274.2 L327.5 274.2 L328 274.2 L328.5 274.2 L329 274.2 L329.5 274.2 L330 274.2 L330.5 274.2 L331 274.2 L331.5 274.2 L332 274.2 L332.5 274.2 L333 274.2 L333.5 274.2 L334 274.2 L334.5 274.2 L335 274.2 L335.5 274.2 L336 274.2 L336.5 274.2 L337 274.2 L337.5 274.2 L338 274.2 L338.5 274.2 L339 274.2 L339.5 274.2 L340 274.2 L340.5 274.2 L341 274.2 L341.5 274.2 L342 274.2 L342.5 274.2 L343 274.2 L343.5 274.2 L344 274.2 L344.5 274.2 L345 274.2 L345.5 274.2 L346 274.2 L346.5 274.2 L347 274.2 L347.5 274.2 L348 274.2 L348.5 274.2 L349 274.2 L349.5 274.2 L350 274.2 L350.5 274.2 L351 274.2 L351.5 274.2 L352 274.2 L352.5 274.2 L353 274.2 L353.5 274.2 L354 274.2 L354.5 274.2 L355 274.2 L355.5 274.2 L356 274.2 L356.5 273.2 L357 272.24 L357.5 271.2 L358 270.27 L358.5 269.94 L359 269.73 L359.5 270.48 L360 271.26 L360.5 272.22 L361 273.2 L361.5 274.2 L362 274.2 L362.5 274.2 L363 274.2 L363.5 274.2 L364 274.2 L364.5 274.2 L365 274.2 L365.5 274.2 L366 274.2 L366.5 274.2 L367 274.2 L367.5 274.2 L368 274.2 L368.5 274.2 L369 274.2 L369.5 274.2 L370 274.2 L370.5 274.2 L371 274.2 L371.5 274.2 L372 274.2 L372.5 274.2 L373 274.2 L373.5 274.2 L374 274.2 L374.5 274.2 L375 274.2 L375.5 274.2 L376 274.2 L376.5 274.2 L377 274.2 L377.5 274.2 L378 274.2 L378.5 274.2 L379 274.2 L379.5 274.2 L380 274.2 L380.5 274.2 L381 274.2 L381.5 274.2 L382 274.2 L382.5 274.2 L383 274.2 L383.5 274.2 L384 274.2 L384.5 274.2 L385 274.2 L385.5 274.2 L386 274.2 L386.5 274.2 L387 274.2 L387.5 274.2 L388 274.2 L388.5 274.2 L389 274.2 L389.5 274.2 L390 274.2 L390.5 274.2 L391 274.2 L391.5 274.2 L392 274.2 L392.5 274.2 L393 274.2 L393.5 274.2 L394 274.2 L394.5 274.2 L395 274.2 L395.5 274.2 L396 274.2 L396.5 274.2 L397 274.2 L397.5 274.2 L398 274.2 L398.5 274.2 L399 274.2 L399.5 274.2 L400 274.2 L400.5 274.2 L401 274.2 L401.5 274.2 L402 274.2 L402.5 274.2 L403 274.2 L403.5 274.2 L404 274.2 L404.5 274.2 L405 274.2 L405.5 274.2 L406 274.2 L406.5 274.2 L407 274.2 L407.5 274.2 L408 274.2 L408.5 274.2 L409 274.2 L409.5 274.2 L410 274.2 L410.5 274.2 L411 274.2 L411.5 274.2 L412 274.2 L412.5 274.2 L413 274.2 L413.5 274.2 L414 274.2 L414.5 274.2 L415 274.2 L415.5 274.2 L416 274.2 L416.5 274.2 L417 274.2 L417.5 274.2 L418 274.2 L418.5 274.2 L419 274.2 L419.5 274.2 L420 274.2 L420.5 274.2 L421 274.2 L421.5 274.2 L422 274.2 L422.5 274.2 L423 274.2 L423.5 274.2 L424 274.2 L424.5 274.2 L425 274.2 L425.5 274.2 L426 274.2 L426.5 274.2 L427 274.2 L427.5 274.2 L428 274.2 L428.5 274.2 L429 274.2 L429.5 274.2 L430 274.2 L430.5 274.2 L431 274.2 L431.5 274.2 L432 274.2 L432.5 274.2 L433 274.2 L433.5 274.2 L434 274.2 L434.5 274.2 L435 274.2 L435.5 274.2 L436 274.2 L436.5 274.2 L437 274.2 L437.5 274.2 L438 274.2 L438.5 274.2 L439 274.2 L439.5 274.2 L440 274.2 L440.5 274.2 L441 274.2 L441.5 274.2 L442 274.2 L442.5 274.2 L443 274.2 L443.5 274.2 L444 274.2 L444.5 274.2 L445 274.2 L445.5 274.2 L446 274.2 L446.5 274.2 L447 274.2 L447.5 274.2 L448 274.2 L448.5 274.2 L449 274.2 L449.5 274.2 L450 274.2 L450.5 274.2 L451 274.2 L451.5 274.2 L452 274.2 L452.5 274.2 L453 274.2 L453.5 274.2 L454 274.2 L454.5 274.2 L455 274.2 L455.5 274.2 L456 274.2 L456.5 274.2 L457 274.2 L457.5 274.2 L458 274.2 L458.5 274.2 L459 274.2 L459.5 274.2 L460 274.2 L460.5 274.2 L461 274.2 L461.5 274.2 L462 274.2 L462.5 274.2 L463 274.2 L463.5 274.2 L464 274.2 L464.5 274.2 L465 274.2 L465.5 274.2 L466 274.2 L466.5 274.2 L467 274.2 L467.5 274.2 L468 274.2 L468.5 274.2 L469 274.2 L469.5 274.2 L470 274.2 L470.5 274.2 L471 274.2 L471.5 274.2 L472 274.2 L472.5 274.2 L473 274.2 L473.5 274.2 L474 274.2 L474.5 274.2 L475 274.2 L475.5 274.2 L476 274.2 L476.5 274.2 L477 274.2 L477.5 274.2 L478 274.2 L478.5 274.2 L479 274.2 L479.5 274.2 L480 274.2 L480.5 274.2 L481 274.2 L481.5 274.2 L482 274.2 L482.5 274.2 L483 274.2 L483.5 274.2 L484 274.2 L484.5 274.2 L485 274.2 L485.5 274.2 L486 274.2 L486.5 274.2 L487 274.2 L487.5 274.2 L488 274.2 L488.5 274.2 L489 274.2 L489.5 274.2 L490 274.2 L490.5 274.2 L491 274.2 L491.5 274.2 L492 274.2 L492.5 274.2 L493 274.2 L493.5 274.2 L494 274.2 L494.5 274.2 L495 274.2 L495.5 274.2 L496 274.2 L496.5 274.2 L497 274.2 L497.5 274.2 L498 274.2 L498.5 274.2 L499 274.2 L499.5 274.2 L500 274.2 L500.5 274.2 L501 274.2 L501.5 274.2 L502 274.2 L502.5 274.2 L503 274.2 L503.5 274.2 L504 274.2 L504.5 274.2 L505 274.2 L505.5 274.2 L506 274.2 L506.5 274.2 L507 274.2 L507.5 274.2 L508 274.2 L508.5 274.2 L509 274.2 L509.5 274.2 L510 274.2 L510.5 274.2 L511 274.2 L511.5 274.2 L512 274.2 L512.5 274.2 L512.5 274.2 Z" fill="#8a8a8a"/>
<line x1="99" y1="286.6" x2="512.5" y2="286.6" stroke="#dcdcdc" stroke-width="0.8" />
<path d="M99 287 L99 287 L99.5 287 L100 287 L100.5 287 L101 287 L101.5 287 L102 287 L102.5 287 L103 287 L103.5 287 L104 287 L104.5 287 L105 287 L105.5 287 L106 287 L106.5 287 L107 287 L107.5 287 L108 287 L108.5 287 L109 287 L109.5 287 L110 287 L110.5 287 L111 287 L111.5 287 L112 287 L112.5 287 L113 287 L113.5 287 L114 287 L114.5 287 L115 287 L115.5 287 L116 287 L116.5 287 L117 287 L117.5 287 L118 287 L118.5 287 L119 287 L119.5 287 L120 287 L120.5 287 L121 287 L121.5 285.49 L122 284.45 L122.5 284.21 L123 283.87 L123.5 283.51 L124 283.2 L124.5 282.82 L125 282.83 L125.5 282.98 L126 283.17 L126.5 282.81 L127 282.51 L127.5 282.05 L128 281.84 L128.5 281.7 L129 281.66 L129.5 281.2 L130 280.52 L130.5 279.89 L131 279.33 L131.5 278.5 L132 277.98 L132.5 277.86 L133 278.48 L133.5 279 L134 281.77 L134.5 283.68 L135 284.99 L135.5 283.99 L136 282.4 L136.5 280.89 L137 280.55 L137.5 280.22 L138 279.63 L138.5 279.3 L139 279.11 L139.5 279.31 L140 279.76 L140.5 280.2 L141 280.64 L141.5 280.9 L142 281.51 L142.5 281.99 L143 282.35 L143.5 282.91 L144 283.5 L144.5 283.91 L145 284.43 L145.5 284.61 L146 284.76 L146.5 284.84 L147 284.96 L147.5 285.14 L148 285.3 L148.5 285.49 L149 285.72 L149.5 285.98 L150 286.2 L150.5 286.33 L151 287 L151.5 287 L152 287 L152.5 287 L153 287 L153.5 287 L154 287 L154.5 287 L155 287 L155.5 287 L156 287 L156.5 287 L157 287 L157.5 287 L158 287 L158.5 287 L159 287 L159.5 287 L160 287 L160.5 287 L161 287 L161.5 287 L162 287 L162.5 287 L163 287 L163.5 287 L164 287 L164.5 287 L165 287 L165.5 287 L166 287 L166.5 287 L167 287 L167.5 287 L168 287 L168.5 287 L169 287 L169.5 287 L170 287 L170.5 287 L171 287 L171.5 287 L172 287 L172.5 287 L173 287 L173.5 287 L174 287 L174.5 287 L175 287 L175.5 287 L176 287 L176.5 287 L177 287 L177.5 287 L178 287 L178.5 287 L179 287 L179.5 287 L180 287 L180.5 287 L181 287 L181.5 287 L182 287 L182.5 287 L183 287 L183.5 287 L184 287 L184.5 287 L185 287 L185.5 287 L186 287 L186.5 287 L187 287 L187.5 287 L188 287 L188.5 287 L189 287 L189.5 287 L190 287 L190.5 287 L191 287 L191.5 287 L192 287 L192.5 287 L193 287 L193.5 287 L194 287 L194.5 287 L195 287 L195.5 287 L196 287 L196.5 287 L197 287 L197.5 287 L198 287 L198.5 287 L199 287 L199.5 287 L200 287 L200.5 287 L201 287 L201.5 287 L202 287 L202.5 287 L203 287 L203.5 287 L204 287 L204.5 287 L205 287 L205.5 287 L206 287 L206.5 287 L207 287 L207.5 287 L208 287 L208.5 287 L209 287 L209.5 287 L210 287 L210.5 287 L211 287 L211.5 287 L212 287 L212.5 287 L213 287 L213.5 287 L214 287 L214.5 287 L215 287 L215.5 287 L216 287 L216.5 287 L217 287 L217.5 287 L218 287 L218.5 287 L219 287 L219.5 287 L220 287 L220.5 287 L221 287 L221.5 287 L222 287 L222.5 287 L223 287 L223.5 287 L224 287 L224.5 287 L225 287 L225.5 287 L226 287 L226.5 287 L227 287 L227.5 287 L228 287 L228.5 287 L229 287 L229.5 287 L230 287 L230.5 287 L231 287 L231.5 287 L232 287 L232.5 287 L233 287 L233.5 287 L234 287 L234.5 287 L235 287 L235.5 287 L236 287 L236.5 287 L237 287 L237.5 287 L238 287 L238.5 287 L239 287 L239.5 287 L240 287 L240.5 287 L241 287 L241.5 287 L242 287 L242.5 287 L243 287 L243.5 287 L244 287 L244.5 287 L245 287 L245.5 287 L246 287 L246.5 287 L247 287 L247.5 287 L248 287 L248.5 287 L249 287 L249.5 287 L250 287 L250.5 287 L251 287 L251.5 287 L252 287 L252.5 287 L253 287 L253.5 287 L254 287 L254.5 287 L255 287 L255.5 287 L256 287 L256.5 287 L257 287 L257.5 287 L258 287 L258.5 287 L259 287 L259.5 287 L260 287 L260.5 287 L261 287 L261.5 287 L262 287 L262.5 287 L263 287 L263.5 287 L264 287 L264.5 287 L265 287 L265.5 287 L266 287 L266.5 287 L267 287 L267.5 287 L268 287 L268.5 287 L269 287 L269.5 287 L270 287 L270.5 287 L271 287 L271.5 287 L272 287 L272.5 287 L273 287 L273.5 287 L274 287 L274.5 287 L275 287 L275.5 287 L276 287 L276.5 287 L277 287 L277.5 287 L278 287 L278.5 287 L279 287 L279.5 287 L280 287 L280.5 287 L281 287 L281.5 287 L282 287 L282.5 287 L283 287 L283.5 287 L284 287 L284.5 287 L285 287 L285.5 287 L286 287 L286.5 287 L287 287 L287.5 287 L288 287 L288.5 287 L289 287 L289.5 287 L290 287 L290.5 287 L291 287 L291.5 287 L292 287 L292.5 287 L293 287 L293.5 287 L294 287 L294.5 287 L295 287 L295.5 287 L296 287 L296.5 287 L297 287 L297.5 287 L298 287 L298.5 287 L299 287 L299.5 287 L300 287 L300.5 287 L301 287 L301.5 287 L302 287 L302.5 287 L303 287 L303.5 287 L304 287 L304.5 287 L305 287 L305.5 287 L306 287 L306.5 287 L307 287 L307.5 287 L308 287 L308.5 287 L309 287 L309.5 287 L310 287 L310.5 287 L311 287 L311.5 287 L312 287 L312.5 287 L313 287 L313.5 287 L314 287 L314.5 287 L315 287 L315.5 287 L316 287 L316.5 287 L317 287 L317.5 287 L318 287 L318.5 287 L319 287 L319.5 287 L320 287 L320.5 287 L321 287 L321.5 287 L322 287 L322.5 287 L323 287 L323.5 287 L324 287 L324.5 287 L325 287 L325.5 287 L326 286 L326.5 285.94 L327 285.88 L327.5 285.81 L328 285.73 L328.5 285.67 L329 285.64 L329.5 285.54 L330 285.44 L330.5 285.35 L331 285.29 L331.5 285.19 L332 285.16 L332.5 285.14 L333 285 L333.5 284.9 L334 284.85 L334.5 284.77 L335 284.65 L335.5 284.56 L336 284.47 L336.5 284.54 L337 284.6 L337.5 284.66 L338 284.8 L338.5 284.9 L339 284.93 L339.5 285.02 L340 285.06 L340.5 285.08 L341 285.14 L341.5 285.18 L342 285.29 L342.5 285.29 L343 285.33 L343.5 285.45 L344 285.48 L344.5 285.88 L345 286.25 L345.5 287 L346 287 L346.5 287 L347 287 L347.5 287 L348 287 L348.5 287 L349 287 L349.5 287 L350 287 L350.5 287 L351 287 L351.5 287 L352 287 L352.5 287 L353 287 L353.5 287 L354 287 L354.5 287 L355 287 L355.5 287 L356 286.25 L356.5 285.88 L357 285.5 L357.5 285.37 L358 285.25 L358.5 285.08 L359 284.97 L359.5 285.17 L360 285.27 L360.5 285.41 L361 285.52 L361.5 285.6 L362 285.69 L362.5 285.78 L363 285.83 L363.5 285.92 L364 286 L364.5 287 L365 287 L365.5 287 L366 287 L366.5 287 L367 287 L367.5 287 L368 287 L368.5 287 L369 287 L369.5 287 L370 287 L370.5 287 L371 287 L371.5 287 L372 287 L372.5 287 L373 287 L373.5 287 L374 287 L374.5 287 L375 287 L375.5 287 L376 287 L376.5 287 L377 287 L377.5 287 L378 287 L378.5 287 L379 287 L379.5 287 L380 287 L380.5 287 L381 287 L381.5 287 L382 287 L382.5 287 L383 287 L383.5 287 L384 287 L384.5 287 L385 287 L385.5 287 L386 287 L386.5 287 L387 287 L387.5 287 L388 287 L388.5 287 L389 287 L389.5 287 L390 287 L390.5 287 L391 287 L391.5 287 L392 287 L392.5 287 L393 287 L393.5 287 L394 287 L394.5 287 L395 287 L395.5 287 L396 287 L396.5 287 L397 287 L397.5 287 L398 287 L398.5 287 L399 287 L399.5 287 L400 287 L400.5 287 L401 287 L401.5 287 L402 287 L402.5 287 L403 287 L403.5 287 L404 287 L404.5 287 L405 287 L405.5 287 L406 287 L406.5 287 L407 287 L407.5 287 L408 287 L408.5 287 L409 287 L409.5 287 L410 287 L410.5 287 L411 287 L411.5 287 L412 287 L412.5 287 L413 287 L413.5 287 L414 287 L414.5 287 L415 287 L415.5 287 L416 287 L416.5 287 L417 287 L417.5 287 L418 287 L418.5 287 L419 287 L419.5 287 L420 287 L420.5 287 L421 287 L421.5 287 L422 287 L422.5 287 L423 287 L423.5 287 L424 287 L424.5 287 L425 287 L425.5 287 L426 287 L426.5 287 L427 287 L427.5 287 L428 287 L428.5 287 L429 287 L429.5 287 L430 287 L430.5 287 L431 287 L431.5 287 L432 287 L432.5 287 L433 287 L433.5 287 L434 287 L434.5 287 L435 287 L435.5 287 L436 287 L436.5 287 L437 287 L437.5 287 L438 287 L438.5 287 L439 287 L439.5 287 L440 287 L440.5 287 L441 287 L441.5 287 L442 287 L442.5 287 L443 287 L443.5 287 L444 287 L444.5 287 L445 287 L445.5 287 L446 287 L446.5 287 L447 287 L447.5 287 L448 287 L448.5 287 L449 287 L449.5 287 L450 287 L450.5 287 L451 287 L451.5 287 L452 287 L452.5 287 L453 287 L453.5 287 L454 287 L454.5 287 L455 287 L455.5 287 L456 287 L456.5 287 L457 287 L457.5 287 L458 287 L458.5 287 L459 287 L459.5 287 L460 287 L460.5 287 L461 287 L461.5 287 L462 287 L462.5 287 L463 287 L463.5 287 L464 287 L464.5 287 L465 287 L465.5 287 L466 287 L466.5 287 L467 287 L467.5 287 L468 287 L468.5 287 L469 287 L469.5 287 L470 287 L470.5 287 L471 287 L471.5 287 L472 287 L472.5 287 L473 287 L473.5 287 L474 287 L474.5 287 L475 287 L475.5 287 L476 287 L476.5 287 L477 287 L477.5 287 L478 287 L478.5 287 L479 287 L479.5 287 L480 287 L480.5 287 L481 287 L481.5 287 L482 287 L482.5 287 L483 287 L483.5 287 L484 287 L484.5 287 L485 287 L485.5 287 L486 287 L486.5 287 L487 287 L487.5 287 L488 287 L488.5 287 L489 287 L489.5 287 L490 287 L490.5 287 L491 287 L491.5 287 L492 287 L492.5 287 L493 287 L493.5 287 L494 287 L494.5 287 L495 287 L495.5 287 L496 287 L496.5 287 L497 287 L497.5 287 L498 287 L498.5 287 L499 287 L499.5 287 L500 287 L500.5 287 L501 287 L501.5 287 L502 287 L502.5 287 L503 287 L503.5 287 L504 287 L504.5 287 L505 287 L505.5 287 L506 287 L506.5 287 L507 287 L507.5 287 L508 287 L508.5 287 L509 287 L509.5 287 L510 287 L510.5 287 L511 287 L511.5 287 L512 287 L512.5 287 L512.5 287 Z" fill="#8a8a8a"/>
<line x1="99" y1="300" x2="512.5" y2="300" stroke="#dcdcdc" stroke-width="0.8" />
<path d="M99 300.4 L99 300.4 L99.5 300.4 L100 300.4 L100.5 300.4 L101 300.4 L101.5 300.4 L102 300.4 L102.5 300.4 L103 300.4 L103.5 300.4 L104 300.4 L104.5 300.4 L105 300.4 L105.5 300.4 L106 300.4 L106.5 300.4 L107 300.4 L107.5 300.4 L108 300.4 L108.5 300.4 L109 300.4 L109.5 300.4 L110 300.4 L110.5 300.4 L111 300.4 L111.5 300.4 L112 300.4 L112.5 300.4 L113 300.4 L113.5 300.4 L114 300.4 L114.5 300.4 L115 300.4 L115.5 300.4 L116 300.4 L116.5 300.4 L117 300.4 L117.5 300.4 L118 300.4 L118.5 300.4 L119 300.4 L119.5 300.4 L120 300.4 L120.5 300.4 L121 300.4 L121.5 300.4 L122 300.4 L122.5 299.65 L123 299.4 L123.5 299.17 L124 298.87 L124.5 298.44 L125 298.02 L125.5 297.58 L126 297.28 L126.5 296.89 L127 296.36 L127.5 295.61 L128 294.94 L128.5 294.36 L129 293.84 L129.5 292.66 L130 291.24 L130.5 289.98 L131 289.89 L131.5 289.97 L132 290.13 L132.5 290.17 L133 292.23 L133.5 294.48 L134 296.42 L134.5 298.55 L135 298.76 L135.5 297.64 L136 296.44 L136.5 294.4 L137 292.48 L137.5 290.22 L138 289.97 L138.5 290.19 L139 290.17 L139.5 289.97 L140 290.6 L140.5 292.55 L141 294.48 L141.5 295.17 L142 296.06 L142.5 297.05 L143 297.91 L143.5 298.58 L144 299.23 L144.5 300.4 L145 300.4 L145.5 300.4 L146 300.4 L146.5 300.4 L147 300.4 L147.5 300.4 L148 300.4 L148.5 300.4 L149 300.4 L149.5 300.4 L150 300.4 L150.5 300.4 L151 300.4 L151.5 300.4 L152 300.4 L152.5 300.4 L153 300.4 L153.5 300.4 L154 300.4 L154.5 300.4 L155 300.4 L155.5 300.4 L156 300.4 L156.5 300.4 L157 300.4 L157.5 300.4 L158 300.4 L158.5 300.4 L159 300.4 L159.5 300.4 L160 300.4 L160.5 300.4 L161 300.4 L161.5 300.4 L162 300.4 L162.5 300.4 L163 300.4 L163.5 300.4 L164 300.4 L164.5 300.4 L165 300.4 L165.5 300.4 L166 300.4 L166.5 300.4 L167 300.4 L167.5 300.4 L168 300.4 L168.5 300.4 L169 300.4 L169.5 300.4 L170 300.4 L170.5 300.4 L171 300.4 L171.5 300.4 L172 300.4 L172.5 300.4 L173 300.4 L173.5 300.4 L174 300.4 L174.5 300.4 L175 300.4 L175.5 300.4 L176 300.4 L176.5 300.4 L177 300.4 L177.5 300.4 L178 300.4 L178.5 300.4 L179 300.4 L179.5 300.4 L180 300.4 L180.5 300.4 L181 300.4 L181.5 300.4 L182 300.4 L182.5 300.4 L183 300.4 L183.5 300.4 L184 300.4 L184.5 300.4 L185 300.4 L185.5 300.4 L186 300.4 L186.5 300.4 L187 300.4 L187.5 300.4 L188 300.4 L188.5 300.4 L189 300.4 L189.5 300.4 L190 300.4 L190.5 300.4 L191 300.4 L191.5 300.4 L192 300.4 L192.5 300.4 L193 300.4 L193.5 300.4 L194 300.4 L194.5 300.4 L195 300.4 L195.5 300.4 L196 300.4 L196.5 300.4 L197 300.4 L197.5 300.4 L198 300.4 L198.5 300.4 L199 300.4 L199.5 300.4 L200 300.4 L200.5 300.4 L201 300.4 L201.5 300.4 L202 300.4 L202.5 300.4 L203 300.4 L203.5 300.4 L204 300.4 L204.5 300.4 L205 300.4 L205.5 300.4 L206 300.4 L206.5 300.4 L207 300.4 L207.5 300.4 L208 300.4 L208.5 300.4 L209 300.4 L209.5 300.4 L210 300.4 L210.5 300.4 L211 300.4 L211.5 300.4 L212 300.4 L212.5 300.4 L213 300.4 L213.5 300.4 L214 300.4 L214.5 300.4 L215 300.4 L215.5 300.4 L216 300.4 L216.5 300.4 L217 300.4 L217.5 300.4 L218 300.4 L218.5 300.4 L219 300.4 L219.5 300.4 L220 300.4 L220.5 300.4 L221 300.4 L221.5 300.4 L222 300.4 L222.5 300.4 L223 300.4 L223.5 300.4 L224 300.4 L224.5 300.4 L225 300.4 L225.5 300.4 L226 300.4 L226.5 300.4 L227 300.4 L227.5 300.4 L228 300.4 L228.5 300.4 L229 300.4 L229.5 300.4 L230 300.4 L230.5 300.4 L231 300.4 L231.5 300.4 L232 300.4 L232.5 300.4 L233 300.4 L233.5 300.4 L234 300.4 L234.5 300.4 L235 300.4 L235.5 300.4 L236 300.4 L236.5 300.4 L237 300.4 L237.5 300.4 L238 300.4 L238.5 300.4 L239 300.4 L239.5 300.4 L240 300.4 L240.5 300.4 L241 300.4 L241.5 300.4 L242 300.4 L242.5 300.4 L243 300.4 L243.5 300.4 L244 300.4 L244.5 300.4 L245 300.4 L245.5 300.4 L246 300.4 L246.5 300.4 L247 300.4 L247.5 300.4 L248 300.4 L248.5 300.4 L249 300.4 L249.5 300.4 L250 300.4 L250.5 300.4 L251 300.4 L251.5 300.4 L252 300.4 L252.5 300.4 L253 300.4 L253.5 300.4 L254 300.4 L254.5 300.4 L255 300.4 L255.5 300.4 L256 300.4 L256.5 300.4 L257 300.4 L257.5 300.4 L258 300.4 L258.5 300.4 L259 300.4 L259.5 300.4 L260 300.4 L260.5 300.4 L261 300.4 L261.5 300.4 L262 300.4 L262.5 300.4 L263 300.4 L263.5 300.4 L264 300.4 L264.5 300.4 L265 300.4 L265.5 300.4 L266 300.4 L266.5 300.4 L267 300.4 L267.5 300.4 L268 300.4 L268.5 300.4 L269 300.4 L269.5 300.4 L270 300.4 L270.5 300.4 L271 300.4 L271.5 300.4 L272 300.4 L272.5 300.4 L273 300.4 L273.5 300.4 L274 300.4 L274.5 300.4 L275 300.4 L275.5 300.4 L276 300.4 L276.5 300.4 L277 300.4 L277.5 300.4 L278 300.4 L278.5 300.4 L279 300.4 L279.5 300.4 L280 300.4 L280.5 300.4 L281 300.4 L281.5 300.4 L282 300.4 L282.5 300.4 L283 300.4 L283.5 300.4 L284 300.4 L284.5 300.4 L285 300.4 L285.5 300.4 L286 300.4 L286.5 300.4 L287 300.4 L287.5 300.4 L288 300.4 L288.5 300.4 L289 300.4 L289.5 300.4 L290 300.4 L290.5 300.4 L291 300.4 L291.5 300.4 L292 300.4 L292.5 300.4 L293 300.4 L293.5 300.4 L294 300.4 L294.5 300.4 L295 300.4 L295.5 300.4 L296 300.4 L296.5 300.4 L297 300.4 L297.5 300.4 L298 300.4 L298.5 300.4 L299 300.4 L299.5 300.4 L300 300.4 L300.5 300.4 L301 300.4 L301.5 300.4 L302 300.4 L302.5 300.4 L303 300.4 L303.5 300.4 L304 300.4 L304.5 300.4 L305 300.4 L305.5 300.4 L306 300.4 L306.5 300.4 L307 300.4 L307.5 300.4 L308 300.4 L308.5 300.4 L309 300.4 L309.5 300.4 L310 300.4 L310.5 300.4 L311 300.4 L311.5 300.4 L312 300.4 L312.5 300.4 L313 300.4 L313.5 300.4 L314 300.4 L314.5 300.4 L315 300.4 L315.5 300.4 L316 300.4 L316.5 300.4 L317 300.4 L317.5 300.4 L318 300.4 L318.5 300.4 L319 300.4 L319.5 300.4 L320 300.4 L320.5 300.4 L321 300.4 L321.5 300.4 L322 300.4 L322.5 300.4 L323 300.4 L323.5 300.4 L324 300.4 L324.5 300.4 L325 300.4 L325.5 300.4 L326 300.4 L326.5 300.4 L327 300.4 L327.5 300.4 L328 300.4 L328.5 300.4 L329 300.4 L329.5 300.4 L330 300.4 L330.5 300.4 L331 300.4 L331.5 300.4 L332 300.4 L332.5 300.4 L333 300.4 L333.5 300.4 L334 300.4 L334.5 300.4 L335 300.4 L335.5 300.4 L336 300.4 L336.5 300.4 L337 300.4 L337.5 300.4 L338 300.4 L338.5 300.4 L339 300.4 L339.5 300.4 L340 300.4 L340.5 300.4 L341 300.4 L341.5 300.4 L342 300.4 L342.5 300.4 L343 300.4 L343.5 300.4 L344 300.4 L344.5 300.4 L345 300.4 L345.5 300.4 L346 300.4 L346.5 300.4 L347 300.4 L347.5 300.4 L348 300.4 L348.5 300.4 L349 300.4 L349.5 300.4 L350 300.4 L350.5 300.4 L351 300.4 L351.5 300.4 L352 300.4 L352.5 300.4 L353 300.4 L353.5 300.4 L354 300.4 L354.5 300.4 L355 300.4 L355.5 300.4 L356 300.4 L356.5 299.4 L357 298.42 L357.5 297.76 L358 297.1 L358.5 296.33 L359 294.87 L359.5 295.57 L360 296.35 L360.5 297.45 L361 298.47 L361.5 298.7 L362 298.92 L362.5 299.16 L363 299.4 L363.5 299.65 L364 300.4 L364.5 300.4 L365 300.4 L365.5 300.4 L366 300.4 L366.5 300.4 L367 300.4 L367.5 300.4 L368 300.4 L368.5 300.4 L369 300.4 L369.5 300.4 L370 300.4 L370.5 300.4 L371 300.4 L371.5 300.4 L372 300.4 L372.5 300.4 L373 300.4 L373.5 300.4 L374 300.4 L374.5 300.4 L375 300.4 L375.5 300.4 L376 300.4 L376.5 300.4 L377 300.4 L377.5 300.4 L378 300.4 L378.5 300.4 L379 300.4 L379.5 300.4 L380 300.4 L380.5 300.4 L381 300.4 L381.5 300.4 L382 300.4 L382.5 300.4 L383 300.4 L383.5 300.4 L384 300.4 L384.5 300.4 L385 300.4 L385.5 300.4 L386 300.4 L386.5 300.4 L387 300.4 L387.5 300.4 L388 300.4 L388.5 300.4 L389 300.4 L389.5 300.4 L390 300.4 L390.5 300.4 L391 300.4 L391.5 300.4 L392 300.4 L392.5 300.4 L393 300.4 L393.5 300.4 L394 300.4 L394.5 300.4 L395 300.4 L395.5 300.4 L396 300.4 L396.5 300.4 L397 300.4 L397.5 300.4 L398 300.4 L398.5 300.4 L399 300.4 L399.5 300.4 L400 300.4 L400.5 300.4 L401 300.4 L401.5 300.4 L402 300.4 L402.5 300.4 L403 300.4 L403.5 300.4 L404 300.4 L404.5 300.4 L405 300.4 L405.5 300.4 L406 300.4 L406.5 300.4 L407 300.4 L407.5 300.4 L408 300.4 L408.5 300.4 L409 300.4 L409.5 300.4 L410 300.4 L410.5 300.4 L411 300.4 L411.5 300.4 L412 300.4 L412.5 300.4 L413 300.4 L413.5 300.4 L414 300.4 L414.5 300.4 L415 300.4 L415.5 300.4 L416 300.4 L416.5 300.4 L417 300.4 L417.5 300.4 L418 300.4 L418.5 300.4 L419 300.4 L419.5 300.4 L420 300.4 L420.5 300.4 L421 300.4 L421.5 300.4 L422 300.4 L422.5 300.4 L423 300.4 L423.5 300.4 L424 300.4 L424.5 300.4 L425 300.4 L425.5 300.4 L426 300.4 L426.5 300.4 L427 300.4 L427.5 300.4 L428 300.4 L428.5 300.4 L429 300.4 L429.5 300.4 L430 300.4 L430.5 300.4 L431 300.4 L431.5 300.4 L432 300.4 L432.5 300.4 L433 300.4 L433.5 300.4 L434 300.4 L434.5 300.4 L435 300.4 L435.5 300.4 L436 300.4 L436.5 300.4 L437 300.4 L437.5 300.4 L438 300.4 L438.5 300.4 L439 300.4 L439.5 300.4 L440 300.4 L440.5 300.4 L441 300.4 L441.5 300.4 L442 300.4 L442.5 300.4 L443 300.4 L443.5 300.4 L444 300.4 L444.5 300.4 L445 300.4 L445.5 300.4 L446 300.4 L446.5 300.4 L447 300.4 L447.5 300.4 L448 300.4 L448.5 300.4 L449 300.4 L449.5 300.4 L450 300.4 L450.5 300.4 L451 300.4 L451.5 300.4 L452 300.4 L452.5 300.4 L453 300.4 L453.5 300.4 L454 300.4 L454.5 300.4 L455 300.4 L455.5 300.4 L456 300.4 L456.5 300.4 L457 300.4 L457.5 300.4 L458 300.4 L458.5 300.4 L459 300.4 L459.5 300.4 L460 300.4 L460.5 300.4 L461 300.4 L461.5 300.4 L462 300.4 L462.5 300.4 L463 300.4 L463.5 300.4 L464 300.4 L464.5 300.4 L465 300.4 L465.5 300.4 L466 300.4 L466.5 300.4 L467 300.4 L467.5 300.4 L468 300.4 L468.5 300.4 L469 300.4 L469.5 300.4 L470 300.4 L470.5 300.4 L471 300.4 L471.5 300.4 L472 300.4 L472.5 300.4 L473 300.4 L473.5 300.4 L474 300.4 L474.5 300.4 L475 300.4 L475.5 300.4 L476 300.4 L476.5 300.4 L477 300.4 L477.5 300.4 L478 300.4 L478.5 300.4 L479 300.4 L479.5 300.4 L480 300.4 L480.5 300.4 L481 300.4 L481.5 300.4 L482 300.4 L482.5 300.4 L483 300.4 L483.5 300.4 L484 300.4 L484.5 300.4 L485 300.4 L485.5 300.4 L486 300.4 L486.5 300.4 L487 300.4 L487.5 300.4 L488 300.4 L488.5 300.4 L489 300.4 L489.5 300.4 L490 300.4 L490.5 300.4 L491 300.4 L491.5 300.4 L492 300.4 L492.5 300.4 L493 300.4 L493.5 300.4 L494 300.4 L494.5 300.4 L495 300.4 L495.5 300.4 L496 300.4 L496.5 300.4 L497 300.4 L497.5 300.4 L498 300.4 L498.5 300.4 L499 300.4 L499.5 300.4 L500 300.4 L500.5 300.4 L501 300.4 L501.5 300.4 L502 300.4 L502.5 300.4 L503 300.4 L503.5 300.4 L504 300.4 L504.5 300.4 L505 300.4 L505.5 300.4 L506 300.4 L506.5 300.4 L507 300.4 L507.5 300.4 L508 300.4 L508.5 300.4 L509 300.4 L509.5 300.4 L510 300.4 L510.5 300.4 L511 300.4 L511.5 300.4 L512 300.4 L512.5 300.4 L512.5 300.4 Z" fill="#8a8a8a"/>
<line x1="99" y1="313.3" x2="512.5" y2="313.3" stroke="#dcdcdc" stroke-width="0.8" />
<path d="M99 313.7 L99 313.7 L99.5 313.7 L100 313.7 L100.5 313.7 L101 313.7 L101.5 313.7 L102 313.7 L102.5 313.7 L103 313.7 L103.5 313.7 L104 313.7 L104.5 313.7 L105 313.7 L105.5 313.7 L106 313.7 L106.5 313.7 L107 313.7 L107.5 313.7 L108 313.7 L108.5 313.7 L109 313.7 L109.5 313.7 L110 313.7 L110.5 313.7 L111 313.7 L111.5 313.7 L112 313.7 L112.5 313.7 L113 313.7 L113.5 313.7 L114 313.7 L114.5 313.7 L115 313.7 L115.5 313.7 L116 313.7 L116.5 313.7 L117 313.7 L117.5 313.7 L118 313.7 L118.5 313.7 L119 313.7 L119.5 313.7 L120 313.7 L120.5 313.7 L121 313.7 L121.5 313.7 L122 313.7 L122.5 312.57 L123 311.99 L123.5 311.39 L124 310.79 L124.5 310.3 L125 309.7 L125.5 309.14 L126 308.76 L126.5 308.36 L127 307.82 L127.5 307.42 L128 306.95 L128.5 306.3 L129 305.61 L129.5 305.56 L130 305.26 L130.5 305.09 L131 304.58 L131.5 303.94 L132 303.71 L132.5 303.75 L133 304.6 L133.5 306.6 L134 308.41 L134.5 310.15 L135 311.9 L135.5 310.99 L136 309.23 L136.5 307.43 L137 306.35 L137.5 305.48 L138 304.59 L138.5 303.86 L139 304 L139.5 304.72 L140 305.52 L140.5 305.85 L141 306.54 L141.5 307.08 L142 307.69 L142.5 308.26 L143 308.61 L143.5 309.11 L144 309.64 L144.5 310.13 L145 310.71 L145.5 311.06 L146 311.52 L146.5 311.98 L147 312.34 L147.5 312.78 L148 313.7 L148.5 313.7 L149 313.7 L149.5 313.7 L150 313.7 L150.5 313.7 L151 313.7 L151.5 313.7 L152 313.7 L152.5 313.7 L153 313.7 L153.5 313.7 L154 313.7 L154.5 313.7 L155 313.7 L155.5 313.7 L156 313.7 L156.5 313.7 L157 313.7 L157.5 313.7 L158 313.7 L158.5 313.7 L159 313.7 L159.5 313.7 L160 313.7 L160.5 313.7 L161 313.7 L161.5 313.7 L162 313.7 L162.5 313.7 L163 313.7 L163.5 313.7 L164 313.7 L164.5 313.7 L165 313.7 L165.5 313.7 L166 313.7 L166.5 313.7 L167 313.7 L167.5 313.7 L168 313.7 L168.5 313.7 L169 313.7 L169.5 313.7 L170 313.7 L170.5 313.7 L171 313.7 L171.5 313.7 L172 313.7 L172.5 313.7 L173 313.7 L173.5 313.7 L174 313.7 L174.5 313.7 L175 313.7 L175.5 313.7 L176 313.7 L176.5 313.7 L177 313.7 L177.5 313.7 L178 313.7 L178.5 313.7 L179 313.7 L179.5 313.7 L180 313.7 L180.5 313.7 L181 313.7 L181.5 313.7 L182 313.7 L182.5 313.7 L183 313.7 L183.5 313.7 L184 313.7 L184.5 313.7 L185 313.7 L185.5 313.7 L186 313.7 L186.5 313.7 L187 313.7 L187.5 313.7 L188 313.7 L188.5 313.7 L189 313.7 L189.5 313.7 L190 313.7 L190.5 313.7 L191 313.7 L191.5 313.7 L192 313.7 L192.5 313.7 L193 313.7 L193.5 313.7 L194 313.7 L194.5 313.7 L195 313.7 L195.5 313.7 L196 313.7 L196.5 313.7 L197 313.7 L197.5 313.7 L198 313.7 L198.5 313.7 L199 313.7 L199.5 313.7 L200 313.7 L200.5 313.7 L201 313.7 L201.5 313.7 L202 313.7 L202.5 313.7 L203 313.7 L203.5 313.7 L204 313.7 L204.5 313.7 L205 313.7 L205.5 313.7 L206 313.7 L206.5 313.7 L207 313.7 L207.5 313.7 L208 313.7 L208.5 313.7 L209 313.7 L209.5 313.7 L210 313.7 L210.5 313.7 L211 313.7 L211.5 313.7 L212 313.7 L212.5 313.7 L213 313.7 L213.5 313.7 L214 313.7 L214.5 313.7 L215 313.7 L215.5 313.7 L216 313.7 L216.5 313.7 L217 313.7 L217.5 313.7 L218 313.7 L218.5 313.7 L219 313.7 L219.5 313.7 L220 313.7 L220.5 313.7 L221 313.7 L221.5 313.7 L222 313.7 L222.5 313.7 L223 313.7 L223.5 313.7 L224 313.7 L224.5 313.7 L225 313.7 L225.5 313.7 L226 313.7 L226.5 313.7 L227 313.7 L227.5 313.7 L228 313.7 L228.5 313.7 L229 313.7 L229.5 313.7 L230 313.7 L230.5 313.7 L231 313.7 L231.5 313.7 L232 313.7 L232.5 313.7 L233 313.7 L233.5 313.7 L234 313.7 L234.5 313.7 L235 313.7 L235.5 313.7 L236 313.7 L236.5 313.7 L237 313.7 L237.5 313.7 L238 313.7 L238.5 313.7 L239 313.7 L239.5 313.7 L240 313.7 L240.5 313.7 L241 313.7 L241.5 313.7 L242 313.7 L242.5 313.7 L243 313.7 L243.5 313.7 L244 313.7 L244.5 313.7 L245 313.7 L245.5 313.7 L246 313.7 L246.5 313.7 L247 313.7 L247.5 313.7 L248 313.7 L248.5 313.7 L249 313.7 L249.5 313.7 L250 313.7 L250.5 313.7 L251 313.7 L251.5 313.7 L252 313.7 L252.5 313.7 L253 313.7 L253.5 313.7 L254 313.7 L254.5 313.7 L255 313.7 L255.5 313.7 L256 313.7 L256.5 313.7 L257 313.7 L257.5 313.7 L258 313.7 L258.5 313.7 L259 313.7 L259.5 313.7 L260 313.7 L260.5 313.7 L261 313.7 L261.5 313.7 L262 313.7 L262.5 313.7 L263 313.7 L263.5 313.7 L264 313.7 L264.5 313.7 L265 313.7 L265.5 313.7 L266 313.7 L266.5 313.7 L267 313.7 L267.5 313.7 L268 313.7 L268.5 313.7 L269 313.7 L269.5 313.7 L270 313.7 L270.5 313.7 L271 313.7 L271.5 313.7 L272 313.7 L272.5 313.7 L273 313.7 L273.5 313.7 L274 313.7 L274.5 313.7 L275 313.7 L275.5 313.7 L276 313.7 L276.5 313.7 L277 313.7 L277.5 313.7 L278 313.7 L278.5 313.7 L279 313.7 L279.5 313.7 L280 313.7 L280.5 313.7 L281 313.7 L281.5 313.7 L282 313.7 L282.5 313.7 L283 313.7 L283.5 313.7 L284 313.7 L284.5 313.7 L285 313.7 L285.5 313.7 L286 313.7 L286.5 313.7 L287 313.7 L287.5 313.7 L288 313.7 L288.5 313.7 L289 313.7 L289.5 313.7 L290 313.7 L290.5 313.7 L291 313.7 L291.5 313.7 L292 313.7 L292.5 313.7 L293 313.7 L293.5 313.7 L294 313.7 L294.5 313.7 L295 313.7 L295.5 313.7 L296 313.7 L296.5 313.7 L297 313.7 L297.5 313.7 L298 313.7 L298.5 313.7 L299 313.7 L299.5 313.7 L300 313.7 L300.5 313.7 L301 313.7 L301.5 313.7 L302 313.7 L302.5 313.7 L303 313.7 L303.5 313.7 L304 313.7 L304.5 313.7 L305 313.7 L305.5 313.7 L306 313.7 L306.5 313.7 L307 313.7 L307.5 313.7 L308 313.7 L308.5 313.7 L309 313.7 L309.5 313.7 L310 313.7 L310.5 313.7 L311 313.7 L311.5 313.7 L312 313.7 L312.5 313.7 L313 313.7 L313.5 313.7 L314 313.7 L314.5 313.7 L315 313.7 L315.5 313.7 L316 313.7 L316.5 313.7 L317 313.7 L317.5 313.7 L318 313.7 L318.5 313.7 L319 313.7 L319.5 313.7 L320 313.7 L320.5 313.7 L321 313.7 L321.5 313.7 L322 313.7 L322.5 313.7 L323 313.7 L323.5 313.7 L324 313.7 L324.5 313.7 L325 313.7 L325.5 313.7 L326 313.7 L326.5 313.7 L327 313.7 L327.5 313.7 L328 312.7 L328.5 312.64 L329 312.57 L329.5 312.51 L330 312.42 L330.5 312.39 L331 312.3 L331.5 312.26 L332 312.17 L332.5 312.1 L333 312.08 L333.5 312.02 L334 311.99 L334.5 311.94 L335 311.81 L335.5 311.72 L336 311.68 L336.5 311.73 L337 311.85 L337.5 311.93 L338 311.96 L338.5 312.06 L339 312.13 L339.5 312.17 L340 312.16 L340.5 312.24 L341 312.32 L341.5 312.35 L342 312.43 L342.5 312.51 L343 312.57 L343.5 312.64 L344 312.7 L344.5 313.7 L345 313.7 L345.5 313.7 L346 313.7 L346.5 313.7 L347 313.7 L347.5 313.7 L348 313.7 L348.5 313.7 L349 313.7 L349.5 313.7 L350 313.7 L350.5 313.7 L351 313.7 L351.5 313.7 L352 313.7 L352.5 313.7 L353 313.7 L353.5 313.7 L354 313.7 L354.5 313.7 L355 313.7 L355.5 313.7 L356 313.7 L356.5 313.7 L357 313.7 L357.5 312.95 L358 312.18 L358.5 311.93 L359 311.69 L359.5 311.95 L360 312.18 L360.5 312.57 L361 312.95 L361.5 313.7 L362 313.7 L362.5 313.7 L363 313.7 L363.5 313.7 L364 313.7 L364.5 313.7 L365 313.7 L365.5 313.7 L366 313.7 L366.5 313.7 L367 313.7 L367.5 313.7 L368 313.7 L368.5 313.7 L369 313.7 L369.5 313.7 L370 313.7 L370.5 313.7 L371 313.7 L371.5 313.7 L372 313.7 L372.5 313.7 L373 313.7 L373.5 313.7 L374 313.7 L374.5 313.7 L375 313.7 L375.5 313.7 L376 313.7 L376.5 313.7 L377 313.7 L377.5 313.7 L378 313.7 L378.5 313.7 L379 313.7 L379.5 313.7 L380 313.7 L380.5 313.7 L381 313.7 L381.5 313.7 L382 313.7 L382.5 313.7 L383 313.7 L383.5 313.7 L384 313.7 L384.5 313.7 L385 313.7 L385.5 313.7 L386 313.7 L386.5 313.7 L387 313.7 L387.5 313.7 L388 313.7 L388.5 313.7 L389 313.7 L389.5 313.7 L390 313.7 L390.5 313.7 L391 313.7 L391.5 313.7 L392 313.7 L392.5 313.7 L393 313.7 L393.5 313.7 L394 313.7 L394.5 313.7 L395 313.7 L395.5 313.7 L396 313.7 L396.5 313.7 L397 313.7 L397.5 313.7 L398 313.7 L398.5 313.7 L399 313.7 L399.5 313.7 L400 313.7 L400.5 313.7 L401 313.7 L401.5 313.7 L402 313.7 L402.5 313.7 L403 313.7 L403.5 313.7 L404 313.7 L404.5 313.7 L405 313.7 L405.5 313.7 L406 313.7 L406.5 313.7 L407 313.7 L407.5 313.7 L408 313.7 L408.5 313.7 L409 313.7 L409.5 313.7 L410 313.7 L410.5 313.7 L411 313.7 L411.5 313.7 L412 313.7 L412.5 313.7 L413 313.7 L413.5 313.7 L414 313.7 L414.5 313.7 L415 313.7 L415.5 313.7 L416 313.7 L416.5 313.7 L417 313.7 L417.5 313.7 L418 313.7 L418.5 313.7 L419 313.7 L419.5 313.7 L420 313.7 L420.5 313.7 L421 313.7 L421.5 313.7 L422 313.7 L422.5 313.7 L423 313.7 L423.5 313.7 L424 313.7 L424.5 313.7 L425 313.7 L425.5 313.7 L426 313.7 L426.5 313.7 L427 313.7 L427.5 313.7 L428 313.7 L428.5 313.7 L429 313.7 L429.5 313.7 L430 313.7 L430.5 313.7 L431 313.7 L431.5 313.7 L432 313.7 L432.5 313.7 L433 313.7 L433.5 313.7 L434 313.7 L434.5 313.7 L435 313.7 L435.5 313.7 L436 313.7 L436.5 313.7 L437 313.7 L437.5 313.7 L438 313.7 L438.5 313.7 L439 313.7 L439.5 313.7 L440 313.7 L440.5 313.7 L441 313.7 L441.5 313.7 L442 313.7 L442.5 313.7 L443 313.7 L443.5 313.7 L444 313.7 L444.5 313.7 L445 313.7 L445.5 313.7 L446 313.7 L446.5 313.7 L447 313.7 L447.5 313.7 L448 313.7 L448.5 313.7 L449 313.7 L449.5 313.7 L450 313.7 L450.5 313.7 L451 313.7 L451.5 313.7 L452 313.7 L452.5 313.7 L453 313.7 L453.5 313.7 L454 313.7 L454.5 313.7 L455 313.7 L455.5 313.7 L456 313.7 L456.5 313.7 L457 313.7 L457.5 313.7 L458 313.7 L458.5 313.7 L459 313.7 L459.5 313.7 L460 313.7 L460.5 313.7 L461 313.7 L461.5 313.7 L462 313.7 L462.5 313.7 L463 313.7 L463.5 313.7 L464 313.7 L464.5 313.7 L465 313.7 L465.5 313.7 L466 313.7 L466.5 313.7 L467 313.7 L467.5 313.7 L468 313.7 L468.5 313.7 L469 313.7 L469.5 313.7 L470 313.7 L470.5 313.7 L471 313.7 L471.5 313.7 L472 313.7 L472.5 313.7 L473 313.7 L473.5 313.7 L474 313.7 L474.5 313.7 L475 313.7 L475.5 313.7 L476 313.7 L476.5 313.7 L477 313.7 L477.5 313.7 L478 313.7 L478.5 313.7 L479 313.7 L479.5 313.7 L480 313.7 L480.5 313.7 L481 313.7 L481.5 313.7 L482 313.7 L482.5 313.7 L483 313.7 L483.5 313.7 L484 313.7 L484.5 313.7 L485 313.7 L485.5 313.7 L486 313.7 L486.5 313.7 L487 313.7 L487.5 313.7 L488 313.7 L488.5 313.7 L489 313.7 L489.5 313.7 L490 313.7 L490.5 313.7 L491 313.7 L491.5 313.7 L492 313.7 L492.5 313.7 L493 313.7 L493.5 313.7 L494 313.7 L494.5 313.7 L495 313.7 L495.5 313.7 L496 313.7 L496.5 313.7 L497 313.7 L497.5 313.7 L498 313.7 L498.5 313.7 L499 313.7 L499.5 313.7 L500 313.7 L500.5 313.7 L501 313.7 L501.5 313.7 L502 313.7 L502.5 313.7 L503 313.7 L503.5 313.7 L504 313.7 L504.5 313.7 L505 313.7 L505.5 313.7 L506 313.7 L506.5 313.7 L507 313.7 L507.5 313.7 L508 313.7 L508.5 313.7 L509 313.7 L509.5 313.7 L510 313.7 L510.5 313.7 L511 313.7 L511.5 313.7 L512 313.7 L512.5 313.7 L512.5 313.7 Z" fill="#8a8a8a"/>
<line x1="99" y1="326.5" x2="512.5" y2="326.5" stroke="#dcdcdc" stroke-width="0.8" />
<path d="M99 326.9 L99 326.9 L99.5 326.9 L100 326.9 L100.5 326.9 L101 326.9 L101.5 326.9 L102 326.9 L102.5 326.9 L103 326.9 L103.5 326.9 L104 326.9 L104.5 326.9 L105 326.9 L105.5 326.9 L106 326.9 L106.5 326.9 L107 326.9 L107.5 326.9 L108 326.9 L108.5 326.9 L109 326.9 L109.5 326.9 L110 326.9 L110.5 326.9 L111 326.9 L111.5 326.9 L112 326.9 L112.5 326.9 L113 326.9 L113.5 326.9 L114 326.9 L114.5 326.9 L115 326.9 L115.5 326.9 L116 326.9 L116.5 326.9 L117 326.9 L117.5 326.9 L118 326.9 L118.5 326.9 L119 326.9 L119.5 326.9 L120 326.9 L120.5 326.9 L121 326.9 L121.5 326.9 L122 326.9 L122.5 326.9 L123 326.9 L123.5 325.77 L124 325.1 L124.5 324.46 L125 323.82 L125.5 323.05 L126 322.23 L126.5 321.28 L127 320.41 L127.5 319.65 L128 318.67 L128.5 318.16 L129 318.05 L129.5 317.62 L130 316.72 L130.5 316.25 L131 316.4 L131.5 316.66 L132 316.47 L132.5 316.62 L133 316.94 L133.5 317.97 L134 318.76 L134.5 319.95 L135 320.96 L135.5 320.35 L136 319.35 L136.5 318.58 L137 317.47 L137.5 316.41 L138 316.38 L138.5 316.39 L139 316.72 L139.5 317.86 L140 318.92 L140.5 319.62 L141 320.15 L141.5 320.74 L142 321.35 L142.5 321.75 L143 322.3 L143.5 322.9 L144 323.34 L144.5 323.91 L145 324.43 L145.5 324.94 L146 325.41 L146.5 325.69 L147 325.9 L147.5 326.15 L148 326.9 L148.5 326.9 L149 326.9 L149.5 326.9 L150 326.9 L150.5 326.9 L151 326.9 L151.5 326.9 L152 326.9 L152.5 326.9 L153 326.9 L153.5 326.9 L154 326.9 L154.5 326.9 L155 326.9 L155.5 326.9 L156 326.9 L156.5 326.9 L157 326.9 L157.5 326.9 L158 326.9 L158.5 326.9 L159 326.9 L159.5 326.9 L160 326.9 L160.5 326.9 L161 326.9 L161.5 326.9 L162 326.9 L162.5 326.9 L163 326.9 L163.5 326.9 L164 326.9 L164.5 326.9 L165 326.9 L165.5 326.9 L166 326.9 L166.5 326.9 L167 326.9 L167.5 326.9 L168 326.9 L168.5 326.9 L169 326.9 L169.5 326.9 L170 326.9 L170.5 326.9 L171 326.9 L171.5 326.9 L172 326.9 L172.5 326.9 L173 326.9 L173.5 326.9 L174 326.9 L174.5 326.9 L175 326.9 L175.5 326.9 L176 326.9 L176.5 326.9 L177 326.9 L177.5 326.9 L178 326.9 L178.5 326.9 L179 326.9 L179.5 326.9 L180 326.9 L180.5 326.9 L181 326.9 L181.5 326.9 L182 326.9 L182.5 326.9 L183 326.9 L183.5 326.9 L184 326.9 L184.5 326.9 L185 326.9 L185.5 326.9 L186 326.9 L186.5 326.9 L187 326.9 L187.5 326.9 L188 326.9 L188.5 326.9 L189 326.9 L189.5 326.9 L190 326.9 L190.5 326.9 L191 326.9 L191.5 326.9 L192 326.9 L192.5 326.9 L193 326.9 L193.5 326.9 L194 326.9 L194.5 326.9 L195 326.9 L195.5 326.9 L196 326.9 L196.5 326.9 L197 326.9 L197.5 326.9 L198 326.9 L198.5 326.9 L199 326.9 L199.5 326.9 L200 326.9 L200.5 326.9 L201 326.9 L201.5 326.9 L202 326.9 L202.5 326.9 L203 326.9 L203.5 326.9 L204 326.9 L204.5 326.9 L205 326.9 L205.5 326.9 L206 326.9 L206.5 326.9 L207 326.9 L207.5 326.9 L208 326.9 L208.5 326.9 L209 326.9 L209.5 326.9 L210 326.9 L210.5 326.9 L211 326.9 L211.5 326.9 L212 326.9 L212.5 326.9 L213 326.9 L213.5 326.9 L214 326.9 L214.5 326.9 L215 326.9 L215.5 326.9 L216 326.9 L216.5 326.9 L217 326.9 L217.5 326.9 L218 326.9 L218.5 326.9 L219 326.9 L219.5 326.9 L220 326.9 L220.5 326.9 L221 326.9 L221.5 326.9 L222 326.9 L222.5 326.9 L223 326.9 L223.5 326.9 L224 326.9 L224.5 326.9 L225 326.9 L225.5 326.9 L226 326.9 L226.5 326.9 L227 326.9 L227.5 326.9 L228 326.9 L228.5 326.9 L229 326.9 L229.5 326.9 L230 326.9 L230.5 326.9 L231 326.9 L231.5 326.9 L232 326.9 L232.5 326.9 L233 326.9 L233.5 326.9 L234 326.9 L234.5 326.9 L235 326.9 L235.5 326.9 L236 326.9 L236.5 326.9 L237 326.9 L237.5 326.9 L238 326.9 L238.5 326.9 L239 326.9 L239.5 326.9 L240 326.9 L240.5 326.9 L241 326.9 L241.5 326.9 L242 326.9 L242.5 326.9 L243 326.9 L243.5 326.9 L244 326.9 L244.5 326.9 L245 326.9 L245.5 326.9 L246 326.9 L246.5 326.9 L247 326.9 L247.5 326.9 L248 326.9 L248.5 326.9 L249 326.9 L249.5 326.9 L250 326.9 L250.5 326.9 L251 326.9 L251.5 326.9 L252 326.9 L252.5 326.9 L253 326.9 L253.5 326.9 L254 326.9 L254.5 326.9 L255 326.9 L255.5 326.9 L256 326.9 L256.5 326.9 L257 326.9 L257.5 326.9 L258 326.9 L258.5 326.9 L259 326.9 L259.5 326.9 L260 326.9 L260.5 326.9 L261 326.9 L261.5 326.9 L262 326.9 L262.5 326.9 L263 326.9 L263.5 326.9 L264 326.9 L264.5 326.9 L265 326.9 L265.5 326.9 L266 326.9 L266.5 326.9 L267 326.9 L267.5 326.9 L268 326.9 L268.5 326.9 L269 326.9 L269.5 326.9 L270 326.9 L270.5 326.9 L271 326.9 L271.5 326.9 L272 326.9 L272.5 326.9 L273 326.9 L273.5 326.9 L274 326.9 L274.5 326.9 L275 326.9 L275.5 326.9 L276 326.9 L276.5 326.9 L277 326.9 L277.5 326.9 L278 326.9 L278.5 326.9 L279 326.9 L279.5 326.9 L280 326.9 L280.5 326.9 L281 326.9 L281.5 326.9 L282 326.9 L282.5 326.9 L283 326.9 L283.5 326.9 L284 326.9 L284.5 326.23 L285 326.07 L285.5 325.9 L286 325.73 L286.5 325.58 L287 325.43 L287.5 325.37 L288 325.27 L288.5 325.18 L289 325.04 L289.5 324.93 L290 324.84 L290.5 324.85 L291 324.86 L291.5 324.86 L292 324.89 L292.5 324.94 L293 324.93 L293.5 324.9 L294 324.91 L294.5 324.92 L295 324.86 L295.5 324.79 L296 324.72 L296.5 324.64 L297 324.6 L297.5 324.51 L298 324.35 L298.5 324.45 L299 324.56 L299.5 324.6 L300 324.67 L300.5 324.79 L301 324.85 L301.5 325.05 L302 325.25 L302.5 325.4 L303 325.58 L303.5 325.73 L304 325.9 L304.5 326.02 L305 326.15 L305.5 326.27 L306 326.9 L306.5 326.9 L307 326.9 L307.5 326.9 L308 326.9 L308.5 326.9 L309 326.9 L309.5 326.9 L310 326.9 L310.5 326.9 L311 326.23 L311.5 326.15 L312 326.07 L312.5 325.98 L313 325.9 L313.5 325.65 L314 325.36 L314.5 325.09 L315 324.86 L315.5 324.86 L316 324.79 L316.5 324.68 L317 324.54 L317.5 324.49 L318 324.37 L318.5 324.23 L319 324.19 L319.5 324.16 L320 324.08 L320.5 324.01 L321 323.95 L321.5 323.77 L322 323.7 L322.5 323.7 L323 323.57 L323.5 323.54 L324 323.4 L324.5 323.29 L325 323.07 L325.5 322.93 L326 322.65 L326.5 322.48 L327 322.29 L327.5 322.5 L328 322.59 L328.5 322.62 L329 322.69 L329.5 322.86 L330 322.85 L330.5 322.67 L331 322.62 L331.5 322.45 L332 322.2 L332.5 321.96 L333 321.73 L333.5 321.6 L334 321.56 L334.5 321.59 L335 321.34 L335.5 320.88 L336 320.34 L336.5 319.98 L337 319.77 L337.5 319.37 L338 319.46 L338.5 319.98 L339 320.71 L339.5 321.36 L340 321.78 L340.5 322.29 L341 322.86 L341.5 323.09 L342 323.32 L342.5 323.59 L343 323.87 L343.5 324.11 L344 324.34 L344.5 324.62 L345 324.87 L345.5 324.89 L346 324.87 L346.5 324.89 L347 324.93 L347.5 324.88 L348 324.93 L348.5 324.97 L349 324.97 L349.5 324.94 L350 324.9 L350.5 325.06 L351 325.25 L351.5 325.43 L352 325.57 L352.5 325.73 L353 325.9 L353.5 325.9 L354 325.9 L354.5 325.9 L355 325.9 L355.5 325.64 L356 325.4 L356.5 325.13 L357 324.87 L357.5 324.19 L358 323.49 L358.5 322.79 L359 321.82 L359.5 322.7 L360 323.36 L360.5 323.85 L361 324.48 L361.5 325.21 L362 325.9 L362.5 325.9 L363 325.9 L363.5 325.9 L364 325.9 L364.5 325.9 L365 325.9 L365.5 325.9 L366 325.9 L366.5 326.9 L367 326.9 L367.5 326.9 L368 326.9 L368.5 326.9 L369 326.9 L369.5 326.9 L370 326.9 L370.5 326.9 L371 326.9 L371.5 326.9 L372 326.9 L372.5 326.9 L373 326.9 L373.5 326.9 L374 326.9 L374.5 326.9 L375 326.9 L375.5 326.9 L376 326.9 L376.5 326.9 L377 326.9 L377.5 326.9 L378 326.9 L378.5 326.9 L379 326.9 L379.5 326.9 L380 326.9 L380.5 326.9 L381 326.9 L381.5 326.9 L382 326.9 L382.5 326.9 L383 326.9 L383.5 326.9 L384 326.9 L384.5 326.9 L385 326.9 L385.5 326.9 L386 326.9 L386.5 326.9 L387 326.9 L387.5 326.9 L388 326.9 L388.5 326.9 L389 326.9 L389.5 326.9 L390 326.9 L390.5 326.9 L391 326.9 L391.5 326.9 L392 326.9 L392.5 326.9 L393 326.9 L393.5 326.9 L394 326.9 L394.5 326.9 L395 326.9 L395.5 326.9 L396 326.9 L396.5 326.9 L397 326.9 L397.5 326.9 L398 326.9 L398.5 326.9 L399 326.9 L399.5 326.9 L400 326.9 L400.5 326.9 L401 326.9 L401.5 326.9 L402 326.9 L402.5 326.9 L403 326.9 L403.5 326.9 L404 326.9 L404.5 326.9 L405 326.9 L405.5 326.9 L406 326.9 L406.5 326.9 L407 326.9 L407.5 326.9 L408 326.9 L408.5 326.9 L409 326.9 L409.5 326.9 L410 326.9 L410.5 326.9 L411 326.9 L411.5 326.9 L412 326.9 L412.5 326.9 L413 326.9 L413.5 326.9 L414 326.9 L414.5 326.9 L415 326.9 L415.5 326.9 L416 326.9 L416.5 326.9 L417 326.9 L417.5 326.9 L418 326.9 L418.5 326.9 L419 326.9 L419.5 326.9 L420 326.9 L420.5 326.9 L421 326.9 L421.5 326.9 L422 326.9 L422.5 326.9 L423 326.9 L423.5 326.9 L424 326.9 L424.5 326.9 L425 326.9 L425.5 326.9 L426 326.9 L426.5 326.9 L427 326.9 L427.5 326.9 L428 326.9 L428.5 326.9 L429 326.9 L429.5 326.9 L430 326.9 L430.5 326.9 L431 326.9 L431.5 326.9 L432 326.9 L432.5 326.9 L433 326.9 L433.5 326.9 L434 326.9 L434.5 326.9 L435 326.9 L435.5 326.9 L436 326.9 L436.5 326.9 L437 326.9 L437.5 326.9 L438 326.9 L438.5 326.9 L439 326.9 L439.5 326.9 L440 326.9 L440.5 326.9 L441 326.9 L441.5 326.9 L442 326.9 L442.5 326.9 L443 326.9 L443.5 326.9 L444 326.9 L444.5 326.9 L445 326.9 L445.5 326.9 L446 326.9 L446.5 326.9 L447 326.9 L447.5 326.9 L448 326.9 L448.5 326.9 L449 326.9 L449.5 326.9 L450 326.9 L450.5 326.9 L451 326.9 L451.5 326.9 L452 326.9 L452.5 326.9 L453 326.9 L453.5 326.9 L454 326.9 L454.5 326.9 L455 326.9 L455.5 326.9 L456 326.9 L456.5 326.9 L457 326.9 L457.5 326.9 L458 326.9 L458.5 326.9 L459 326.9 L459.5 326.9 L460 326.9 L460.5 326.9 L461 326.9 L461.5 326.9 L462 326.9 L462.5 326.9 L463 326.9 L463.5 326.9 L464 326.9 L464.5 326.9 L465 326.9 L465.5 326.9 L466 326.9 L466.5 326.9 L467 326.9 L467.5 326.9 L468 326.9 L468.5 326.9 L469 326.9 L469.5 326.9 L470 326.9 L470.5 326.9 L471 326.9 L471.5 326.9 L472 326.9 L472.5 326.9 L473 326.9 L473.5 326.9 L474 326.9 L474.5 326.9 L475 326.9 L475.5 326.9 L476 326.9 L476.5 326.9 L477 326.9 L477.5 326.9 L478 326.9 L478.5 326.9 L479 326.9 L479.5 326.9 L480 326.9 L480.5 326.9 L481 326.9 L481.5 326.9 L482 326.9 L482.5 326.9 L483 326.9 L483.5 326.9 L484 326.9 L484.5 326.9 L485 326.9 L485.5 326.9 L486 326.9 L486.5 326.9 L487 326.9 L487.5 326.9 L488 326.9 L488.5 326.9 L489 326.9 L489.5 326.9 L490 326.9 L490.5 326.9 L491 326.9 L491.5 326.9 L492 326.9 L492.5 326.9 L493 326.9 L493.5 326.9 L494 326.9 L494.5 326.9 L495 326.9 L495.5 326.9 L496 326.9 L496.5 326.9 L497 326.9 L497.5 326.9 L498 326.9 L498.5 326.9 L499 326.9 L499.5 326.9 L500 326.9 L500.5 326.9 L501 326.9 L501.5 326.9 L502 326.9 L502.5 326.9 L503 326.9 L503.5 326.9 L504 326.9 L504.5 326.9 L505 326.9 L505.5 326.9 L506 326.9 L506.5 326.9 L507 326.9 L507.5 326.9 L508 326.9 L508.5 326.9 L509 326.9 L509.5 326.9 L510 326.9 L510.5 326.9 L511 326.9 L511.5 326.9 L512 326.9 L512.5 326.9 L512.5 326.9 Z" fill="#8a8a8a"/>
<rect x="282.8" y="122.9" width="23" height="207.3" fill="#f8e5d6" style="mix-blend-mode:multiply"/>
<line x1="99" y1="331.5" x2="166.2" y2="331.5" stroke="#ababab" stroke-width="1" />
<line x1="424.3" y1="331.5" x2="511.7" y2="331.5" stroke="#ababab" stroke-width="1" />
<rect x="101.5" y="331" width="1.6" height="1" fill="#7878d8" />
<rect x="112.2" y="331" width="1.6" height="1" fill="#7878d8" />
<rect x="126.6" y="331" width="1.6" height="1" fill="#7878d8" />
<rect x="142.2" y="331" width="1.6" height="1" fill="#7878d8" />
<rect x="153" y="331" width="1.6" height="1" fill="#7878d8" />
<rect x="449.2" y="331" width="1.6" height="1" fill="#7878d8" />
<rect x="465.2" y="331" width="1.6" height="1" fill="#7878d8" />
<rect x="473.2" y="331" width="1.6" height="1" fill="#7878d8" />
<rect x="486.2" y="331" width="1.6" height="1" fill="#7878d8" />
<rect x="495.2" y="331" width="1.6" height="1" fill="#7878d8" />
<rect x="504.2" y="331" width="1.6" height="1" fill="#7878d8" />
<rect x="120.6" y="329.9" width="1.2" height="3.2" fill="#777" />
<path d="M130.2 331.5 l2.3 -1.9 v3.8 Z" fill="#000"/>
<ellipse cx="133.9" cy="331.5" rx="1.9" ry="1.8" fill="#000"/>
<rect x="133.7" y="330.4" width="3.4" height="2.2" fill="#000" />
<path d="M138.2 331.5 l-1.9 -1.5 v3 Z" fill="#000"/>
<rect x="159.8" y="329.7" width="4.2" height="3.6" fill="#000" rx="1.3"/>
<rect x="162.8" y="330.3" width="4.4" height="2.4" fill="#000" />
<path d="M326 331.5 l2.2 -1.7 h1.8 v3.4 h-1.8 Z" fill="#000"/>
<line x1="330" y1="331.5" x2="335" y2="331.5" stroke="#aaa" stroke-width="0.7" />
<path d="M340.7 331.5 l-2.2 -1.7 h-3.4 v3.4 h3.4 Z" fill="#000"/>
<rect x="422.3" y="330.2" width="16.4" height="2.6" fill="#000" rx="1.2"/>
<rect x="437.3" y="329.1" width="1.6" height="4.8" fill="#000" rx="0.6"/>
<rect x="442.7" y="329.1" width="1.6" height="4.8" fill="#000" rx="0.6"/>
<rect x="458.6" y="329.1" width="1.6" height="4.8" fill="#000" rx="0.6"/>
<rect x="479.4" y="329.1" width="1.6" height="4.8" fill="#000" rx="0.6"/>
<rect x="511.15" y="329.1" width="1.1" height="4.8" fill="#333" />
<text x="0" y="0" font-size="8.22" text-anchor="start" fill="#231f20" transform="translate(106.9 345.8) scale(0.9250 1)" >1700123020Rik</text>
<text x="0" y="0" font-size="8.22" text-anchor="start" fill="#231f20" transform="translate(322.9 345.6) scale(0.9250 1)" >Cebpe</text>
<text x="0" y="0" font-size="8.22" text-anchor="start" fill="#231f20" transform="translate(437.7 345.4) scale(0.9250 1)" >Slc7a8</text>
<text x="7.4" y="368.2" font-size="12.5" text-anchor="start" fill="#231f20" >C</text>
<text x="0" y="0" font-size="8.8" text-anchor="middle" fill="#231f20" transform="translate(38 406.6) rotate(-90) scale(1 1)" dominant-baseline="central">P300 ChIP-seq</text>
<text x="0" y="0" font-size="8.22" text-anchor="end" fill="#231f20" transform="translate(76.3 399.4) scale(0.9250 1)" ><tspan font-style="italic">My</tspan>eloid</text>
<text x="0" y="0" font-size="8.22" text-anchor="end" fill="#231f20" transform="translate(76.3 411.55) scale(0.9250 1)" >B-Cell</text>
<text x="0" y="0" font-size="8.22" text-anchor="end" fill="#231f20" transform="translate(76.3 426.1) scale(0.8788 1)" >HPC-7</text>
<line x1="79.6" y1="387.5" x2="79.6" y2="425.6" stroke="#231f20" stroke-width="1" />
<text x="0" y="0" font-size="8.22" text-anchor="start" fill="#231f20" transform="translate(83.2 395.3) scale(0.9250 1)" >5</text>
<text x="0" y="0" font-size="8.22" text-anchor="start" fill="#231f20" transform="translate(83.2 427.3) scale(0.9250 1)" >0</text>
<line x1="92.3" y1="397.5" x2="509.4" y2="397.5" stroke="#8984c4" stroke-width="0.9" />
<path d="M92.3 398 L92.3 398 L92.8 398 L93.3 397.34 L93.8 397.02 L94.3 396.74 L94.8 397.04 L95.3 397.36 L95.8 398 L96.3 398 L96.8 398 L97.3 398 L97.8 398 L98.3 398 L98.8 398 L99.3 398 L99.8 398 L100.3 398 L100.8 398 L101.3 398 L101.8 398 L102.3 398 L102.8 398 L103.3 398 L103.8 398 L104.3 398 L104.8 397.15 L105.3 397.28 L105.8 398 L106.3 398 L106.8 398 L107.3 398 L107.8 398 L108.3 398 L108.8 398 L109.3 398 L109.8 398 L110.3 398 L110.8 398 L111.3 397.39 L111.8 397.35 L112.3 397.31 L112.8 397.27 L113.3 397.23 L113.8 397.18 L114.3 397.14 L114.8 397.1 L115.3 397.06 L115.8 397.02 L116.3 396.86 L116.8 396.52 L117.3 396.17 L117.8 395.96 L118.3 395.6 L118.8 395.21 L119.3 395.35 L119.8 395.86 L120.3 396.02 L120.8 396.13 L121.3 396.35 L121.8 396.45 L122.3 396.37 L122.8 396.2 L123.3 396.13 L123.8 396.3 L124.3 396.63 L124.8 396.87 L125.3 396.95 L125.8 396.87 L126.3 396.91 L126.8 396.82 L127.3 396.75 L127.8 396.57 L128.3 396.23 L128.8 395.8 L129.3 395.7 L129.8 395.24 L130.3 394.94 L130.8 395.59 L131.3 395.96 L131.8 396.35 L132.3 396.66 L132.8 396.65 L133.3 396.58 L133.8 396.8 L134.3 396.88 L134.8 396.97 L135.3 396.95 L135.8 396.86 L136.3 396.82 L136.8 396.76 L137.3 396.59 L137.8 396.51 L138.3 396.86 L138.8 397.32 L139.3 398 L139.8 398 L140.3 398 L140.8 398 L141.3 398 L141.8 398 L142.3 398 L142.8 398 L143.3 398 L143.8 398 L144.3 398 L144.8 398 L145.3 398 L145.8 398 L146.3 398 L146.8 398 L147.3 398 L147.8 398 L148.3 398 L148.8 398 L149.3 398 L149.8 398 L150.3 398 L150.8 398 L151.3 398 L151.8 398 L152.3 398 L152.8 398 L153.3 398 L153.8 398 L154.3 398 L154.8 398 L155.3 398 L155.8 398 L156.3 397.24 L156.8 397.35 L157.3 398 L157.8 398 L158.3 398 L158.8 398 L159.3 398 L159.8 398 L160.3 398 L160.8 398 L161.3 398 L161.8 398 L162.3 398 L162.8 398 L163.3 398 L163.8 398 L164.3 398 L164.8 398 L165.3 398 L165.8 398 L166.3 398 L166.8 398 L167.3 397.1 L167.8 396.92 L168.3 397.25 L168.8 398 L169.3 398 L169.8 398 L170.3 397.17 L170.8 397.2 L171.3 398 L171.8 397.25 L172.3 396.97 L172.8 397.2 L173.3 398 L173.8 398 L174.3 398 L174.8 398 L175.3 398 L175.8 398 L176.3 398 L176.8 398 L177.3 398 L177.8 398 L178.3 398 L178.8 398 L179.3 398 L179.8 398 L180.3 398 L180.8 398 L181.3 398 L181.8 397.09 L182.3 397.17 L182.8 398 L183.3 398 L183.8 398 L184.3 398 L184.8 398 L185.3 398 L185.8 398 L186.3 398 L186.8 398 L187.3 398 L187.8 398 L188.3 398 L188.8 398 L189.3 398 L189.8 398 L190.3 398 L190.8 398 L191.3 398 L191.8 398 L192.3 398 L192.8 398 L193.3 398 L193.8 398 L194.3 398 L194.8 398 L195.3 398 L195.8 398 L196.3 398 L196.8 398 L197.3 398 L197.8 398 L198.3 398 L198.8 398 L199.3 398 L199.8 398 L200.3 398 L200.8 398 L201.3 398 L201.8 398 L202.3 398 L202.8 398 L203.3 398 L203.8 398 L204.3 398 L204.8 398 L205.3 398 L205.8 398 L206.3 398 L206.8 398 L207.3 398 L207.8 398 L208.3 398 L208.8 398 L209.3 398 L209.8 397.14 L210.3 396.88 L210.8 397.2 L211.3 398 L211.8 398 L212.3 398 L212.8 398 L213.3 398 L213.8 398 L214.3 398 L214.8 397.29 L215.3 398 L215.8 398 L216.3 398 L216.8 398 L217.3 397.21 L217.8 398 L218.3 398 L218.8 398 L219.3 398 L219.8 398 L220.3 398 L220.8 398 L221.3 398 L221.8 398 L222.3 398 L222.8 398 L223.3 398 L223.8 398 L224.3 398 L224.8 397.28 L225.3 396.9 L225.8 397.32 L226.3 398 L226.8 398 L227.3 398 L227.8 398 L228.3 398 L228.8 398 L229.3 398 L229.8 398 L230.3 398 L230.8 398 L231.3 398 L231.8 398 L232.3 398 L232.8 398 L233.3 398 L233.8 398 L234.3 398 L234.8 398 L235.3 398 L235.8 398 L236.3 398 L236.8 398 L237.3 398 L237.8 398 L238.3 398 L238.8 398 L239.3 398 L239.8 397.36 L240.3 396.95 L240.8 397.12 L241.3 398 L241.8 398 L242.3 398 L242.8 398 L243.3 398 L243.8 398 L244.3 398 L244.8 398 L245.3 398 L245.8 398 L246.3 398 L246.8 398 L247.3 397.25 L247.8 396.53 L248.3 395.69 L248.8 395.09 L249.3 395.85 L249.8 396.67 L250.3 397.25 L250.8 398 L251.3 398 L251.8 398 L252.3 398 L252.8 398 L253.3 398 L253.8 398 L254.3 398 L254.8 398 L255.3 398 L255.8 398 L256.3 398 L256.8 398 L257.3 398 L257.8 398 L258.3 398 L258.8 398 L259.3 398 L259.8 398 L260.3 398 L260.8 398 L261.3 398 L261.8 398 L262.3 398 L262.8 397.35 L263.3 397.1 L263.8 397.15 L264.3 397.11 L264.8 396.82 L265.3 397.05 L265.8 397.33 L266.3 398 L266.8 396.94 L267.3 397.2 L267.8 398 L268.3 398 L268.8 398 L269.3 398 L269.8 398 L270.3 398 L270.8 398 L271.3 398 L271.8 398 L272.3 398 L272.8 398 L273.3 398 L273.8 398 L274.3 398 L274.8 398 L275.3 398 L275.8 398 L276.3 398 L276.8 398 L277.3 398 L277.8 398 L278.3 398 L278.8 398 L279.3 398 L279.8 398 L280.3 398 L280.8 398 L281.3 398 L281.8 398 L282.3 398 L282.8 398 L283.3 396.75 L283.8 395.49 L284.3 394.02 L284.8 392.29 L285.3 390.95 L285.8 389.83 L286.3 388.24 L286.8 388.98 L287.3 391.31 L287.8 393.5 L288.3 396.13 L288.8 396.86 L289.3 396.84 L289.8 396.4 L290.3 394.56 L290.8 392.13 L291.3 390.74 L291.8 389.24 L292.3 389.99 L292.8 392.09 L293.3 393.5 L293.8 395.34 L294.3 397 L294.8 397.36 L295.3 398 L295.8 398 L296.3 397.17 L296.8 397.04 L297.3 397.36 L297.8 397.17 L298.3 397.12 L298.8 397.36 L299.3 398 L299.8 398 L300.3 398 L300.8 398 L301.3 398 L301.8 398 L302.3 398 L302.8 397.4 L303.3 397.16 L303.8 398 L304.3 398 L304.8 398 L305.3 398 L305.8 398 L306.3 398 L306.8 398 L307.3 398 L307.8 398 L308.3 398 L308.8 398 L309.3 398 L309.8 398 L310.3 398 L310.8 397.39 L311.3 398 L311.8 398 L312.3 398 L312.8 398 L313.3 398 L313.8 398 L314.3 397.35 L314.8 397.05 L315.3 396.83 L315.8 397.08 L316.3 397.38 L316.8 398 L317.3 398 L317.8 398 L318.3 398 L318.8 398 L319.3 398 L319.8 398 L320.3 398 L320.8 398 L321.3 398 L321.8 398 L322.3 398 L322.8 398 L323.3 398 L323.8 398 L324.3 398 L324.8 398 L325.3 398 L325.8 398 L326.3 398 L326.8 398 L327.3 398 L327.8 398 L328.3 397.25 L328.8 397.09 L329.3 397.4 L329.8 398 L330.3 398 L330.8 398 L331.3 398 L331.8 398 L332.3 398 L332.8 398 L333.3 398 L333.8 398 L334.3 397.2 L334.8 396.72 L335.3 396.58 L335.8 396.4 L336.3 396.33 L336.8 396.21 L337.3 396.12 L337.8 396.14 L338.3 396.48 L338.8 396.88 L339.3 396.93 L339.8 396.91 L340.3 396.81 L340.8 396.62 L341.3 396.46 L341.8 396.28 L342.3 395.91 L342.8 395.62 L343.3 395.36 L343.8 395.39 L344.3 395.92 L344.8 396.38 L345.3 396.51 L345.8 396.65 L346.3 396.82 L346.8 396.95 L347.3 397 L347.8 397 L348.3 397 L348.8 397 L349.3 397 L349.8 397 L350.3 396.85 L350.8 396.51 L351.3 396.36 L351.8 395.98 L352.3 395.45 L352.8 394.78 L353.3 394.22 L353.8 393.69 L354.3 394.59 L354.8 395.4 L355.3 396.15 L355.8 396.8 L356.3 397 L356.8 397 L357.3 397 L357.8 397 L358.3 397.15 L358.8 398 L359.3 398 L359.8 398 L360.3 397.3 L360.8 397.11 L361.3 398 L361.8 398 L362.3 398 L362.8 398 L363.3 398 L363.8 398 L364.3 398 L364.8 398 L365.3 398 L365.8 398 L366.3 398 L366.8 398 L367.3 398 L367.8 398 L368.3 398 L368.8 398 L369.3 398 L369.8 398 L370.3 398 L370.8 398 L371.3 398 L371.8 398 L372.3 398 L372.8 398 L373.3 398 L373.8 398 L374.3 398 L374.8 398 L375.3 398 L375.8 398 L376.3 398 L376.8 398 L377.3 398 L377.8 398 L378.3 397.27 L378.8 398 L379.3 398 L379.8 398 L380.3 398 L380.8 398 L381.3 398 L381.8 398 L382.3 398 L382.8 398 L383.3 398 L383.8 398 L384.3 398 L384.8 398 L385.3 398 L385.8 398 L386.3 398 L386.8 398 L387.3 398 L387.8 398 L388.3 398 L388.8 398 L389.3 398 L389.8 398 L390.3 398 L390.8 398 L391.3 398 L391.8 398 L392.3 398 L392.8 398 L393.3 398 L393.8 398 L394.3 398 L394.8 398 L395.3 398 L395.8 398 L396.3 398 L396.8 398 L397.3 398 L397.8 398 L398.3 398 L398.8 398 L399.3 398 L399.8 398 L400.3 398 L400.8 398 L401.3 398 L401.8 398 L402.3 398 L402.8 398 L403.3 398 L403.8 398 L404.3 398 L404.8 398 L405.3 398 L405.8 398 L406.3 398 L406.8 398 L407.3 398 L407.8 398 L408.3 398 L408.8 398 L409.3 397.27 L409.8 396.95 L410.3 397.04 L410.8 397.37 L411.3 398 L411.8 398 L412.3 398 L412.8 398 L413.3 398 L413.8 398 L414.3 398 L414.8 398 L415.3 398 L415.8 398 L416.3 398 L416.8 398 L417.3 398 L417.8 398 L418.3 398 L418.8 398 L419.3 398 L419.8 398 L420.3 398 L420.8 398 L421.3 398 L421.8 398 L422.3 398 L422.8 398 L423.3 398 L423.8 398 L424.3 398 L424.8 398 L425.3 398 L425.8 398 L426.3 398 L426.8 398 L427.3 398 L427.8 398 L428.3 398 L428.8 398 L429.3 398 L429.8 398 L430.3 398 L430.8 398 L431.3 398 L431.8 398 L432.3 398 L432.8 398 L433.3 397.24 L433.8 398 L434.3 397.1 L434.8 396.58 L435.3 395.97 L435.8 396.45 L436.3 396.9 L436.8 398 L437.3 398 L437.8 398 L438.3 398 L438.8 398 L439.3 398 L439.8 398 L440.3 398 L440.8 398 L441.3 398 L441.8 398 L442.3 398 L442.8 398 L443.3 398 L443.8 398 L444.3 398 L444.8 398 L445.3 398 L445.8 398 L446.3 398 L446.8 398 L447.3 398 L447.8 398 L448.3 398 L448.8 398 L449.3 398 L449.8 398 L450.3 398 L450.8 398 L451.3 398 L451.8 398 L452.3 398 L452.8 397.08 L453.3 397.28 L453.8 398 L454.3 398 L454.8 398 L455.3 398 L455.8 398 L456.3 397.17 L456.8 397.08 L457.3 397.34 L457.8 398 L458.3 398 L458.8 398 L459.3 398 L459.8 398 L460.3 398 L460.8 398 L461.3 398 L461.8 397.14 L462.3 398 L462.8 398 L463.3 398 L463.8 398 L464.3 398 L464.8 398 L465.3 398 L465.8 398 L466.3 398 L466.8 398 L467.3 398 L467.8 398 L468.3 398 L468.8 398 L469.3 398 L469.8 398 L470.3 398 L470.8 398 L471.3 398 L471.8 398 L472.3 398 L472.8 398 L473.3 398 L473.8 398 L474.3 398 L474.8 398 L475.3 398 L475.8 398 L476.3 398 L476.8 398 L477.3 398 L477.8 398 L478.3 398 L478.8 398 L479.3 398 L479.8 398 L480.3 398 L480.8 398 L481.3 398 L481.8 398 L482.3 398 L482.8 398 L483.3 398 L483.8 398 L484.3 398 L484.8 398 L485.3 397.14 L485.8 396.87 L486.3 398 L486.8 398 L487.3 398 L487.8 398 L488.3 398 L488.8 398 L489.3 398 L489.8 398 L490.3 397.35 L490.8 398 L491.3 398 L491.8 398 L492.3 398 L492.8 398 L493.3 398 L493.8 398 L494.3 397.17 L494.8 397.37 L495.3 398 L495.8 398 L496.3 398 L496.8 398 L497.3 398 L497.8 398 L498.3 398 L498.8 398 L499.3 398 L499.8 398 L500.3 398 L500.8 398 L501.3 398 L501.8 398 L502.3 398 L502.8 398 L503.3 398 L503.8 398 L504.3 398 L504.8 398 L505.3 398 L505.8 398 L506.3 398 L506.8 398 L507.3 398 L507.8 398 L508.3 398 L508.8 398 L509.3 398 L509.3 398 Z" fill="#3b2c86"/>
<line x1="92.3" y1="410.3" x2="509.4" y2="410.3" stroke="#8984c4" stroke-width="0.9" />
<path d="M92.3 410.8 L92.3 410.8 L92.8 410.8 L93.3 410.8 L93.8 410.8 L94.3 410.8 L94.8 410.8 L95.3 410.8 L95.8 410.8 L96.3 410.8 L96.8 410.8 L97.3 410.8 L97.8 410.8 L98.3 410.8 L98.8 410.8 L99.3 410.8 L99.8 410.8 L100.3 410.8 L100.8 410.8 L101.3 410.8 L101.8 410.8 L102.3 410.8 L102.8 410.8 L103.3 410.8 L103.8 410.8 L104.3 410.8 L104.8 410.8 L105.3 410.8 L105.8 410.8 L106.3 410.8 L106.8 410.8 L107.3 410.18 L107.8 410.07 L108.3 410.8 L108.8 410.8 L109.3 410.8 L109.8 410.8 L110.3 410.8 L110.8 409.95 L111.3 409.65 L111.8 409.78 L112.3 410.09 L112.8 410.8 L113.3 410.8 L113.8 410.8 L114.3 410.8 L114.8 410.8 L115.3 410.8 L115.8 410.8 L116.3 410.8 L116.8 410.8 L117.3 410.07 L117.8 409.81 L118.3 409.86 L118.8 410.11 L119.3 410.8 L119.8 410.8 L120.3 410.8 L120.8 410.8 L121.3 410.8 L121.8 410.8 L122.3 410.8 L122.8 410.8 L123.3 410.8 L123.8 410.8 L124.3 410.1 L124.8 409.78 L125.3 409.36 L125.8 409.02 L126.3 408.88 L126.8 409.17 L127.3 409.31 L127.8 409.68 L128.3 409.73 L128.8 409.62 L129.3 409.63 L129.8 409.43 L130.3 409.6 L130.8 410.1 L131.3 410.8 L131.8 410.8 L132.3 410.8 L132.8 410.8 L133.3 410.8 L133.8 410.8 L134.3 410.8 L134.8 410.8 L135.3 410.8 L135.8 409.9 L136.3 409.76 L136.8 410.8 L137.3 410.8 L137.8 410.8 L138.3 410.8 L138.8 410.8 L139.3 410.8 L139.8 410.8 L140.3 410.8 L140.8 410.8 L141.3 410.8 L141.8 410.8 L142.3 410.8 L142.8 410.8 L143.3 410.8 L143.8 410.8 L144.3 410.8 L144.8 410.8 L145.3 410.04 L145.8 410.11 L146.3 410.12 L146.8 410.8 L147.3 410.8 L147.8 410.8 L148.3 410.8 L148.8 410.8 L149.3 410.8 L149.8 410.8 L150.3 410.8 L150.8 410.8 L151.3 410.8 L151.8 410.8 L152.3 410.8 L152.8 410.8 L153.3 410.8 L153.8 410.8 L154.3 410.8 L154.8 410.8 L155.3 410.8 L155.8 410.8 L156.3 410.8 L156.8 410.8 L157.3 410.8 L157.8 410.8 L158.3 410.8 L158.8 410.8 L159.3 410.8 L159.8 410.8 L160.3 410.8 L160.8 410.8 L161.3 410.8 L161.8 410.8 L162.3 410.8 L162.8 410.8 L163.3 410.8 L163.8 410.8 L164.3 410.8 L164.8 410.8 L165.3 410.8 L165.8 409.83 L166.3 409.86 L166.8 410.8 L167.3 410.8 L167.8 410.8 L168.3 410.8 L168.8 410.8 L169.3 410.8 L169.8 410.8 L170.3 410.8 L170.8 410.8 L171.3 410.8 L171.8 410.8 L172.3 410.8 L172.8 410.8 L173.3 410.8 L173.8 410.8 L174.3 410.01 L174.8 409.6 L175.3 409.89 L175.8 410.14 L176.3 410.8 L176.8 410.8 L177.3 410.8 L177.8 410.8 L178.3 410.8 L178.8 410.8 L179.3 410.8 L179.8 410.8 L180.3 410.8 L180.8 410.8 L181.3 410.8 L181.8 410.8 L182.3 410.8 L182.8 410.8 L183.3 410.8 L183.8 410.8 L184.3 410.8 L184.8 410.8 L185.3 410.8 L185.8 410.8 L186.3 410.8 L186.8 410.8 L187.3 410.8 L187.8 410.8 L188.3 410.8 L188.8 410.8 L189.3 410.8 L189.8 410.8 L190.3 410.8 L190.8 410.8 L191.3 410.8 L191.8 410.8 L192.3 410.8 L192.8 410.8 L193.3 410.8 L193.8 410.8 L194.3 410.8 L194.8 410.8 L195.3 410.8 L195.8 410.8 L196.3 410.8 L196.8 410.8 L197.3 410.8 L197.8 410.8 L198.3 410.8 L198.8 410.8 L199.3 410.8 L199.8 410.8 L200.3 410.8 L200.8 410.8 L201.3 410.8 L201.8 410.8 L202.3 410.8 L202.8 410.8 L203.3 410.8 L203.8 410.8 L204.3 410.8 L204.8 410.8 L205.3 410.8 L205.8 410.8 L206.3 410.8 L206.8 410.8 L207.3 410.8 L207.8 410.8 L208.3 410.8 L208.8 410.8 L209.3 410.8 L209.8 410.8 L210.3 410.8 L210.8 410.8 L211.3 410.8 L211.8 410.8 L212.3 410.8 L212.8 410.8 L213.3 410.8 L213.8 410.8 L214.3 410.8 L214.8 410.8 L215.3 410.8 L215.8 410.8 L216.3 410.8 L216.8 410.8 L217.3 410.8 L217.8 410.01 L218.3 409.75 L218.8 409.92 L219.3 410.18 L219.8 410.8 L220.3 410.8 L220.8 410.8 L221.3 410.8 L221.8 410.8 L222.3 410.8 L222.8 410.8 L223.3 410.8 L223.8 410.8 L224.3 410.8 L224.8 410.8 L225.3 410.8 L225.8 410.8 L226.3 410.8 L226.8 410.8 L227.3 410.8 L227.8 410.8 L228.3 410.8 L228.8 410.8 L229.3 410.8 L229.8 410.8 L230.3 410.8 L230.8 410.8 L231.3 410.8 L231.8 410.8 L232.3 410.8 L232.8 410.8 L233.3 410.8 L233.8 410.8 L234.3 410.8 L234.8 410.8 L235.3 410.8 L235.8 410.8 L236.3 410.8 L236.8 409.87 L237.3 409.91 L237.8 409.91 L238.3 410.09 L238.8 410.8 L239.3 410.8 L239.8 410.8 L240.3 410.8 L240.8 410.8 L241.3 410.8 L241.8 410.8 L242.3 410.8 L242.8 410.8 L243.3 410.8 L243.8 410.8 L244.3 410.8 L244.8 410.8 L245.3 410.8 L245.8 410.8 L246.3 410.8 L246.8 410.8 L247.3 410.8 L247.8 410.8 L248.3 410.8 L248.8 410.8 L249.3 410.8 L249.8 410.8 L250.3 410.8 L250.8 410.8 L251.3 410.8 L251.8 410.19 L252.3 409.88 L252.8 410 L253.3 410.8 L253.8 410.8 L254.3 410.8 L254.8 410.8 L255.3 410.8 L255.8 410.8 L256.3 410.8 L256.8 410.8 L257.3 410.8 L257.8 410.8 L258.3 410.8 L258.8 410.8 L259.3 410.8 L259.8 410.8 L260.3 410.8 L260.8 410.8 L261.3 410.8 L261.8 410.8 L262.3 410.8 L262.8 410.8 L263.3 410.8 L263.8 410.8 L264.3 410.8 L264.8 410.8 L265.3 410.8 L265.8 410.8 L266.3 410.8 L266.8 410.8 L267.3 410.8 L267.8 410.8 L268.3 410.8 L268.8 410.8 L269.3 410.8 L269.8 410.8 L270.3 410.12 L270.8 409.7 L271.3 410.8 L271.8 410.8 L272.3 410.8 L272.8 410.8 L273.3 410.8 L273.8 410.8 L274.3 410.8 L274.8 410.8 L275.3 410.8 L275.8 410.8 L276.3 410.8 L276.8 410.8 L277.3 410.8 L277.8 410.8 L278.3 410.8 L278.8 410.8 L279.3 410.8 L279.8 410.8 L280.3 410.8 L280.8 410.8 L281.3 410.8 L281.8 410.8 L282.3 410.8 L282.8 410.8 L283.3 410.8 L283.8 410.8 L284.3 410.8 L284.8 410.8 L285.3 410.8 L285.8 409.94 L286.3 409.71 L286.8 410.02 L287.3 410.8 L287.8 410.8 L288.3 410.8 L288.8 409.77 L289.3 409.88 L289.8 410.8 L290.3 410.8 L290.8 410.8 L291.3 410.8 L291.8 410.8 L292.3 410.8 L292.8 410.8 L293.3 410.8 L293.8 410.8 L294.3 410.8 L294.8 410.8 L295.3 410.8 L295.8 410.8 L296.3 410.8 L296.8 410.8 L297.3 410.8 L297.8 410.8 L298.3 410.8 L298.8 410.8 L299.3 410.1 L299.8 410.8 L300.3 410.8 L300.8 410.8 L301.3 410.8 L301.8 410.8 L302.3 410.8 L302.8 410.8 L303.3 410.8 L303.8 410.8 L304.3 410.8 L304.8 410.8 L305.3 410.8 L305.8 410.8 L306.3 410.8 L306.8 410.8 L307.3 410.8 L307.8 410.8 L308.3 410.8 L308.8 410.8 L309.3 410.8 L309.8 410.8 L310.3 410.8 L310.8 410.8 L311.3 410.8 L311.8 410.8 L312.3 410.05 L312.8 410.17 L313.3 410.8 L313.8 410.8 L314.3 410.8 L314.8 410.8 L315.3 410.8 L315.8 410.8 L316.3 410.8 L316.8 410.8 L317.3 410.8 L317.8 410.8 L318.3 410.8 L318.8 410.8 L319.3 410.8 L319.8 410.8 L320.3 410.8 L320.8 410.8 L321.3 410.8 L321.8 410.8 L322.3 410.8 L322.8 410.8 L323.3 410.8 L323.8 410.8 L324.3 410.8 L324.8 410.8 L325.3 410.8 L325.8 410.8 L326.3 410.8 L326.8 410.8 L327.3 410.8 L327.8 410.8 L328.3 410.15 L328.8 410.8 L329.3 410.8 L329.8 410.8 L330.3 410.8 L330.8 410.8 L331.3 410.8 L331.8 410.8 L332.3 410.8 L332.8 410.8 L333.3 410.8 L333.8 410.8 L334.3 410.8 L334.8 410.8 L335.3 410.8 L335.8 410.8 L336.3 410.8 L336.8 410.8 L337.3 410.11 L337.8 410.8 L338.3 410.8 L338.8 410.8 L339.3 410.8 L339.8 410.8 L340.3 410.8 L340.8 410.8 L341.3 410.8 L341.8 410.8 L342.3 410.8 L342.8 410 L343.3 410.1 L343.8 410.8 L344.3 410.1 L344.8 410.8 L345.3 410.8 L345.8 410.8 L346.3 410.8 L346.8 409.93 L347.3 409.62 L347.8 410.01 L348.3 410.8 L348.8 410.8 L349.3 410.8 L349.8 410.8 L350.3 410.8 L350.8 410.8 L351.3 410.8 L351.8 410.8 L352.3 410.8 L352.8 410.8 L353.3 410.8 L353.8 410.8 L354.3 410.8 L354.8 410.8 L355.3 410.8 L355.8 410.8 L356.3 410.15 L356.8 409.9 L357.3 409.95 L357.8 410.8 L358.3 410.15 L358.8 409.9 L359.3 409.95 L359.8 410.8 L360.3 410.8 L360.8 410.8 L361.3 410.8 L361.8 410.8 L362.3 410.8 L362.8 410.8 L363.3 410.08 L363.8 410.8 L364.3 410.8 L364.8 410.8 L365.3 410.8 L365.8 410.8 L366.3 410.8 L366.8 410.8 L367.3 410.8 L367.8 410.8 L368.3 410.8 L368.8 410.8 L369.3 410.8 L369.8 410.8 L370.3 410.8 L370.8 410.8 L371.3 410.8 L371.8 410.8 L372.3 410.8 L372.8 410.8 L373.3 410.8 L373.8 410.8 L374.3 410.8 L374.8 410.8 L375.3 410.8 L375.8 410.8 L376.3 409.79 L376.8 409.96 L377.3 410.8 L377.8 410.8 L378.3 410.8 L378.8 410.8 L379.3 410.8 L379.8 410.8 L380.3 410.8 L380.8 410.8 L381.3 410.8 L381.8 410.8 L382.3 410.8 L382.8 410.8 L383.3 410.8 L383.8 410.8 L384.3 410.8 L384.8 410.8 L385.3 410.8 L385.8 410.8 L386.3 410.8 L386.8 410.8 L387.3 410.8 L387.8 410.8 L388.3 410.8 L388.8 410.8 L389.3 410.8 L389.8 410.8 L390.3 410.8 L390.8 410.8 L391.3 410.8 L391.8 410.8 L392.3 410.8 L392.8 410.8 L393.3 410.8 L393.8 410.8 L394.3 410.8 L394.8 410.8 L395.3 410.8 L395.8 410.8 L396.3 410.8 L396.8 410.8 L397.3 410.8 L397.8 410.8 L398.3 410.8 L398.8 410.8 L399.3 410.8 L399.8 410.8 L400.3 410.8 L400.8 410.8 L401.3 410.8 L401.8 410.8 L402.3 410.8 L402.8 410.8 L403.3 410.8 L403.8 410.8 L404.3 410.8 L404.8 410.8 L405.3 410.8 L405.8 410.8 L406.3 410.8 L406.8 410.8 L407.3 410.8 L407.8 410.8 L408.3 410.8 L408.8 410.8 L409.3 410.8 L409.8 410.8 L410.3 410.18 L410.8 409.8 L411.3 410.01 L411.8 410.8 L412.3 410.8 L412.8 410.8 L413.3 410.8 L413.8 410.1 L414.3 410.8 L414.8 410.8 L415.3 410.8 L415.8 410.8 L416.3 410.8 L416.8 410.8 L417.3 410.8 L417.8 410.8 L418.3 410.8 L418.8 410.8 L419.3 410.8 L419.8 410.8 L420.3 410.8 L420.8 410.8 L421.3 410.8 L421.8 410.8 L422.3 410.8 L422.8 410.8 L423.3 410.8 L423.8 410.8 L424.3 410.8 L424.8 410.8 L425.3 410.8 L425.8 410.8 L426.3 410.8 L426.8 410.8 L427.3 410.8 L427.8 410.8 L428.3 410.8 L428.8 410.8 L429.3 410.8 L429.8 410.8 L430.3 410.8 L430.8 410.8 L431.3 410.8 L431.8 410.8 L432.3 410.8 L432.8 410.8 L433.3 410.8 L433.8 410.8 L434.3 410.8 L434.8 410.8 L435.3 410.8 L435.8 410.8 L436.3 410.8 L436.8 410.8 L437.3 410.8 L437.8 410.8 L438.3 410.8 L438.8 410.8 L439.3 410.8 L439.8 410.8 L440.3 410.8 L440.8 410.8 L441.3 410.8 L441.8 410.8 L442.3 410.8 L442.8 410.8 L443.3 410.8 L443.8 410.8 L444.3 410.8 L444.8 410.8 L445.3 410.8 L445.8 410.8 L446.3 410.8 L446.8 410.8 L447.3 410.8 L447.8 410.8 L448.3 410.8 L448.8 410.8 L449.3 410.8 L449.8 410.8 L450.3 410.8 L450.8 410.8 L451.3 410.8 L451.8 410.15 L452.3 409.89 L452.8 409.75 L453.3 409.51 L453.8 410.08 L454.3 410.8 L454.8 409.99 L455.3 410.8 L455.8 410.8 L456.3 410.8 L456.8 410.8 L457.3 410.8 L457.8 410.8 L458.3 410.8 L458.8 410.8 L459.3 410.8 L459.8 410.8 L460.3 410.8 L460.8 410.8 L461.3 410.8 L461.8 410.8 L462.3 410.8 L462.8 410.8 L463.3 410.8 L463.8 410.8 L464.3 410.8 L464.8 410.8 L465.3 410.8 L465.8 410.8 L466.3 410.8 L466.8 410.8 L467.3 410.8 L467.8 410.8 L468.3 410.8 L468.8 410.8 L469.3 410.8 L469.8 410.8 L470.3 410.8 L470.8 410.8 L471.3 410.8 L471.8 410.8 L472.3 410.8 L472.8 410.8 L473.3 410.8 L473.8 410.8 L474.3 410.8 L474.8 410.8 L475.3 410.8 L475.8 410.8 L476.3 410.8 L476.8 410.8 L477.3 410.8 L477.8 410.8 L478.3 410.8 L478.8 410.8 L479.3 410.8 L479.8 410.8 L480.3 410.8 L480.8 410.8 L481.3 410.8 L481.8 410.8 L482.3 410.8 L482.8 410.8 L483.3 410.8 L483.8 410.8 L484.3 410.8 L484.8 410.8 L485.3 410.8 L485.8 410.8 L486.3 410.8 L486.8 410.8 L487.3 410.8 L487.8 410.8 L488.3 410.8 L488.8 410.8 L489.3 410.8 L489.8 410.8 L490.3 410.8 L490.8 410.8 L491.3 410.8 L491.8 410.8 L492.3 410.8 L492.8 410.8 L493.3 410.8 L493.8 410.8 L494.3 410.8 L494.8 410.8 L495.3 410.8 L495.8 410.8 L496.3 410.06 L496.8 409.88 L497.3 410.1 L497.8 410.8 L498.3 410.8 L498.8 410.8 L499.3 410.8 L499.8 410.8 L500.3 410.8 L500.8 410.8 L501.3 410.8 L501.8 410.8 L502.3 410.8 L502.8 410.8 L503.3 410.8 L503.8 410.8 L504.3 410.8 L504.8 410.8 L505.3 410.8 L505.8 410.8 L506.3 410.8 L506.8 410.8 L507.3 410.8 L507.8 410.8 L508.3 410.8 L508.8 410.8 L509.3 410.8 L509.3 410.8 Z" fill="#3b2c86"/>
<line x1="92.3" y1="422.3" x2="509.4" y2="422.3" stroke="#8984c4" stroke-width="0.9" stroke-dasharray="3 6 1.5 5 5 7 2 4"/>
<path d="M92.3 422.8 L92.3 422.8 L92.8 422.8 L93.3 422.8 L93.8 422.8 L94.3 422.8 L94.8 422.8 L95.3 422.8 L95.8 422.8 L96.3 422.8 L96.8 422.8 L97.3 422.8 L97.8 422.8 L98.3 422.8 L98.8 422.8 L99.3 422.8 L99.8 422.8 L100.3 422.8 L100.8 422.8 L101.3 422.8 L101.8 422.8 L102.3 422.8 L102.8 422.8 L103.3 422.8 L103.8 422.8 L104.3 422.8 L104.8 422.8 L105.3 422.8 L105.8 422.8 L106.3 422.8 L106.8 422.8 L107.3 422.8 L107.8 422.8 L108.3 422.8 L108.8 422.8 L109.3 422.8 L109.8 422.8 L110.3 422.8 L110.8 421.91 L111.3 422.8 L111.8 422.8 L112.3 422.8 L112.8 422.8 L113.3 422.8 L113.8 422.8 L114.3 422.8 L114.8 422.8 L115.3 422.8 L115.8 422.8 L116.3 422.8 L116.8 422.8 L117.3 422.8 L117.8 422 L118.3 421.71 L118.8 421.59 L119.3 421.56 L119.8 421.5 L120.3 421.48 L120.8 421.73 L121.3 421.8 L121.8 421.8 L122.3 421.8 L122.8 421.8 L123.3 421.68 L123.8 421.48 L124.3 421.23 L124.8 421.16 L125.3 421.01 L125.8 421.08 L126.3 421.01 L126.8 421.07 L127.3 421.21 L127.8 421.27 L128.3 421.32 L128.8 421.22 L129.3 421.4 L129.8 421.41 L130.3 421.29 L130.8 421.27 L131.3 421.34 L131.8 421.33 L132.3 421.45 L132.8 421.48 L133.3 421.75 L133.8 422.8 L134.3 422.8 L134.8 422.8 L135.3 422.8 L135.8 422.8 L136.3 422.8 L136.8 422.8 L137.3 422.8 L137.8 422.8 L138.3 422.8 L138.8 422.8 L139.3 422.8 L139.8 422.8 L140.3 422.8 L140.8 422.8 L141.3 422.8 L141.8 422.8 L142.3 422.8 L142.8 422.8 L143.3 422.8 L143.8 422.8 L144.3 422.8 L144.8 422.8 L145.3 422.8 L145.8 422.8 L146.3 422.8 L146.8 422.8 L147.3 422.8 L147.8 422.8 L148.3 422.8 L148.8 422.8 L149.3 422.8 L149.8 422.8 L150.3 422.8 L150.8 422.8 L151.3 422.8 L151.8 422.8 L152.3 422.8 L152.8 422.8 L153.3 422.8 L153.8 422.8 L154.3 422.8 L154.8 422.8 L155.3 422.8 L155.8 422.8 L156.3 422.8 L156.8 422.8 L157.3 422.8 L157.8 422.8 L158.3 422.8 L158.8 422.8 L159.3 422.8 L159.8 422.8 L160.3 422.8 L160.8 422.8 L161.3 422.8 L161.8 422.8 L162.3 422.8 L162.8 422.8 L163.3 422.8 L163.8 422.8 L164.3 422.8 L164.8 422.8 L165.3 422.8 L165.8 422.8 L166.3 422.8 L166.8 422.8 L167.3 422.8 L167.8 422.8 L168.3 422.8 L168.8 422.8 L169.3 422.8 L169.8 422.8 L170.3 422.8 L170.8 422.8 L171.3 422.8 L171.8 422.8 L172.3 422.8 L172.8 422.8 L173.3 422.8 L173.8 422.8 L174.3 422.8 L174.8 422.8 L175.3 422.8 L175.8 422.8 L176.3 422.8 L176.8 422.8 L177.3 422.8 L177.8 422.8 L178.3 422.8 L178.8 422.8 L179.3 422.8 L179.8 422.8 L180.3 422.8 L180.8 421.97 L181.3 422.04 L181.8 422.8 L182.3 422.8 L182.8 422.8 L183.3 422.8 L183.8 422.8 L184.3 422.8 L184.8 422.8 L185.3 422.8 L185.8 422.8 L186.3 422.8 L186.8 422.8 L187.3 422.8 L187.8 422.8 L188.3 422.8 L188.8 422.8 L189.3 422.8 L189.8 422.8 L190.3 422.8 L190.8 422.8 L191.3 422.8 L191.8 422.8 L192.3 422.8 L192.8 422.8 L193.3 422.8 L193.8 422.8 L194.3 422.8 L194.8 422.8 L195.3 422.8 L195.8 422.8 L196.3 422.8 L196.8 422.8 L197.3 422.8 L197.8 422.8 L198.3 422.8 L198.8 422.8 L199.3 422.8 L199.8 422.8 L200.3 422.14 L200.8 422.8 L201.3 422.8 L201.8 422.8 L202.3 422.8 L202.8 422.8 L203.3 422.8 L203.8 422.8 L204.3 422.8 L204.8 422.8 L205.3 422.8 L205.8 422.8 L206.3 422.8 L206.8 422.8 L207.3 422.8 L207.8 422.8 L208.3 422.8 L208.8 422.8 L209.3 422.8 L209.8 422.8 L210.3 422.8 L210.8 422.8 L211.3 422.8 L211.8 422.8 L212.3 422.8 L212.8 422.8 L213.3 422.8 L213.8 422.8 L214.3 422.8 L214.8 422.8 L215.3 422.8 L215.8 422.8 L216.3 422.8 L216.8 422.15 L217.3 422.8 L217.8 422.8 L218.3 422.8 L218.8 422.8 L219.3 422.8 L219.8 422.8 L220.3 422.8 L220.8 422.8 L221.3 422.8 L221.8 422.8 L222.3 422.8 L222.8 422.8 L223.3 422.8 L223.8 422.8 L224.3 422.8 L224.8 422.8 L225.3 422.8 L225.8 422.8 L226.3 422.8 L226.8 422.8 L227.3 422.8 L227.8 422.8 L228.3 422.8 L228.8 422.8 L229.3 422.8 L229.8 422.8 L230.3 422.8 L230.8 422.8 L231.3 422.8 L231.8 422.8 L232.3 422.8 L232.8 422.8 L233.3 422.8 L233.8 422.8 L234.3 422.8 L234.8 422.8 L235.3 422.8 L235.8 422.8 L236.3 422.8 L236.8 422.8 L237.3 422.8 L237.8 422.8 L238.3 422.8 L238.8 422.8 L239.3 422.8 L239.8 422.8 L240.3 422.8 L240.8 422.8 L241.3 422.8 L241.8 422.8 L242.3 422.8 L242.8 422.8 L243.3 422.8 L243.8 422.8 L244.3 422.8 L244.8 422.8 L245.3 422.8 L245.8 422.8 L246.3 422.8 L246.8 422.8 L247.3 422.8 L247.8 422.8 L248.3 422.8 L248.8 422.8 L249.3 422.8 L249.8 421.93 L250.3 422 L250.8 422.8 L251.3 422.8 L251.8 422.05 L252.3 422.8 L252.8 422.8 L253.3 422.8 L253.8 422.8 L254.3 422.8 L254.8 422.8 L255.3 422.8 L255.8 422.8 L256.3 422.8 L256.8 422.8 L257.3 422.8 L257.8 422.8 L258.3 422.8 L258.8 422.8 L259.3 422.8 L259.8 422.8 L260.3 422.8 L260.8 422.8 L261.3 422.8 L261.8 422.8 L262.3 422.8 L262.8 422.8 L263.3 422.8 L263.8 422.8 L264.3 422.8 L264.8 422.8 L265.3 422.8 L265.8 422.8 L266.3 422.8 L266.8 422.8 L267.3 422.8 L267.8 422.8 L268.3 422.8 L268.8 422.8 L269.3 422.8 L269.8 422.8 L270.3 422.8 L270.8 422.8 L271.3 422.8 L271.8 422.8 L272.3 422.8 L272.8 422.8 L273.3 422.06 L273.8 422.8 L274.3 422.8 L274.8 422.8 L275.3 422.8 L275.8 422.8 L276.3 422.8 L276.8 422.8 L277.3 422.8 L277.8 422.8 L278.3 422.8 L278.8 422.8 L279.3 422.8 L279.8 422.8 L280.3 422.8 L280.8 422.8 L281.3 422.8 L281.8 422.8 L282.3 422.8 L282.8 422.8 L283.3 422.8 L283.8 422.8 L284.3 422.2 L284.8 421.12 L285.3 420.55 L285.8 420.42 L286.3 420.39 L286.8 420.94 L287.3 421.41 L287.8 421.46 L288.3 421.53 L288.8 421.6 L289.3 421.68 L289.8 421.77 L290.3 421.88 L290.8 422 L291.3 422.12 L291.8 422.8 L292.3 422.8 L292.8 421.84 L293.3 422.8 L293.8 422.8 L294.3 422.8 L294.8 422.8 L295.3 422.8 L295.8 422.8 L296.3 422.8 L296.8 422.8 L297.3 422.8 L297.8 422.8 L298.3 422.8 L298.8 422.8 L299.3 422.8 L299.8 422.8 L300.3 422.8 L300.8 422.8 L301.3 422.8 L301.8 422.8 L302.3 422.8 L302.8 422.8 L303.3 422.8 L303.8 422.8 L304.3 422.8 L304.8 422.8 L305.3 422.8 L305.8 422.8 L306.3 422.8 L306.8 422.8 L307.3 422.8 L307.8 422.8 L308.3 422.8 L308.8 422.8 L309.3 422.8 L309.8 422.8 L310.3 422.8 L310.8 422.8 L311.3 422.8 L311.8 422.8 L312.3 422.8 L312.8 422.8 L313.3 422.8 L313.8 422.8 L314.3 422.8 L314.8 422.8 L315.3 422.8 L315.8 422.8 L316.3 422.8 L316.8 422.8 L317.3 422.8 L317.8 422.8 L318.3 422.8 L318.8 422.8 L319.3 422.8 L319.8 422.8 L320.3 422.8 L320.8 422.8 L321.3 422.8 L321.8 422.8 L322.3 422.8 L322.8 422.8 L323.3 422.8 L323.8 422.8 L324.3 422.8 L324.8 422.8 L325.3 422.8 L325.8 422.8 L326.3 422.8 L326.8 422.8 L327.3 422.8 L327.8 422.8 L328.3 422.8 L328.8 422.8 L329.3 422.8 L329.8 422.8 L330.3 422.8 L330.8 422.8 L331.3 422.8 L331.8 422.8 L332.3 422.8 L332.8 422.8 L333.3 422.8 L333.8 422.8 L334.3 422.8 L334.8 422.8 L335.3 422.8 L335.8 422.8 L336.3 422.8 L336.8 422.8 L337.3 422.8 L337.8 422.8 L338.3 422.8 L338.8 422.8 L339.3 422.8 L339.8 422.8 L340.3 422.8 L340.8 422 L341.3 421.76 L341.8 421.7 L342.3 421.64 L342.8 421.43 L343.3 421.36 L343.8 421.43 L344.3 421.31 L344.8 421.21 L345.3 421.3 L345.8 421.32 L346.3 421.27 L346.8 421.37 L347.3 421.27 L347.8 421.16 L348.3 421.12 L348.8 421.23 L349.3 421.31 L349.8 421.16 L350.3 421.15 L350.8 421.33 L351.3 421.3 L351.8 421.37 L352.3 421.47 L352.8 421.43 L353.3 421.27 L353.8 421.44 L354.3 421.49 L354.8 421.41 L355.3 421.32 L355.8 421.37 L356.3 421.45 L356.8 421.35 L357.3 421.46 L357.8 421.52 L358.3 421.42 L358.8 421.52 L359.3 421.53 L359.8 421.58 L360.3 421.61 L360.8 421.63 L361.3 421.65 L361.8 421.67 L362.3 421.69 L362.8 421.71 L363.3 421.73 L363.8 421.75 L364.3 421.77 L364.8 421.79 L365.3 422.1 L365.8 422.8 L366.3 422.8 L366.8 422.8 L367.3 422.8 L367.8 422.8 L368.3 422.8 L368.8 422.8 L369.3 422.8 L369.8 422.8 L370.3 422.8 L370.8 422.8 L371.3 422.8 L371.8 422.8 L372.3 422.8 L372.8 422.8 L373.3 422.8 L373.8 422.8 L374.3 422.8 L374.8 422.8 L375.3 422.8 L375.8 422.8 L376.3 422.8 L376.8 422.8 L377.3 422.8 L377.8 422.8 L378.3 422.8 L378.8 422.8 L379.3 422.8 L379.8 422.8 L380.3 422.8 L380.8 422.8 L381.3 422.8 L381.8 422.8 L382.3 422.8 L382.8 422.8 L383.3 422.8 L383.8 422.8 L384.3 422.8 L384.8 422.8 L385.3 422.8 L385.8 422.8 L386.3 422.8 L386.8 422.8 L387.3 422.8 L387.8 422.8 L388.3 422.8 L388.8 422.8 L389.3 422.8 L389.8 422.8 L390.3 422.8 L390.8 422.8 L391.3 422.8 L391.8 422.8 L392.3 422.8 L392.8 422.8 L393.3 422.8 L393.8 422.8 L394.3 422.8 L394.8 422.8 L395.3 422.8 L395.8 422.8 L396.3 422.8 L396.8 422.8 L397.3 422.8 L397.8 422.8 L398.3 422.8 L398.8 422.8 L399.3 422.8 L399.8 422.8 L400.3 422.8 L400.8 422.8 L401.3 422.8 L401.8 422.8 L402.3 422.8 L402.8 422.8 L403.3 422.8 L403.8 422.8 L404.3 422.8 L404.8 422.8 L405.3 422.8 L405.8 422.8 L406.3 422.8 L406.8 422.8 L407.3 422.8 L407.8 422.8 L408.3 422.8 L408.8 422.8 L409.3 422.8 L409.8 422.8 L410.3 422.8 L410.8 422.8 L411.3 422.8 L411.8 422.8 L412.3 422.8 L412.8 422.8 L413.3 422.8 L413.8 422.8 L414.3 422.8 L414.8 422.8 L415.3 422.8 L415.8 422.18 L416.3 422.8 L416.8 422.8 L417.3 422.8 L417.8 422.8 L418.3 422.8 L418.8 422.8 L419.3 422.8 L419.8 422.8 L420.3 422.8 L420.8 422.8 L421.3 422.8 L421.8 422.8 L422.3 422.8 L422.8 422.8 L423.3 422.8 L423.8 422.8 L424.3 422.8 L424.8 422.8 L425.3 422.8 L425.8 422.8 L426.3 422.8 L426.8 422.8 L427.3 422.8 L427.8 422.8 L428.3 422.8 L428.8 422.8 L429.3 422.8 L429.8 422.8 L430.3 422.8 L430.8 422.8 L431.3 422.8 L431.8 422.8 L432.3 422.8 L432.8 422.8 L433.3 422.8 L433.8 422.8 L434.3 422.8 L434.8 422.8 L435.3 422.8 L435.8 422.8 L436.3 422.8 L436.8 422.8 L437.3 422.1 L437.8 421.98 L438.3 422.8 L438.8 422.8 L439.3 422.8 L439.8 422.8 L440.3 422.8 L440.8 422.8 L441.3 422.8 L441.8 422.17 L442.3 422.04 L442.8 422.8 L443.3 422.8 L443.8 422.8 L444.3 422.8 L444.8 422.8 L445.3 422.8 L445.8 422.8 L446.3 422.8 L446.8 422.8 L447.3 422.8 L447.8 422.8 L448.3 422.8 L448.8 422.8 L449.3 422.8 L449.8 422.8 L450.3 422.8 L450.8 422.8 L451.3 422.8 L451.8 422.8 L452.3 422.8 L452.8 422.8 L453.3 422.8 L453.8 422.8 L454.3 422.8 L454.8 422.8 L455.3 422.8 L455.8 422.8 L456.3 422.8 L456.8 422.8 L457.3 422.8 L457.8 422.8 L458.3 422.8 L458.8 422.8 L459.3 422.8 L459.8 422.8 L460.3 422.8 L460.8 422.8 L461.3 422.8 L461.8 422.8 L462.3 422.8 L462.8 422.8 L463.3 422.8 L463.8 422.8 L464.3 422.8 L464.8 422.8 L465.3 422.8 L465.8 422.8 L466.3 422.8 L466.8 422.08 L467.3 422.8 L467.8 422.8 L468.3 422.8 L468.8 422.8 L469.3 422.8 L469.8 422.8 L470.3 422.8 L470.8 422.8 L471.3 422.8 L471.8 422.8 L472.3 422.8 L472.8 422.8 L473.3 422.8 L473.8 422.8 L474.3 422.8 L474.8 422.8 L475.3 422.8 L475.8 422.8 L476.3 422.8 L476.8 422.8 L477.3 422.8 L477.8 422.8 L478.3 422.8 L478.8 422.8 L479.3 422.8 L479.8 422.8 L480.3 422.8 L480.8 422.8 L481.3 422.8 L481.8 422.8 L482.3 422.8 L482.8 422.8 L483.3 422.8 L483.8 422.8 L484.3 422.8 L484.8 422.8 L485.3 422.8 L485.8 422.8 L486.3 422.16 L486.8 422.11 L487.3 422.8 L487.8 422.8 L488.3 422.8 L488.8 422.8 L489.3 422.8 L489.8 422.8 L490.3 422.8 L490.8 422.8 L491.3 422.8 L491.8 422.8 L492.3 422.8 L492.8 422.8 L493.3 422.8 L493.8 422.8 L494.3 422.8 L494.8 422.8 L495.3 422.8 L495.8 422.8 L496.3 422.8 L496.8 422.8 L497.3 422.8 L497.8 422.8 L498.3 422.8 L498.8 422.8 L499.3 422.8 L499.8 422.8 L500.3 422.8 L500.8 422.8 L501.3 422.8 L501.8 422.8 L502.3 422.8 L502.8 422.8 L503.3 422.8 L503.8 422.8 L504.3 422.8 L504.8 422.8 L505.3 422.8 L505.8 422.01 L506.3 422.8 L506.8 422.8 L507.3 422.8 L507.8 422.8 L508.3 422.8 L508.8 422.8 L509.3 422.8 L509.3 422.8 Z" fill="#3b2c86"/>
<rect x="279" y="385" width="22.7" height="43.8" fill="#f8e5d6" style="mix-blend-mode:multiply"/>
<line x1="92.3" y1="426.7" x2="159.2" y2="426.7" stroke="#ababab" stroke-width="1" />
<line x1="421" y1="426.7" x2="509" y2="426.7" stroke="#ababab" stroke-width="1" />
<rect x="92.9" y="426.2" width="1.6" height="1" fill="#7878d8" />
<rect x="102.5" y="426.2" width="1.6" height="1" fill="#7878d8" />
<rect x="119.2" y="426.2" width="1.6" height="1" fill="#7878d8" />
<rect x="134.6" y="426.2" width="1.6" height="1" fill="#7878d8" />
<rect x="145.4" y="426.2" width="1.6" height="1" fill="#7878d8" />
<rect x="446.2" y="426.2" width="1.6" height="1" fill="#7878d8" />
<rect x="462.2" y="426.2" width="1.6" height="1" fill="#7878d8" />
<rect x="470.2" y="426.2" width="1.6" height="1" fill="#7878d8" />
<rect x="483.2" y="426.2" width="1.6" height="1" fill="#7878d8" />
<rect x="492.2" y="426.2" width="1.6" height="1" fill="#7878d8" />
<rect x="501.2" y="426.2" width="1.6" height="1" fill="#7878d8" />
<rect x="113.6" y="425.1" width="1.2" height="3.2" fill="#777" />
<path d="M123.2 426.7 l2.3 -1.9 v3.8 Z" fill="#000"/>
<ellipse cx="126.9" cy="426.7" rx="1.9" ry="1.8" fill="#000"/>
<rect x="126.7" y="425.6" width="3.4" height="2.2" fill="#000" />
<path d="M131.2 426.7 l-1.9 -1.5 v3 Z" fill="#000"/>
<rect x="152.8" y="424.9" width="4.2" height="3.6" fill="#000" rx="1.3"/>
<rect x="155.8" y="425.5" width="4.4" height="2.4" fill="#000" />
<path d="M322 426.7 l2.2 -1.7 h1.8 v3.4 h-1.8 Z" fill="#000"/>
<line x1="326" y1="426.7" x2="331" y2="426.7" stroke="#aaa" stroke-width="0.7" />
<path d="M336.7 426.7 l-2.2 -1.7 h-3.4 v3.4 h3.4 Z" fill="#000"/>
<rect x="419" y="425.4" width="16.4" height="2.6" fill="#000" rx="1.2"/>
<rect x="434" y="424.3" width="1.6" height="4.8" fill="#000" rx="0.6"/>
<rect x="439.2" y="424.3" width="1.6" height="4.8" fill="#000" rx="0.6"/>
<rect x="455.7" y="424.3" width="1.6" height="4.8" fill="#000" rx="0.6"/>
<rect x="476.2" y="424.3" width="1.6" height="4.8" fill="#000" rx="0.6"/>
<rect x="508.45" y="424.3" width="1.1" height="4.8" fill="#333" />
<text x="0" y="0" font-size="8.22" text-anchor="start" fill="#231f20" transform="translate(100.8 440) scale(0.9250 1)" >1700123020Rik</text>
<text x="0" y="0" font-size="8.22" text-anchor="start" fill="#231f20" transform="translate(320.4 440) scale(0.9250 1)" >Cebpe</text>
<text x="0" y="0" font-size="8.22" text-anchor="start" fill="#231f20" transform="translate(433.8 440) scale(0.9250 1)" >Slc7a8</text>
<text x="7.4" y="462.2" font-size="12.5" text-anchor="start" fill="#231f20" >D</text>
<text x="0" y="0" font-size="8.22" text-anchor="middle" fill="#231f20" transform="translate(301.8 474.8) scale(0.9250 1)" >sub-TAD</text>
<rect x="241.5" y="481" width="127.8" height="35.2" fill="#ededf1" />
<text x="0" y="0" font-size="8.22" text-anchor="end" fill="#231f20" transform="translate(76.3 497.2) scale(0.8233 1)" >CTCF</text>
<text x="0" y="0" font-size="8.22" text-anchor="end" fill="#231f20" transform="translate(76.3 510.05) scale(0.8695 1)" >Rad21</text>
<line x1="79.6" y1="489.5" x2="79.6" y2="515.5" stroke="#231f20" stroke-width="1" />
<text x="0" y="0" font-size="8.22" text-anchor="start" fill="#231f20" transform="translate(83.2 494.15) scale(0.9250 1)" >6</text>
<text x="0" y="0" font-size="8.22" text-anchor="start" fill="#231f20" transform="translate(83.2 510.2) scale(0.9250 1)" >0</text>
<line x1="93.75" y1="493.8" x2="511.4" y2="493.8" stroke="#eceee8" stroke-width="0.6" />
<line x1="93.75" y1="508.2" x2="511.4" y2="508.2" stroke="#f1ede6" stroke-width="0.6" />
<rect x="229.39" y="493.1" width="0.98" height="0.9" fill="#b5cc8e" />
<rect x="365.14" y="493.1" width="0.89" height="0.9" fill="#b5cc8e" />
<rect x="317.39" y="493.1" width="1.24" height="0.9" fill="#b5cc8e" />
<rect x="119.07" y="493.1" width="1.41" height="0.9" fill="#b5cc8e" />
<rect x="110.56" y="493.1" width="1.32" height="0.9" fill="#b5cc8e" />
<rect x="123.99" y="493.1" width="0.91" height="0.9" fill="#b5cc8e" />
<rect x="271.18" y="493.1" width="1.79" height="0.9" fill="#b5cc8e" />
<rect x="146.38" y="493.1" width="1.07" height="0.9" fill="#b5cc8e" />
<rect x="355.38" y="493.1" width="1.94" height="0.9" fill="#b5cc8e" />
<rect x="334.5" y="493.1" width="1.28" height="0.9" fill="#b5cc8e" />
<rect x="500.15" y="493.1" width="0.86" height="0.9" fill="#b5cc8e" />
<rect x="451.26" y="493.1" width="1.15" height="0.9" fill="#b5cc8e" />
<rect x="154.87" y="493.1" width="0.94" height="0.9" fill="#b5cc8e" />
<rect x="223.02" y="493.1" width="1.78" height="0.9" fill="#b5cc8e" />
<rect x="170" y="493.1" width="1.5" height="0.9" fill="#b5cc8e" />
<rect x="360.15" y="493.1" width="1.25" height="0.9" fill="#b5cc8e" />
<rect x="322.31" y="493.1" width="0.88" height="0.9" fill="#b5cc8e" />
<rect x="119.73" y="493.1" width="1.05" height="0.9" fill="#b5cc8e" />
<rect x="377.37" y="493.1" width="1.31" height="0.9" fill="#b5cc8e" />
<rect x="225.37" y="493.1" width="1.5" height="0.9" fill="#b5cc8e" />
<rect x="283.07" y="493.1" width="1.16" height="0.9" fill="#b5cc8e" />
<rect x="424.67" y="493.1" width="1.64" height="0.9" fill="#b5cc8e" />
<rect x="196.3" y="493.1" width="1.49" height="0.9" fill="#b5cc8e" />
<rect x="312.96" y="493.1" width="1.85" height="0.9" fill="#b5cc8e" />
<rect x="397.72" y="493.1" width="1.15" height="0.9" fill="#b5cc8e" />
<rect x="501.77" y="493.1" width="0.94" height="0.9" fill="#b5cc8e" />
<rect x="268.52" y="493.1" width="1.71" height="0.9" fill="#b5cc8e" />
<rect x="158.07" y="493.1" width="1.39" height="0.9" fill="#b5cc8e" />
<rect x="111.27" y="493.1" width="1.6" height="0.9" fill="#b5cc8e" />
<rect x="412.3" y="493.1" width="1.49" height="0.9" fill="#b5cc8e" />
<rect x="458.32" y="493.1" width="1.18" height="0.9" fill="#b5cc8e" />
<rect x="383.55" y="493.1" width="1.51" height="0.9" fill="#b5cc8e" />
<rect x="335.66" y="493.1" width="1.35" height="0.9" fill="#b5cc8e" />
<rect x="443.59" y="493.1" width="1.93" height="0.9" fill="#b5cc8e" />
<rect x="291.75" y="493.1" width="1.6" height="0.9" fill="#b5cc8e" />
<rect x="120.18" y="493.1" width="1.64" height="0.9" fill="#b5cc8e" />
<rect x="363.56" y="493.1" width="1.99" height="0.9" fill="#b5cc8e" />
<rect x="436.1" y="493.1" width="1.14" height="0.9" fill="#b5cc8e" />
<rect x="255.1" y="493.1" width="1.6" height="0.9" fill="#b5cc8e" />
<rect x="104.36" y="493.1" width="1.35" height="0.9" fill="#b5cc8e" />
<rect x="164.74" y="493.1" width="0.94" height="0.9" fill="#b5cc8e" />
<rect x="119.47" y="493.1" width="1.72" height="0.9" fill="#b5cc8e" />
<rect x="148.68" y="493.1" width="1.1" height="0.9" fill="#b5cc8e" />
<rect x="257.24" y="493.1" width="1.85" height="0.9" fill="#b5cc8e" />
<rect x="128.44" y="493.1" width="1.34" height="0.9" fill="#b5cc8e" />
<rect x="323.02" y="507.5" width="1.86" height="0.9" fill="#f3c588" />
<rect x="435" y="507.5" width="1.84" height="0.9" fill="#f3c588" />
<rect x="210.54" y="507.5" width="1.3" height="0.9" fill="#f3c588" />
<rect x="243.89" y="507.5" width="1.86" height="0.9" fill="#f3c588" />
<rect x="492.46" y="507.5" width="0.98" height="0.9" fill="#f3c588" />
<rect x="168.13" y="507.5" width="1.08" height="0.9" fill="#f3c588" />
<rect x="191.83" y="507.5" width="1.38" height="0.9" fill="#f3c588" />
<rect x="339.49" y="507.5" width="1.12" height="0.9" fill="#f3c588" />
<rect x="96.7" y="507.5" width="1.3" height="0.9" fill="#f3c588" />
<rect x="248.24" y="507.5" width="1.48" height="0.9" fill="#f3c588" />
<rect x="490.54" y="507.5" width="1.63" height="0.9" fill="#f3c588" />
<rect x="308.93" y="507.5" width="1.54" height="0.9" fill="#f3c588" />
<rect x="375.62" y="507.5" width="0.86" height="0.9" fill="#f3c588" />
<rect x="468.31" y="507.5" width="1.74" height="0.9" fill="#f3c588" />
<rect x="457.92" y="507.5" width="1.76" height="0.9" fill="#f3c588" />
<rect x="257.84" y="507.5" width="1.28" height="0.9" fill="#f3c588" />
<rect x="137.97" y="507.5" width="1.56" height="0.9" fill="#f3c588" />
<rect x="120.83" y="507.5" width="0.88" height="0.9" fill="#f3c588" />
<rect x="181.64" y="507.5" width="0.99" height="0.9" fill="#f3c588" />
<rect x="236.12" y="507.5" width="0.86" height="0.9" fill="#f3c588" />
<rect x="95.1" y="507.5" width="0.98" height="0.9" fill="#f3c588" />
<rect x="137.11" y="507.5" width="1.24" height="0.9" fill="#f3c588" />
<rect x="105.58" y="507.5" width="1.85" height="0.9" fill="#f3c588" />
<rect x="349.84" y="507.5" width="0.98" height="0.9" fill="#f3c588" />
<rect x="199.69" y="507.5" width="1.22" height="0.9" fill="#f3c588" />
<rect x="246.13" y="507.5" width="0.95" height="0.9" fill="#f3c588" />
<rect x="447.31" y="507.5" width="1.99" height="0.9" fill="#f3c588" />
<rect x="288.39" y="507.5" width="1.38" height="0.9" fill="#f3c588" />
<rect x="130.64" y="507.5" width="0.92" height="0.9" fill="#f3c588" />
<rect x="237.19" y="507.5" width="1.12" height="0.9" fill="#f3c588" />
<rect x="438.97" y="507.5" width="0.99" height="0.9" fill="#f3c588" />
<rect x="104.58" y="507.5" width="1.94" height="0.9" fill="#f3c588" />
<rect x="314.23" y="507.5" width="0.98" height="0.9" fill="#f3c588" />
<rect x="320.42" y="507.5" width="0.83" height="0.9" fill="#f3c588" />
<rect x="314.17" y="507.5" width="1.97" height="0.9" fill="#f3c588" />
<rect x="453.28" y="507.5" width="1.64" height="0.9" fill="#f3c588" />
<rect x="203.36" y="507.5" width="1.24" height="0.9" fill="#f3c588" />
<rect x="164.32" y="507.5" width="1.73" height="0.9" fill="#f3c588" />
<rect x="316.03" y="507.5" width="1.73" height="0.9" fill="#f3c588" />
<rect x="231.81" y="507.5" width="1.07" height="0.9" fill="#f3c588" />
<rect x="431.78" y="507.5" width="1.98" height="0.9" fill="#f3c588" />
<rect x="448.84" y="507.5" width="1.77" height="0.9" fill="#f3c588" />
<rect x="434.61" y="507.5" width="1.69" height="0.9" fill="#f3c588" />
<rect x="189.1" y="507.5" width="1.42" height="0.9" fill="#f3c588" />
<rect x="242.56" y="507.5" width="0.83" height="0.9" fill="#f3c588" />
<rect x="106.59" y="507.5" width="1.14" height="0.9" fill="#f3c588" />
<rect x="202.56" y="507.5" width="1.63" height="0.9" fill="#f3c588" />
<rect x="491.95" y="507.5" width="1.34" height="0.9" fill="#f3c588" />
<rect x="483.86" y="507.5" width="1.99" height="0.9" fill="#f3c588" />
<rect x="491.33" y="507.5" width="1.24" height="0.9" fill="#f3c588" />
<rect x="186.49" y="507.5" width="1.07" height="0.9" fill="#f3c588" />
<rect x="176.63" y="507.5" width="1.05" height="0.9" fill="#f3c588" />
<rect x="353.99" y="507.5" width="1.88" height="0.9" fill="#f3c588" />
<rect x="443.78" y="507.5" width="1.38" height="0.9" fill="#f3c588" />
<rect x="365.99" y="507.5" width="1.76" height="0.9" fill="#f3c588" />
<path d="M240 493.8 L240 493.8 L240.5 493.8 L241 493.8 L241.5 493.8 L242 493.8 L242.5 493.8 L243 493.8 L243.5 493.8 L244 493.8 L244.5 493.8 L245 493.8 L245.5 493.8 L246 493.8 L246.5 493.8 L247 493.8 L247.5 493.8 L248 493.8 L248.5 493.8 L249 493.8 L249.5 491.38 L250 488.95 L250.5 487.79 L251 488.51 L251.5 489.95 L252 491.88 L252.5 493.8 L253 493.8 L253.5 493.8 L254 493.8 L254.5 493.8 L255 493.8 L255.5 493.8 L256 493.8 L256.5 493.8 L257 493.8 L257.5 493.8 L258 493.8 L258.5 493.8 L259 493.8 L259.5 493.8 L260 493.8 L260 493.8 Z" fill="#6da03a"/>
<path d="M345 493.8 L345 493.8 L345.5 493.8 L346 493.8 L346.5 493.8 L347 493.8 L347.5 493.8 L348 493.8 L348.5 493.8 L349 493.8 L349.5 493.8 L350 493.8 L350.5 493.8 L351 493.8 L351.5 493.8 L352 493.8 L352.5 493.8 L353 493.8 L353.5 493 L354 491 L354.5 489 L355 488.1 L355.5 488.85 L356 490.05 L356.5 491.93 L357 493.8 L357.5 493.8 L358 493.8 L358.5 493.8 L359 493.8 L359.5 493.8 L360 493.8 L360.5 493.8 L361 493.8 L361.5 493.8 L362 493.8 L362.5 493.8 L363 493.8 L363.5 493.8 L364 493.8 L364.5 493.8 L365 493.8 L365 493.8 Z" fill="#6da03a"/>
<path d="M240 508.2 L240 508.2 L240.5 508.2 L241 508.2 L241.5 508.2 L242 508.2 L242.5 508.2 L243 508.2 L243.5 508.2 L244 508.2 L244.5 508.2 L245 508.2 L245.5 508.2 L246 508.2 L246.5 508.2 L247 508.2 L247.5 508.2 L248 508.2 L248.5 508.2 L249 506.43 L249.5 502.01 L250 497.58 L250.5 497.81 L251 499.2 L251.5 502.7 L252 506.2 L252.5 506.5 L253 506.8 L253.5 507.1 L254 507.4 L254.5 507.7 L255 508.2 L255.5 508.2 L256 508.2 L256.5 508.2 L257 508.2 L257.5 508.2 L258 508.2 L258.5 508.2 L259 508.2 L259.5 508.2 L260 508.2 L260 508.2 Z" fill="#eba233"/>
<path d="M345 508.2 L345 508.2 L345.5 508.2 L346 508.2 L346.5 508.2 L347 508.2 L347.5 508.2 L348 508.2 L348.5 508.2 L349 508.2 L349.5 508.2 L350 508.2 L350.5 508.2 L351 508.2 L351.5 508.2 L352 508.2 L352.5 508.2 L353 508.2 L353.5 506.59 L354 503.91 L354.5 501.24 L355 501.3 L355.5 502.05 L356 503.7 L356.5 505.57 L357 506.82 L357.5 507.11 L358 507.41 L358.5 507.7 L359 508.2 L359.5 508.2 L360 508.2 L360.5 508.2 L361 508.2 L361.5 508.2 L362 508.2 L362.5 508.2 L363 508.2 L363.5 508.2 L364 508.2 L364.5 508.2 L365 508.2 L365 508.2 Z" fill="#eba233"/>
<line x1="93.75" y1="512.6" x2="160" y2="512.6" stroke="#ababab" stroke-width="1" />
<line x1="422.4" y1="512.6" x2="511.1" y2="512.6" stroke="#ababab" stroke-width="1" />
<rect x="94.2" y="512.1" width="1.6" height="1" fill="#7878d8" />
<rect x="103.7" y="512.1" width="1.6" height="1" fill="#7878d8" />
<rect x="120" y="512.1" width="1.6" height="1" fill="#7878d8" />
<rect x="136.1" y="512.1" width="1.6" height="1" fill="#7878d8" />
<rect x="146.3" y="512.1" width="1.6" height="1" fill="#7878d8" />
<rect x="447.9" y="512.1" width="1.6" height="1" fill="#7878d8" />
<rect x="463.2" y="512.1" width="1.6" height="1" fill="#7878d8" />
<rect x="473.5" y="512.1" width="1.6" height="1" fill="#7878d8" />
<rect x="484.8" y="512.1" width="1.6" height="1" fill="#7878d8" />
<rect x="494.6" y="512.1" width="1.6" height="1" fill="#7878d8" />
<rect x="504.2" y="512.1" width="1.6" height="1" fill="#7878d8" />
<rect x="114.4" y="511" width="1.2" height="3.2" fill="#777" />
<path d="M124 512.6 l2.3 -1.9 v3.8 Z" fill="#000"/>
<ellipse cx="127.7" cy="512.6" rx="1.9" ry="1.8" fill="#000"/>
<rect x="127.5" y="511.5" width="3.4" height="2.2" fill="#000" />
<path d="M132 512.6 l-1.9 -1.5 v3 Z" fill="#000"/>
<rect x="153.6" y="510.8" width="4.2" height="3.6" fill="#000" rx="1.3"/>
<rect x="156.6" y="511.4" width="4.4" height="2.4" fill="#000" />
<path d="M322.9 512.6 l2.2 -1.7 h1.8 v3.4 h-1.8 Z" fill="#3c3c3e"/>
<line x1="326.9" y1="512.6" x2="331.9" y2="512.6" stroke="#aaa" stroke-width="0.7" />
<path d="M337.6 512.6 l-2.2 -1.7 h-3.4 v3.4 h3.4 Z" fill="#3c3c3e"/>
<rect x="420.4" y="511.3" width="16.4" height="2.6" fill="#000" rx="1.2"/>
<rect x="435.4" y="510.2" width="1.6" height="4.8" fill="#000" rx="0.6"/>
<rect x="441.1" y="510.2" width="1.6" height="4.8" fill="#000" rx="0.6"/>
<rect x="457.2" y="510.2" width="1.6" height="4.8" fill="#000" rx="0.6"/>
<rect x="478.2" y="510.2" width="1.6" height="4.8" fill="#000" rx="0.6"/>
<rect x="510.55" y="510.2" width="1.1" height="4.8" fill="#333" />
<text x="0" y="0" font-size="8.22" text-anchor="start" fill="#231f20" transform="translate(102.3 528.4) scale(0.9250 1)" >1700123020Rik</text>
<text x="0" y="0" font-size="8.22" text-anchor="start" fill="#231f20" transform="translate(320 528.4) scale(0.9250 1)" >Cebpe</text>
<text x="0" y="0" font-size="8.22" text-anchor="start" fill="#231f20" transform="translate(437.9 528.2) scale(0.9250 1)" >Slc7a8</text>
<text x="0" y="0" font-size="12.5" fill="#231f20" transform="translate(7 549.8) scale(0.72 1)">E</text>
<rect x="199.4" y="586.6" width="5.3" height="125.6" fill="#abb3d9" stroke="#7d84bf" stroke-width="0.9"/>
<line x1="202.1" y1="588" x2="202.1" y2="712" stroke="#d23446" stroke-width="0.75" stroke-dasharray="0.8 1.6"/>
<text x="0" y="0" font-size="8.22" text-anchor="middle" fill="#231f20" transform="translate(202.3 563.4) scale(0.9250 1)" >+6kb from Cebpe TSS</text>
<text x="0" y="0" font-size="8.22" text-anchor="middle" fill="#231f20" transform="translate(202.3 572.7) scale(0.9250 1)" >chr14:55,330,487-55,335,487</text>
<text x="0" y="0" font-size="8.22" text-anchor="start" fill="#231f20" transform="translate(114.4 585.7) scale(0.9250 1)" >Acin1</text>
<line x1="119.2" y1="592.6" x2="130" y2="592.6" stroke="#4a1620" stroke-width="1.2" />
<path d="M120.9 592.6 l2.6 -1.8 M120.9 592.6 l2.6 1.8" stroke="#1a0a0c" stroke-width="0.9" fill="none"/>
<text x="0" y="0" font-size="8.22" text-anchor="start" fill="#231f20" transform="translate(100 602.5) scale(0.9250 1)" >Psmb11</text>
<rect x="112" y="608" width="3.6" height="2.7" fill="#1a0508" />
<text x="0" y="0" font-size="8.22" text-anchor="start" fill="#231f20" transform="translate(143.8 604.2) scale(0.9250 1)" >Cdh24</text>
<line x1="129.8" y1="611.4" x2="180.6" y2="611.4" stroke="#4a1620" stroke-width="1.2" />
<path d="M133.2 611.4 l2.6 -1.8 M133.2 611.4 l2.6 1.8" stroke="#1a0a0c" stroke-width="0.9" fill="none"/>
<path d="M139.1 611.4 l2.6 -1.8 M139.1 611.4 l2.6 1.8" stroke="#1a0a0c" stroke-width="0.9" fill="none"/>
<path d="M144.9 611.4 l2.6 -1.8 M144.9 611.4 l2.6 1.8" stroke="#1a0a0c" stroke-width="0.9" fill="none"/>
<path d="M150.7 611.4 l2.6 -1.8 M150.7 611.4 l2.6 1.8" stroke="#1a0a0c" stroke-width="0.9" fill="none"/>
<path d="M156.2 611.4 l2.6 -1.8 M156.2 611.4 l2.6 1.8" stroke="#1a0a0c" stroke-width="0.9" fill="none"/>
<path d="M162 611.4 l2.6 -1.8 M162 611.4 l2.6 1.8" stroke="#1a0a0c" stroke-width="0.9" fill="none"/>
<path d="M167.8 611.4 l2.6 -1.8 M167.8 611.4 l2.6 1.8" stroke="#1a0a0c" stroke-width="0.9" fill="none"/>
<path d="M173.2 611.4 l2.6 -1.8 M173.2 611.4 l2.6 1.8" stroke="#1a0a0c" stroke-width="0.9" fill="none"/>
<text x="0" y="0" font-size="8.22" text-anchor="start" fill="#231f20" transform="translate(242.5 609) scale(0.9250 1)" >Slc7a8</text>
<line x1="220" y1="615.9" x2="286.8" y2="615.9" stroke="#4a1620" stroke-width="1.2" />
<path d="M222.5 615.9 l2.6 -1.8 M222.5 615.9 l2.6 1.8" stroke="#1a0a0c" stroke-width="0.9" fill="none"/>
<path d="M227.85 615.9 l2.6 -1.8 M227.85 615.9 l2.6 1.8" stroke="#1a0a0c" stroke-width="0.9" fill="none"/>
<path d="M233.2 615.9 l2.6 -1.8 M233.2 615.9 l2.6 1.8" stroke="#1a0a0c" stroke-width="0.9" fill="none"/>
<path d="M238.55 615.9 l2.6 -1.8 M238.55 615.9 l2.6 1.8" stroke="#1a0a0c" stroke-width="0.9" fill="none"/>
<path d="M243.9 615.9 l2.6 -1.8 M243.9 615.9 l2.6 1.8" stroke="#1a0a0c" stroke-width="0.9" fill="none"/>
<path d="M249.25 615.9 l2.6 -1.8 M249.25 615.9 l2.6 1.8" stroke="#1a0a0c" stroke-width="0.9" fill="none"/>
<path d="M254.6 615.9 l2.6 -1.8 M254.6 615.9 l2.6 1.8" stroke="#1a0a0c" stroke-width="0.9" fill="none"/>
<path d="M259.95 615.9 l2.6 -1.8 M259.95 615.9 l2.6 1.8" stroke="#1a0a0c" stroke-width="0.9" fill="none"/>
<path d="M265.3 615.9 l2.6 -1.8 M265.3 615.9 l2.6 1.8" stroke="#1a0a0c" stroke-width="0.9" fill="none"/>
<path d="M270.65 615.9 l2.6 -1.8 M270.65 615.9 l2.6 1.8" stroke="#1a0a0c" stroke-width="0.9" fill="none"/>
<path d="M276 615.9 l2.6 -1.8 M276 615.9 l2.6 1.8" stroke="#1a0a0c" stroke-width="0.9" fill="none"/>
<path d="M281.35 615.9 l2.6 -1.8 M281.35 615.9 l2.6 1.8" stroke="#1a0a0c" stroke-width="0.9" fill="none"/>
<text x="0" y="0" font-size="8.22" text-anchor="start" fill="#231f20" transform="translate(71.2 620.8) scale(0.9250 1)" >4931414P19Rik</text>
<line x1="65" y1="628.4" x2="90.3" y2="628.4" stroke="#4a1620" stroke-width="1.2" />
<path d="M78.6 628.4 l2.6 -1.8 M78.6 628.4 l2.6 1.8" stroke="#1a0a0c" stroke-width="0.9" fill="none"/>
<path d="M83.9 628.4 l2.6 -1.8 M83.9 628.4 l2.6 1.8" stroke="#1a0a0c" stroke-width="0.9" fill="none"/>
<text x="0" y="0" font-size="8.22" text-anchor="start" fill="#231f20" transform="translate(155.6 635.5) scale(0.9250 1)" >1700123O20Rik</text>
<rect x="180.2" y="641.3" width="4.1" height="2.4" fill="#000" />
<text x="0" y="0" font-size="8.22" text-anchor="start" fill="#231f20" transform="translate(89 641) scale(0.9250 1)" >Mir686</text>
<text x="0" y="0" font-size="8.22" text-anchor="start" fill="#231f20" transform="translate(89.6 650.2) scale(0.9250 1)" >Psmb5</text>
<rect x="99.2" y="655.8" width="4.3" height="2.7" fill="#000" />
<text x="0" y="0" font-size="8.22" text-anchor="start" fill="#231f20" transform="translate(185.9 653.2) scale(0.9250 1)" >Cebpe</text>
<rect x="206.8" y="658.4" width="2" height="3" fill="#000" />
<text x="0" y="0" font-size="8.22" text-anchor="start" fill="#231f20" transform="translate(115 665.7) scale(0.9250 1)" >4930579G18Rik</text>
<rect x="139.6" y="671.5" width="5.4" height="2.6" fill="#000" />
<text x="0" y="0" font-size="8.22" text-anchor="start" fill="#231f20" transform="translate(221.3 667.2) scale(0.9019 1)" >chr14: 55,329,200-55,331,011</text>
<text x="0" y="0" font-size="8.22" text-anchor="end" fill="#231f20" transform="translate(74.8 671.4) scale(0.9250 1)" >60k</text>
<text x="0" y="0" font-size="8.22" text-anchor="end" fill="#231f20" transform="translate(72 709.4) scale(0.9250 1)" >0</text>
<text x="0" y="0" font-size="8.6" text-anchor="middle" fill="#231f20" transform="translate(56.3 687.7) rotate(-90) scale(1 1)" dominant-baseline="central">Reads</text>
<line x1="79.6" y1="665.9" x2="79.6" y2="709" stroke="#111" stroke-width="1.2" />
<line x1="76.2" y1="669" x2="79.6" y2="669" stroke="#333" stroke-width="0.9" />
<line x1="76.2" y1="681.6" x2="79.6" y2="681.6" stroke="#333" stroke-width="0.9" />
<line x1="76.2" y1="694.2" x2="79.6" y2="694.2" stroke="#333" stroke-width="0.9" />
<line x1="76.2" y1="706.7" x2="79.6" y2="706.7" stroke="#333" stroke-width="0.9" />
<line x1="79.8" y1="708.6" x2="322.6" y2="708.6" stroke="#111" stroke-width="0.9" />
<line x1="81.3" y1="708.6" x2="81.3" y2="711.8" stroke="#111" stroke-width="1" />
<line x1="322.4" y1="708.6" x2="322.4" y2="711.8" stroke="#111" stroke-width="1" />
<circle cx="84.7" cy="699.6" r="2.8" fill="#efc4b4"/>
<circle cx="89.9" cy="701" r="2.8" fill="#f9ebe6"/>
<circle cx="95.7" cy="700.6" r="2.8" fill="#f9ebe6"/>
<circle cx="106.5" cy="704.4" r="2.8" fill="#f9ebe6"/>
<circle cx="112.2" cy="699" r="2.8" fill="#b35a4a"/>
<circle cx="129" cy="697.5" r="2.8" fill="#9c1c34"/>
<circle cx="134.7" cy="687.5" r="2.8" fill="#9c1c34"/>
<circle cx="140.1" cy="686.2" r="2.8" fill="#9c1c34"/>
<circle cx="145.7" cy="690" r="2.8" fill="#9c1c34"/>
<circle cx="151.5" cy="693.3" r="2.8" fill="#9c1c34"/>
<circle cx="156.8" cy="689.8" r="2.8" fill="#9c1c34"/>
<circle cx="162.6" cy="692.7" r="2.8" fill="#9c1c34"/>
<circle cx="168.4" cy="693.8" r="2.8" fill="#9c1c34"/>
<circle cx="191.5" cy="703.5" r="2.8" fill="#f9ebe6"/>
<circle cx="202.7" cy="701.2" r="2.8" fill="#efc4b4"/>
<circle cx="208.5" cy="665" r="2.8" fill="#9c1c34"/>
<circle cx="214.2" cy="692.5" r="2.8" fill="#9c1c34"/>
<circle cx="219.5" cy="693.8" r="2.8" fill="#9c1c34"/>
<circle cx="230.5" cy="701.7" r="2.8" fill="#f9ebe6"/>
<circle cx="236.2" cy="699.2" r="2.8" fill="#efc4b4"/>
<circle cx="247.5" cy="703" r="2.8" fill="#f9ebe6"/>
<circle cx="253" cy="697" r="2.8" fill="#9c1c34"/>
<circle cx="270" cy="697" r="2.8" fill="#9c1c34"/>
<circle cx="275.5" cy="692.5" r="2.8" fill="#9c1c34"/>
<circle cx="287" cy="686.2" r="2.8" fill="#9c1c34"/>
<circle cx="292.5" cy="704.5" r="2.8" fill="#f9ebe6"/>
<circle cx="298" cy="695" r="2.8" fill="#9c1c34"/>
<circle cx="308.8" cy="697" r="2.8" fill="#9c1c34"/>
<circle cx="320" cy="702.5" r="2.8" fill="#efc4b4"/>
<polyline points="84.7,699.6 89.9,701 95.7,700.6 106.5,704.4 112.2,699 118.4,704.8 129,697.5 134.7,687.5 140.1,686.2 145.7,690 151.5,693.3 156.8,689.8 162.6,692.7 168.4,693.8 175,705.2 191.5,703.5 202.7,701.2 208.5,665 214.2,692.5 219.5,693.8 226.2,700 230.5,701.7 236.2,699.2 242.5,705 247.5,703 253,697 270,697 275.5,692.5 287,686.2 292.5,704.5 298,695 308.8,697 314.5,704.2 320,702.5" fill="none" stroke="#1a1a1a" stroke-width="0.9" stroke-linejoin="round"/>
<text x="0" y="0" font-size="8.22" text-anchor="start" fill="#231f20" transform="translate(337.7 598.2) scale(0.9250 1)" >q-value</text>
<rect x="338.8" y="606.4" width="4.4" height="4.4" fill="#9b1b30" stroke="#333" stroke-width="0.5"/>
<text x="0" y="0" font-size="8.22" text-anchor="start" fill="#231f20" transform="translate(346.4 610.9) scale(0.8788 1)" >&lt;0.00001</text>
<rect x="338.8" y="618.51" width="4.4" height="4.4" fill="#b4464a" stroke="#333" stroke-width="0.5"/>
<text x="0" y="0" font-size="8.22" text-anchor="start" fill="#231f20" transform="translate(346.4 623.01) scale(0.8788 1)" >&lt;0.0001</text>
<rect x="338.8" y="630.62" width="4.4" height="4.4" fill="#c05a50" stroke="#333" stroke-width="0.5"/>
<text x="0" y="0" font-size="8.22" text-anchor="start" fill="#231f20" transform="translate(346.4 635.12) scale(0.8788 1)" >&lt;0.001</text>
<rect x="338.8" y="642.73" width="4.4" height="4.4" fill="#c8705e" stroke="#333" stroke-width="0.5"/>
<text x="0" y="0" font-size="8.22" text-anchor="start" fill="#231f20" transform="translate(346.4 647.23) scale(0.8788 1)" >&lt;0.001</text>
<rect x="338.8" y="654.84" width="4.4" height="4.4" fill="#d48876" stroke="#333" stroke-width="0.5"/>
<text x="0" y="0" font-size="8.22" text-anchor="start" fill="#231f20" transform="translate(346.4 659.34) scale(0.8788 1)" >&lt;0.005</text>
<rect x="338.8" y="666.95" width="4.4" height="4.4" fill="#e0a090" stroke="#333" stroke-width="0.5"/>
<text x="0" y="0" font-size="8.22" text-anchor="start" fill="#231f20" transform="translate(346.4 671.45) scale(0.8788 1)" >&lt;0.1</text>
<rect x="338.8" y="679.06" width="4.4" height="4.4" fill="#ecc4b6" stroke="#333" stroke-width="0.5"/>
<text x="0" y="0" font-size="8.22" text-anchor="start" fill="#231f20" transform="translate(346.4 683.56) scale(0.8788 1)" >&lt;0.2</text>
<rect x="338.8" y="691.17" width="4.4" height="4.4" fill="#f8ece8" stroke="#333" stroke-width="0.5"/>
<text x="0" y="0" font-size="8.22" text-anchor="start" fill="#231f20" transform="translate(346.4 695.67) scale(0.8788 1)" >&lt;0.5</text>
<rect x="338.8" y="703.28" width="4.4" height="4.4" fill="#fdfdfd" stroke="#333" stroke-width="0.5"/>
<text x="0" y="0" font-size="8.22" text-anchor="start" fill="#231f20" transform="translate(346.4 707.78) scale(0.8788 1)" >&lt;0.5</text>
<rect x="0" y="0" width="520" height="1" fill="#555" />
<rect x="0" y="1" width="520" height="1" fill="#b8b8b8" />
<rect x="0" y="0" width="1" height="719" fill="#000" />
<rect x="1" y="0" width="0.6" height="719" fill="#888" />
<rect x="519" y="0" width="1" height="719" fill="#000" />
<rect x="0" y="717" width="520" height="2" fill="#000" />
</svg></body></html>
